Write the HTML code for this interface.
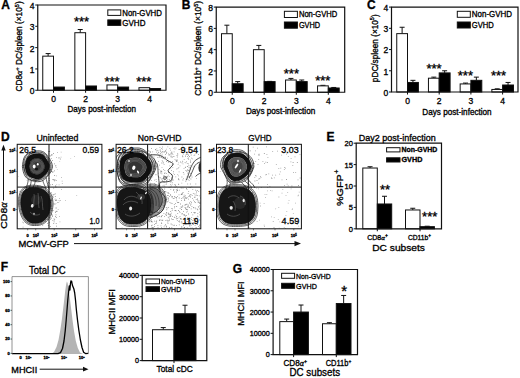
<!DOCTYPE html>
<html><head><meta charset="utf-8"><style>
html,body{margin:0;padding:0;background:#fff;}
body{width:520px;height:378px;overflow:hidden;}
svg{display:block;font-family:"Liberation Sans", sans-serif;}
text{fill:#000;stroke:#000;stroke-width:0.32px;}
</style></head><body>
<svg width="520" height="378" viewBox="0 0 520 378">
<rect width="520" height="378" fill="#fff"/>
<line x1="48.12" y1="53.59" x2="48.12" y2="56.15" stroke="#111" stroke-width="1.0"/>
<line x1="45.62" y1="53.59" x2="50.62" y2="53.59" stroke="#111" stroke-width="1.0"/>
<rect x="42.75" y="56.15" width="10.75" height="34.10" fill="#fff" stroke="#111" stroke-width="1.0"/>
<rect x="53.50" y="87.05" width="10.90" height="3.20" fill="#000" stroke="#111" stroke-width="1.0"/>
<line x1="80.22" y1="29.51" x2="80.22" y2="32.71" stroke="#111" stroke-width="1.0"/>
<line x1="77.72" y1="29.51" x2="82.72" y2="29.51" stroke="#111" stroke-width="1.0"/>
<rect x="74.85" y="32.71" width="10.75" height="57.54" fill="#fff" stroke="#111" stroke-width="1.0"/>
<rect x="85.60" y="85.99" width="10.90" height="4.26" fill="#000" stroke="#111" stroke-width="1.0"/>
<rect x="106.95" y="84.92" width="10.75" height="5.33" fill="#fff" stroke="#111" stroke-width="1.0"/>
<rect x="117.70" y="87.05" width="10.90" height="3.20" fill="#000" stroke="#111" stroke-width="1.0"/>
<rect x="138.95" y="87.69" width="10.75" height="2.56" fill="#fff" stroke="#111" stroke-width="1.0"/>
<rect x="149.70" y="88.55" width="10.90" height="1.70" fill="#000" stroke="#111" stroke-width="1.0"/>
<path d="M37.75 90.25 V5.00 H166.00 V90.25 Z" fill="none" stroke="#111" stroke-width="1.2"/>
<line x1="35.25" y1="90.25" x2="37.75" y2="90.25" stroke="#111" stroke-width="1.0"/>
<g transform="translate(34.45 94.12)"><text class="m" data-k="7652c15eb8" font-size="8.5" text-anchor="end" >0</text></g>
<line x1="35.25" y1="68.94" x2="37.75" y2="68.94" stroke="#111" stroke-width="1.0"/>
<g transform="translate(34.45 72.81)"><text class="m" data-k="2e01a6516e" font-size="8.5" text-anchor="end" >1</text></g>
<line x1="35.25" y1="47.62" x2="37.75" y2="47.62" stroke="#111" stroke-width="1.0"/>
<g transform="translate(34.45 51.50)"><text class="m" data-k="d36840736b" font-size="8.5" text-anchor="end" >2</text></g>
<line x1="35.25" y1="26.31" x2="37.75" y2="26.31" stroke="#111" stroke-width="1.0"/>
<g transform="translate(34.45 30.19)"><text class="m" data-k="c0ca9c3d36" font-size="8.5" text-anchor="end" >3</text></g>
<line x1="35.25" y1="5.00" x2="37.75" y2="5.00" stroke="#111" stroke-width="1.0"/>
<g transform="translate(34.45 8.88)"><text class="m" data-k="cc4c222c48" font-size="8.5" text-anchor="end" >4</text></g>
<line x1="53.50" y1="90.25" x2="53.50" y2="92.75" stroke="#111" stroke-width="1.0"/>
<g transform="translate(53.50 101.80)"><text class="m" data-k="7652c15eb8" font-size="8.5" text-anchor="middle" >0</text></g>
<line x1="85.60" y1="90.25" x2="85.60" y2="92.75" stroke="#111" stroke-width="1.0"/>
<g transform="translate(85.60 101.80)"><text class="m" data-k="d36840736b" font-size="8.5" text-anchor="middle" >2</text></g>
<line x1="117.70" y1="90.25" x2="117.70" y2="92.75" stroke="#111" stroke-width="1.0"/>
<g transform="translate(117.70 101.80)"><text class="m" data-k="c0ca9c3d36" font-size="8.5" text-anchor="middle" >3</text></g>
<line x1="149.70" y1="90.25" x2="149.70" y2="92.75" stroke="#111" stroke-width="1.0"/>
<g transform="translate(149.70 101.80)"><text class="m" data-k="cc4c222c48" font-size="8.5" text-anchor="middle" >4</text></g>
<g transform="translate(101.80 111.70) scale(0.9727 1)"><text class="m" data-k="b7d77f60c7" font-size="8.3" text-anchor="middle" >Days post-infection</text></g>
<g transform="translate(81.50 25.56)"><text class="m" data-k="a80f26dd0e" font-size="13" text-anchor="middle" >***</text></g>
<g transform="translate(112.10 85.76)"><text class="m" data-k="a80f26dd0e" font-size="13" text-anchor="middle" >***</text></g>
<g transform="translate(143.80 85.76)"><text class="m" data-k="a80f26dd0e" font-size="13" text-anchor="middle" >***</text></g>
<rect x="107.80" y="9.90" width="13.00" height="5.50" fill="#fff" stroke="#111" stroke-width="1.0"/>
<rect x="107.80" y="19.90" width="13.00" height="5.50" fill="#000" stroke="#111" stroke-width="1.0"/>
<g transform="translate(122.30 15.58) scale(0.9563 1)"><text class="m" data-k="41c94f9363" font-size="8.2" text-anchor="start" >Non-GVHD</text></g>
<g transform="translate(122.30 25.58) scale(0.9776 1)"><text class="m" data-k="4a9102319d" font-size="8.2" text-anchor="start" >GVHD</text></g>
<g transform="translate(9.80 9.00)"><text class="m" data-k="0770324ede" font-size="12" text-anchor="end" font-weight="bold" >A</text></g>
<g transform="translate(22.20 46.45) rotate(-90) scale(0.9457 1)"><text class="m" data-k="2976ca9b96" font-size="8.8" text-anchor="middle" >CD8<tspan font-family="Liberation Serif" font-style="italic">α</tspan><tspan dy="-3.6" font-size="5.8">+</tspan><tspan dy="3.6"> DC/spleen (×10</tspan><tspan dy="-3.6" font-size="5.8">5</tspan><tspan dy="3.6">)</tspan></text></g>
<line x1="226.88" y1="25.19" x2="226.88" y2="33.71" stroke="#111" stroke-width="1.0"/>
<line x1="224.38" y1="25.19" x2="229.38" y2="25.19" stroke="#111" stroke-width="1.0"/>
<rect x="221.50" y="33.71" width="10.75" height="58.54" fill="#fff" stroke="#111" stroke-width="1.0"/>
<line x1="237.70" y1="81.61" x2="237.70" y2="83.73" stroke="#111" stroke-width="1.0"/>
<line x1="235.20" y1="81.61" x2="240.20" y2="81.61" stroke="#111" stroke-width="1.0"/>
<rect x="232.25" y="83.73" width="10.90" height="8.52" fill="#000" stroke="#111" stroke-width="1.0"/>
<line x1="258.82" y1="45.42" x2="258.82" y2="49.67" stroke="#111" stroke-width="1.0"/>
<line x1="256.32" y1="45.42" x2="261.32" y2="45.42" stroke="#111" stroke-width="1.0"/>
<rect x="253.45" y="49.67" width="10.75" height="42.58" fill="#fff" stroke="#111" stroke-width="1.0"/>
<line x1="269.65" y1="81.39" x2="269.65" y2="81.61" stroke="#111" stroke-width="1.0"/>
<line x1="267.15" y1="81.39" x2="272.15" y2="81.39" stroke="#111" stroke-width="1.0"/>
<rect x="264.20" y="81.61" width="10.90" height="10.64" fill="#000" stroke="#111" stroke-width="1.0"/>
<line x1="290.93" y1="78.41" x2="290.93" y2="80.01" stroke="#111" stroke-width="1.0"/>
<line x1="288.43" y1="78.41" x2="293.43" y2="78.41" stroke="#111" stroke-width="1.0"/>
<rect x="285.55" y="80.01" width="10.75" height="12.24" fill="#fff" stroke="#111" stroke-width="1.0"/>
<line x1="301.75" y1="80.01" x2="301.75" y2="81.61" stroke="#111" stroke-width="1.0"/>
<line x1="299.25" y1="80.01" x2="304.25" y2="80.01" stroke="#111" stroke-width="1.0"/>
<rect x="296.30" y="81.61" width="10.90" height="10.64" fill="#000" stroke="#111" stroke-width="1.0"/>
<line x1="322.93" y1="85.33" x2="322.93" y2="85.86" stroke="#111" stroke-width="1.0"/>
<line x1="320.43" y1="85.33" x2="325.43" y2="85.33" stroke="#111" stroke-width="1.0"/>
<rect x="317.55" y="85.86" width="10.75" height="6.39" fill="#fff" stroke="#111" stroke-width="1.0"/>
<line x1="333.75" y1="87.46" x2="333.75" y2="87.99" stroke="#111" stroke-width="1.0"/>
<line x1="331.25" y1="87.46" x2="336.25" y2="87.46" stroke="#111" stroke-width="1.0"/>
<rect x="328.30" y="87.99" width="10.90" height="4.26" fill="#000" stroke="#111" stroke-width="1.0"/>
<path d="M216.25 92.25 V7.10 H344.70 V92.25 Z" fill="none" stroke="#111" stroke-width="1.2"/>
<line x1="213.75" y1="92.25" x2="216.25" y2="92.25" stroke="#111" stroke-width="1.0"/>
<g transform="translate(212.95 96.12)"><text class="m" data-k="7652c15eb8" font-size="8.5" text-anchor="end" >0</text></g>
<line x1="213.75" y1="70.96" x2="216.25" y2="70.96" stroke="#111" stroke-width="1.0"/>
<g transform="translate(212.95 74.84)"><text class="m" data-k="d36840736b" font-size="8.5" text-anchor="end" >2</text></g>
<line x1="213.75" y1="49.67" x2="216.25" y2="49.67" stroke="#111" stroke-width="1.0"/>
<g transform="translate(212.95 53.55)"><text class="m" data-k="cc4c222c48" font-size="8.5" text-anchor="end" >4</text></g>
<line x1="213.75" y1="28.39" x2="216.25" y2="28.39" stroke="#111" stroke-width="1.0"/>
<g transform="translate(212.95 32.26)"><text class="m" data-k="343c27af00" font-size="8.5" text-anchor="end" >6</text></g>
<line x1="213.75" y1="7.10" x2="216.25" y2="7.10" stroke="#111" stroke-width="1.0"/>
<g transform="translate(212.95 10.97)"><text class="m" data-k="4eb5060052" font-size="8.5" text-anchor="end" >8</text></g>
<line x1="232.25" y1="92.25" x2="232.25" y2="94.75" stroke="#111" stroke-width="1.0"/>
<g transform="translate(232.25 103.60)"><text class="m" data-k="7652c15eb8" font-size="8.5" text-anchor="middle" >0</text></g>
<line x1="264.20" y1="92.25" x2="264.20" y2="94.75" stroke="#111" stroke-width="1.0"/>
<g transform="translate(264.20 103.60)"><text class="m" data-k="d36840736b" font-size="8.5" text-anchor="middle" >2</text></g>
<line x1="296.30" y1="92.25" x2="296.30" y2="94.75" stroke="#111" stroke-width="1.0"/>
<g transform="translate(296.30 103.60)"><text class="m" data-k="c0ca9c3d36" font-size="8.5" text-anchor="middle" >3</text></g>
<line x1="328.30" y1="92.25" x2="328.30" y2="94.75" stroke="#111" stroke-width="1.0"/>
<g transform="translate(328.30 103.60)"><text class="m" data-k="cc4c222c48" font-size="8.5" text-anchor="middle" >4</text></g>
<g transform="translate(280.60 114.20) scale(0.9825 1)"><text class="m" data-k="b7d77f60c7" font-size="8.3" text-anchor="middle" >Days post-infection</text></g>
<g transform="translate(291.40 78.36)"><text class="m" data-k="a80f26dd0e" font-size="13" text-anchor="middle" >***</text></g>
<g transform="translate(322.80 85.16)"><text class="m" data-k="a80f26dd0e" font-size="13" text-anchor="middle" >***</text></g>
<rect x="284.40" y="11.30" width="13.00" height="6.20" fill="#fff" stroke="#111" stroke-width="1.0"/>
<rect x="284.40" y="22.00" width="13.00" height="6.20" fill="#000" stroke="#111" stroke-width="1.0"/>
<g transform="translate(298.90 17.33) scale(0.9274 1)"><text class="m" data-k="41c94f9363" font-size="8.2" text-anchor="start" >Non-GVHD</text></g>
<g transform="translate(298.90 28.03) scale(0.8982 1)"><text class="m" data-k="4a9102319d" font-size="8.2" text-anchor="start" >GVHD</text></g>
<g transform="translate(190.30 8.60)"><text class="m" data-k="859c7d5dc5" font-size="12" text-anchor="end" font-weight="bold" >B</text></g>
<g transform="translate(201.20 48.40) rotate(-90) scale(0.9473 1)"><text class="m" data-k="c3af9a8b5e" font-size="8.8" text-anchor="middle" >CD11b<tspan dy="-3.6" font-size="5.8">+</tspan><tspan dy="3.6"> DC/spleen (×10</tspan><tspan dy="-3.6" font-size="5.8">5</tspan><tspan dy="3.6">)</tspan></text></g>
<line x1="402.12" y1="27.26" x2="402.12" y2="33.63" stroke="#111" stroke-width="1.0"/>
<line x1="399.62" y1="27.26" x2="404.62" y2="27.26" stroke="#111" stroke-width="1.0"/>
<rect x="396.75" y="33.63" width="10.75" height="58.37" fill="#fff" stroke="#111" stroke-width="1.0"/>
<line x1="412.95" y1="80.33" x2="412.95" y2="82.45" stroke="#111" stroke-width="1.0"/>
<line x1="410.45" y1="80.33" x2="415.45" y2="80.33" stroke="#111" stroke-width="1.0"/>
<rect x="407.50" y="82.45" width="10.90" height="9.55" fill="#000" stroke="#111" stroke-width="1.0"/>
<line x1="433.82" y1="77.14" x2="433.82" y2="78.20" stroke="#111" stroke-width="1.0"/>
<line x1="431.32" y1="77.14" x2="436.32" y2="77.14" stroke="#111" stroke-width="1.0"/>
<rect x="428.45" y="78.20" width="10.75" height="13.80" fill="#fff" stroke="#111" stroke-width="1.0"/>
<line x1="444.65" y1="70.78" x2="444.65" y2="72.90" stroke="#111" stroke-width="1.0"/>
<line x1="442.15" y1="70.78" x2="447.15" y2="70.78" stroke="#111" stroke-width="1.0"/>
<rect x="439.20" y="72.90" width="10.90" height="19.10" fill="#000" stroke="#111" stroke-width="1.0"/>
<line x1="465.52" y1="83.09" x2="465.52" y2="83.93" stroke="#111" stroke-width="1.0"/>
<line x1="463.02" y1="83.09" x2="468.02" y2="83.09" stroke="#111" stroke-width="1.0"/>
<rect x="460.15" y="83.93" width="10.75" height="8.07" fill="#fff" stroke="#111" stroke-width="1.0"/>
<line x1="476.35" y1="77.14" x2="476.35" y2="80.33" stroke="#111" stroke-width="1.0"/>
<line x1="473.85" y1="77.14" x2="478.85" y2="77.14" stroke="#111" stroke-width="1.0"/>
<rect x="470.90" y="80.33" width="10.90" height="11.67" fill="#000" stroke="#111" stroke-width="1.0"/>
<line x1="497.23" y1="88.82" x2="497.23" y2="89.45" stroke="#111" stroke-width="1.0"/>
<line x1="494.73" y1="88.82" x2="499.73" y2="88.82" stroke="#111" stroke-width="1.0"/>
<rect x="491.85" y="89.45" width="10.75" height="2.55" fill="#fff" stroke="#111" stroke-width="1.0"/>
<line x1="508.05" y1="82.45" x2="508.05" y2="85.00" stroke="#111" stroke-width="1.0"/>
<line x1="505.55" y1="82.45" x2="510.55" y2="82.45" stroke="#111" stroke-width="1.0"/>
<rect x="502.60" y="85.00" width="10.90" height="7.00" fill="#000" stroke="#111" stroke-width="1.0"/>
<path d="M391.50 92.00 V7.10 H518.00 V92.00 Z" fill="none" stroke="#111" stroke-width="1.2"/>
<line x1="389.00" y1="92.00" x2="391.50" y2="92.00" stroke="#111" stroke-width="1.0"/>
<g transform="translate(388.20 95.88)"><text class="m" data-k="7652c15eb8" font-size="8.5" text-anchor="end" >0</text></g>
<line x1="389.00" y1="70.78" x2="391.50" y2="70.78" stroke="#111" stroke-width="1.0"/>
<g transform="translate(388.20 74.65)"><text class="m" data-k="2e01a6516e" font-size="8.5" text-anchor="end" >1</text></g>
<line x1="389.00" y1="49.55" x2="391.50" y2="49.55" stroke="#111" stroke-width="1.0"/>
<g transform="translate(388.20 53.42)"><text class="m" data-k="d36840736b" font-size="8.5" text-anchor="end" >2</text></g>
<line x1="389.00" y1="28.32" x2="391.50" y2="28.32" stroke="#111" stroke-width="1.0"/>
<g transform="translate(388.20 32.20)"><text class="m" data-k="c0ca9c3d36" font-size="8.5" text-anchor="end" >3</text></g>
<line x1="389.00" y1="7.10" x2="391.50" y2="7.10" stroke="#111" stroke-width="1.0"/>
<g transform="translate(388.20 10.97)"><text class="m" data-k="cc4c222c48" font-size="8.5" text-anchor="end" >4</text></g>
<line x1="407.50" y1="92.00" x2="407.50" y2="94.50" stroke="#111" stroke-width="1.0"/>
<g transform="translate(407.50 104.00)"><text class="m" data-k="7652c15eb8" font-size="8.5" text-anchor="middle" >0</text></g>
<line x1="439.20" y1="92.00" x2="439.20" y2="94.50" stroke="#111" stroke-width="1.0"/>
<g transform="translate(439.20 104.00)"><text class="m" data-k="d36840736b" font-size="8.5" text-anchor="middle" >2</text></g>
<line x1="470.90" y1="92.00" x2="470.90" y2="94.50" stroke="#111" stroke-width="1.0"/>
<g transform="translate(470.90 104.00)"><text class="m" data-k="c0ca9c3d36" font-size="8.5" text-anchor="middle" >3</text></g>
<line x1="502.60" y1="92.00" x2="502.60" y2="94.50" stroke="#111" stroke-width="1.0"/>
<g transform="translate(502.60 104.00)"><text class="m" data-k="cc4c222c48" font-size="8.5" text-anchor="middle" >4</text></g>
<g transform="translate(457.00 114.50) scale(0.9825 1)"><text class="m" data-k="b7d77f60c7" font-size="8.3" text-anchor="middle" >Days post-infection</text></g>
<g transform="translate(434.00 73.36)"><text class="m" data-k="a80f26dd0e" font-size="13" text-anchor="middle" >***</text></g>
<g transform="translate(465.40 79.66)"><text class="m" data-k="a80f26dd0e" font-size="13" text-anchor="middle" >***</text></g>
<g transform="translate(498.50 79.66)"><text class="m" data-k="a80f26dd0e" font-size="13" text-anchor="middle" >***</text></g>
<rect x="457.30" y="11.30" width="13.00" height="6.00" fill="#fff" stroke="#111" stroke-width="1.0"/>
<rect x="457.30" y="22.00" width="13.00" height="6.00" fill="#000" stroke="#111" stroke-width="1.0"/>
<g transform="translate(471.80 17.23) scale(0.9707 1)"><text class="m" data-k="41c94f9363" font-size="8.2" text-anchor="start" >Non-GVHD</text></g>
<g transform="translate(471.80 27.93) scale(0.9317 1)"><text class="m" data-k="4a9102319d" font-size="8.2" text-anchor="start" >GVHD</text></g>
<g transform="translate(375.70 8.80)"><text class="m" data-k="4dc33cd0ea" font-size="12" text-anchor="end" font-weight="bold" >C</text></g>
<g transform="translate(377.60 48.25) rotate(-90) scale(0.9356 1)"><text class="m" data-k="dc975e90f4" font-size="8.8" text-anchor="middle" >pDC/spleen (×10<tspan dy="-3.6" font-size="5.8">5</tspan><tspan dy="3.6">)</tspan></text></g>
<line x1="370.05" y1="166.74" x2="370.05" y2="168.02" stroke="#111" stroke-width="1.0"/>
<line x1="367.55" y1="166.74" x2="372.55" y2="166.74" stroke="#111" stroke-width="1.0"/>
<rect x="362.80" y="168.02" width="14.50" height="60.78" fill="#fff" stroke="#111" stroke-width="1.0"/>
<line x1="384.50" y1="196.27" x2="384.50" y2="203.98" stroke="#111" stroke-width="1.0"/>
<line x1="382.00" y1="196.27" x2="387.00" y2="196.27" stroke="#111" stroke-width="1.0"/>
<rect x="377.30" y="203.98" width="14.40" height="24.82" fill="#000" stroke="#111" stroke-width="1.0"/>
<line x1="412.75" y1="208.26" x2="412.75" y2="209.97" stroke="#111" stroke-width="1.0"/>
<line x1="410.25" y1="208.26" x2="415.25" y2="208.26" stroke="#111" stroke-width="1.0"/>
<rect x="405.50" y="209.97" width="14.50" height="18.83" fill="#fff" stroke="#111" stroke-width="1.0"/>
<line x1="427.20" y1="226.23" x2="427.20" y2="226.66" stroke="#111" stroke-width="1.0"/>
<line x1="424.70" y1="226.23" x2="429.70" y2="226.23" stroke="#111" stroke-width="1.0"/>
<rect x="420.00" y="226.66" width="14.40" height="2.14" fill="#000" stroke="#111" stroke-width="1.0"/>
<path d="M356.20 228.80 V143.20 H441.50 V228.80 Z" fill="none" stroke="#111" stroke-width="1.2"/>
<line x1="353.70" y1="228.80" x2="356.20" y2="228.80" stroke="#111" stroke-width="1.0"/>
<g transform="translate(352.90 231.73)"><text class="m" data-k="f842541abe" font-size="7.5" text-anchor="end" >0</text></g>
<line x1="353.70" y1="207.40" x2="356.20" y2="207.40" stroke="#111" stroke-width="1.0"/>
<g transform="translate(352.90 210.33)"><text class="m" data-k="abe919a28e" font-size="7.5" text-anchor="end" >5</text></g>
<line x1="353.70" y1="186.00" x2="356.20" y2="186.00" stroke="#111" stroke-width="1.0"/>
<g transform="translate(352.90 188.93)"><text class="m" data-k="0d8269640e" font-size="7.5" text-anchor="end" >10</text></g>
<line x1="353.70" y1="164.60" x2="356.20" y2="164.60" stroke="#111" stroke-width="1.0"/>
<g transform="translate(352.90 167.53)"><text class="m" data-k="58caa89486" font-size="7.5" text-anchor="end" >15</text></g>
<line x1="353.70" y1="143.20" x2="356.20" y2="143.20" stroke="#111" stroke-width="1.0"/>
<g transform="translate(352.90 146.12)"><text class="m" data-k="7b0a2c96f2" font-size="7.5" text-anchor="end" >20</text></g>
<line x1="377.30" y1="228.80" x2="377.30" y2="231.30" stroke="#111" stroke-width="1.0"/>
<line x1="420.00" y1="228.80" x2="420.00" y2="231.30" stroke="#111" stroke-width="1.0"/>
<g transform="translate(385.00 194.16)"><text class="m" data-k="bab2c77168" font-size="13" text-anchor="middle" >**</text></g>
<g transform="translate(429.70 221.46)"><text class="m" data-k="a80f26dd0e" font-size="13" text-anchor="middle" >***</text></g>
<rect x="386.60" y="147.70" width="13.40" height="4.20" fill="#fff" stroke="#111" stroke-width="1.0"/>
<rect x="386.60" y="157.80" width="13.40" height="4.20" fill="#000" stroke="#111" stroke-width="1.0"/>
<g transform="translate(401.50 152.30) scale(0.9936 1)"><text class="m" data-k="2b7950bfba" font-size="7.0" text-anchor="start" font-weight="bold" >Non-GVHD</text></g>
<g transform="translate(401.50 162.40) scale(1.0314 1)"><text class="m" data-k="34841b2367" font-size="7.0" text-anchor="start" font-weight="bold" >GVHD</text></g>
<g transform="translate(377.50 239.70) scale(1.0064 1)"><text class="m" data-k="305d4fbf4e" font-size="7.0" text-anchor="middle" >CD8<tspan font-family="Liberation Serif" font-style="italic">α</tspan><tspan dy="-3" font-size="5">+</tspan></text></g>
<g transform="translate(419.50 239.70) scale(0.9594 1)"><text class="m" data-k="b80ccac152" font-size="7.0" text-anchor="middle" >CD11b<tspan dy="-3" font-size="5">+</tspan></text></g>
<g transform="translate(398.60 251.00) scale(1.0406 1)"><text class="m" data-k="c828310e50" font-size="9.8" text-anchor="middle" >DC subsets</text></g>
<g transform="translate(334.60 140.60)"><text class="m" data-k="2bd42117c5" font-size="12" text-anchor="end" font-weight="bold" >E</text></g>
<g transform="translate(397.30 140.50) scale(0.9469 1)"><text class="m" data-k="322145856c" font-size="9.5" text-anchor="middle" >Day2 post-infection</text></g>
<g transform="translate(343.30 187.80) rotate(-90) scale(1.0981 1)"><text class="m" data-k="ecfba03693" font-size="9.8" text-anchor="middle" >%GFP<tspan dx="0.6" dy="-4.2" font-size="6.5">+</tspan></text></g>
<line x1="163.25" y1="327.58" x2="163.25" y2="329.72" stroke="#111" stroke-width="1.0"/>
<line x1="160.75" y1="327.58" x2="165.75" y2="327.58" stroke="#111" stroke-width="1.0"/>
<rect x="152.50" y="329.72" width="21.50" height="30.88" fill="#fff" stroke="#111" stroke-width="1.0"/>
<line x1="185.00" y1="305.22" x2="185.00" y2="313.74" stroke="#111" stroke-width="1.0"/>
<line x1="182.50" y1="305.22" x2="187.50" y2="305.22" stroke="#111" stroke-width="1.0"/>
<rect x="174.00" y="313.74" width="22.00" height="46.86" fill="#000" stroke="#111" stroke-width="1.0"/>
<path d="M142.20 360.60 V275.40 H206.80 V360.60 Z" fill="none" stroke="#111" stroke-width="1.2"/>
<line x1="139.70" y1="360.60" x2="142.20" y2="360.60" stroke="#111" stroke-width="1.0"/>
<g transform="translate(138.90 363.42)"><text class="m" data-k="1683d55d86" font-size="7.2" text-anchor="end" >0</text></g>
<line x1="139.70" y1="339.30" x2="142.20" y2="339.30" stroke="#111" stroke-width="1.0"/>
<g transform="translate(138.90 342.12)"><text class="m" data-k="07b96a9192" font-size="7.2" text-anchor="end" >10000</text></g>
<line x1="139.70" y1="318.00" x2="142.20" y2="318.00" stroke="#111" stroke-width="1.0"/>
<g transform="translate(138.90 320.82)"><text class="m" data-k="5f0aecb6b7" font-size="7.2" text-anchor="end" >20000</text></g>
<line x1="139.70" y1="296.70" x2="142.20" y2="296.70" stroke="#111" stroke-width="1.0"/>
<g transform="translate(138.90 299.52)"><text class="m" data-k="be35c7a6cc" font-size="7.2" text-anchor="end" >30000</text></g>
<line x1="139.70" y1="275.40" x2="142.20" y2="275.40" stroke="#111" stroke-width="1.0"/>
<g transform="translate(138.90 278.22)"><text class="m" data-k="013b6df410" font-size="7.2" text-anchor="end" >40000</text></g>
<line x1="174.00" y1="360.60" x2="174.00" y2="363.10" stroke="#111" stroke-width="1.0"/>
<rect x="146.00" y="279.00" width="13.50" height="4.80" fill="#fff" stroke="#111" stroke-width="1.0"/>
<rect x="146.00" y="286.70" width="13.50" height="4.80" fill="#000" stroke="#111" stroke-width="1.0"/>
<g transform="translate(161.00 284.18) scale(0.8559 1)"><text class="m" data-k="2ca3f3078e" font-size="7.8" text-anchor="start" >Non-GVHD</text></g>
<g transform="translate(161.00 291.88) scale(0.8974 1)"><text class="m" data-k="33703053cf" font-size="7.8" text-anchor="start" >GVHD</text></g>
<g transform="translate(174.60 372.20) scale(0.8820 1)"><text class="m" data-k="c1b3910c32" font-size="9.5" text-anchor="middle" >Total cDC</text></g>
<g transform="translate(114.60 311.80) rotate(-90) scale(0.9619 1)"><text class="m" data-k="47d7f2d581" font-size="9.8" text-anchor="middle" >MHCII MFI</text></g>
<line x1="286.70" y1="319.07" x2="286.70" y2="321.62" stroke="#111" stroke-width="1.0"/>
<line x1="284.20" y1="319.07" x2="289.20" y2="319.07" stroke="#111" stroke-width="1.0"/>
<rect x="279.80" y="321.62" width="13.80" height="32.98" fill="#fff" stroke="#111" stroke-width="1.0"/>
<line x1="301.00" y1="305.03" x2="301.00" y2="312.05" stroke="#111" stroke-width="1.0"/>
<line x1="298.50" y1="305.03" x2="303.50" y2="305.03" stroke="#111" stroke-width="1.0"/>
<rect x="293.60" y="312.05" width="14.80" height="42.55" fill="#000" stroke="#111" stroke-width="1.0"/>
<line x1="329.40" y1="322.69" x2="329.40" y2="323.75" stroke="#111" stroke-width="1.0"/>
<line x1="326.90" y1="322.69" x2="331.90" y2="322.69" stroke="#111" stroke-width="1.0"/>
<rect x="322.50" y="323.75" width="13.80" height="30.85" fill="#fff" stroke="#111" stroke-width="1.0"/>
<line x1="343.65" y1="295.46" x2="343.65" y2="303.54" stroke="#111" stroke-width="1.0"/>
<line x1="341.15" y1="295.46" x2="346.15" y2="295.46" stroke="#111" stroke-width="1.0"/>
<rect x="336.30" y="303.54" width="14.70" height="51.06" fill="#000" stroke="#111" stroke-width="1.0"/>
<path d="M273.10 354.60 V269.50 H357.50 V354.60 Z" fill="none" stroke="#111" stroke-width="1.2"/>
<line x1="270.60" y1="354.60" x2="273.10" y2="354.60" stroke="#111" stroke-width="1.0"/>
<g transform="translate(269.80 357.42)"><text class="m" data-k="1683d55d86" font-size="7.2" text-anchor="end" >0</text></g>
<line x1="270.60" y1="333.33" x2="273.10" y2="333.33" stroke="#111" stroke-width="1.0"/>
<g transform="translate(269.80 336.15)"><text class="m" data-k="07b96a9192" font-size="7.2" text-anchor="end" >10000</text></g>
<line x1="270.60" y1="312.05" x2="273.10" y2="312.05" stroke="#111" stroke-width="1.0"/>
<g transform="translate(269.80 314.87)"><text class="m" data-k="5f0aecb6b7" font-size="7.2" text-anchor="end" >20000</text></g>
<line x1="270.60" y1="290.77" x2="273.10" y2="290.77" stroke="#111" stroke-width="1.0"/>
<g transform="translate(269.80 293.59)"><text class="m" data-k="be35c7a6cc" font-size="7.2" text-anchor="end" >30000</text></g>
<line x1="270.60" y1="269.50" x2="273.10" y2="269.50" stroke="#111" stroke-width="1.0"/>
<g transform="translate(269.80 272.32)"><text class="m" data-k="013b6df410" font-size="7.2" text-anchor="end" >40000</text></g>
<line x1="293.60" y1="354.60" x2="293.60" y2="357.10" stroke="#111" stroke-width="1.0"/>
<line x1="336.30" y1="354.60" x2="336.30" y2="357.10" stroke="#111" stroke-width="1.0"/>
<g transform="translate(344.20 295.60)"><text class="m" data-k="c1975f6d28" font-size="15" text-anchor="middle" >*</text></g>
<rect x="281.60" y="273.30" width="13.00" height="5.00" fill="#fff" stroke="#111" stroke-width="1.0"/>
<rect x="281.60" y="283.30" width="13.00" height="5.00" fill="#000" stroke="#111" stroke-width="1.0"/>
<g transform="translate(296.10 278.58) scale(0.8788 1)"><text class="m" data-k="2ca3f3078e" font-size="7.8" text-anchor="start" >Non-GVHD</text></g>
<g transform="translate(296.10 288.58) scale(0.9197 1)"><text class="m" data-k="33703053cf" font-size="7.8" text-anchor="start" >GVHD</text></g>
<g transform="translate(295.30 366.20) scale(0.9706 1)"><text class="m" data-k="c8ddbb12d3" font-size="8.4" text-anchor="middle" >CD8<tspan font-family="Liberation Serif" font-style="italic">α</tspan><tspan dy="-3.2" font-size="5.5">+</tspan></text></g>
<g transform="translate(338.50 366.20) scale(0.8914 1)"><text class="m" data-k="f8875946be" font-size="8.4" text-anchor="middle" >CD11b<tspan dy="-3.2" font-size="5.5">+</tspan></text></g>
<g transform="translate(314.75 376.40) scale(0.9062 1)"><text class="m" data-k="71e0a83282" font-size="10.8" text-anchor="middle" >DC subsets</text></g>
<g transform="translate(242.20 272.60)"><text class="m" data-k="34ae9f3343" font-size="12" text-anchor="end" font-weight="bold" >G</text></g>
<g transform="translate(244.20 303.60) rotate(-90) scale(0.9407 1)"><text class="m" data-k="47d7f2d581" font-size="9.8" text-anchor="middle" >MHCII MFI</text></g>
<polygon points="12.0,354.0 51.0,354.0 54.0,352.0 56.5,347.0 58.5,340.0 60.3,330.0 61.8,320.0 63.0,310.0 64.2,300.0 65.2,291.0 66.2,284.0 66.9,281.5 67.6,283.0 68.4,287.0 69.2,293.0 70.2,301.0 71.3,310.0 72.5,320.0 74.0,331.0 75.8,341.0 77.8,348.0 80.0,352.5 83.0,354.0 88.0,354.0" fill="#b4b4b4" stroke="none"/>
<polyline points="12.0,353.6 58.0,353.6 60.5,352.6 62.5,348.5 64.0,341.0 65.2,331.0 66.2,320.0 67.0,310.0 67.8,300.0 68.6,292.0 69.3,286.0 69.9,290.0 70.4,284.0 70.9,281.0 71.6,281.2 72.3,285.0 73.1,287.0 73.9,289.0 74.7,293.0 75.5,300.0 76.4,310.0 77.5,320.0 78.8,330.0 80.4,340.0 82.0,347.5 83.6,352.2 85.5,353.6 88.0,353.3" fill="none" stroke="#000" stroke-width="1.3" stroke-linejoin="round"/>
<path d="M12.0 354.1 V276.6 H88.4 V354.1" fill="none" stroke="#777" stroke-width="0.8"/>
<line x1="10.50" y1="353.40" x2="12.00" y2="353.40" stroke="#111" stroke-width="0.6"/>
<g transform="translate(9.80 354.80)"><text class="m" data-k="12c0fdcf93" font-size="4.0" text-anchor="end" font-weight="bold" >0</text></g>
<line x1="10.50" y1="339.04" x2="12.00" y2="339.04" stroke="#111" stroke-width="0.6"/>
<g transform="translate(9.80 340.44)"><text class="m" data-k="42ce7d3a89" font-size="4.0" text-anchor="end" font-weight="bold" >20</text></g>
<line x1="10.50" y1="324.68" x2="12.00" y2="324.68" stroke="#111" stroke-width="0.6"/>
<g transform="translate(9.80 326.08)"><text class="m" data-k="20f773cdbf" font-size="4.0" text-anchor="end" font-weight="bold" >40</text></g>
<line x1="10.50" y1="310.32" x2="12.00" y2="310.32" stroke="#111" stroke-width="0.6"/>
<g transform="translate(9.80 311.72)"><text class="m" data-k="63bc2c1b52" font-size="4.0" text-anchor="end" font-weight="bold" >60</text></g>
<line x1="10.50" y1="295.96" x2="12.00" y2="295.96" stroke="#111" stroke-width="0.6"/>
<g transform="translate(9.80 297.36)"><text class="m" data-k="7a20a64f2b" font-size="4.0" text-anchor="end" font-weight="bold" >80</text></g>
<line x1="10.50" y1="281.60" x2="12.00" y2="281.60" stroke="#111" stroke-width="0.6"/>
<g transform="translate(9.80 283.00)"><text class="m" data-k="8a31b54138" font-size="4.0" text-anchor="end" font-weight="bold" >100</text></g>
<g transform="translate(20.50 359.40)"><text class="m" data-k="12c0fdcf93" font-size="4.0" text-anchor="middle" font-weight="bold" >0</text></g>
<g transform="translate(28.50 359.40)"><text class="m" data-k="8fe4e836a2" font-size="4.0" text-anchor="middle" font-weight="bold" >10<tspan dy="-1.2" font-size="2.5">2</tspan></text></g>
<g transform="translate(46.50 359.40)"><text class="m" data-k="b75ec3a112" font-size="4.0" text-anchor="middle" font-weight="bold" >10<tspan dy="-1.2" font-size="2.5">3</tspan></text></g>
<g transform="translate(64.00 359.40)"><text class="m" data-k="2d0201994c" font-size="4.0" text-anchor="middle" font-weight="bold" >10<tspan dy="-1.2" font-size="2.5">4</tspan></text></g>
<g transform="translate(81.70 359.40)"><text class="m" data-k="5c1c60be0d" font-size="4.0" text-anchor="middle" font-weight="bold" >10<tspan dy="-1.2" font-size="2.5">5</tspan></text></g>
<g transform="translate(11.30 372.60) scale(0.9956 1)"><text class="m" data-k="c86f5c5c9d" font-size="9.2" text-anchor="start" >MHCII</text></g>
<line x1="39.70" y1="369.20" x2="84.00" y2="369.20" stroke="#111" stroke-width="1.0"/>
<path d="M88.5 369.2 L83 366.8 L83 371.6 Z" fill="#111"/>
<g transform="translate(8.20 271.40)"><text class="m" data-k="43aa709699" font-size="12" text-anchor="end" font-weight="bold" >F</text></g>
<g transform="translate(47.30 273.60) scale(0.9111 1)"><text class="m" data-k="49a21ef7a0" font-size="10.5" text-anchor="middle" >Total DC</text></g>
<clipPath id="clipD1"><rect x="17.2" y="144.3" width="84.7" height="84.5"/></clipPath>
<path d="M51.1 192.5h0.8v0.8h-0.8zM55.3 185.4h0.8v0.8h-0.8zM51.6 194.6h0.8v0.8h-0.8zM48.7 188.9h0.8v0.8h-0.8zM52.7 210.3h0.8v0.8h-0.8zM47.8 173.1h0.8v0.8h-0.8zM47.8 211.5h0.8v0.8h-0.8zM53.2 153.2h0.8v0.8h-0.8zM55.8 223.3h0.8v0.8h-0.8zM52.9 196.8h0.8v0.8h-0.8zM48.4 151.1h0.8v0.8h-0.8zM51.8 154.5h0.8v0.8h-0.8zM48.7 168.4h0.8v0.8h-0.8zM47.3 185.3h0.8v0.8h-0.8zM51.0 214.0h0.8v0.8h-0.8zM51.7 198.7h0.8v0.8h-0.8zM51.5 200.3h0.8v0.8h-0.8zM51.1 171.1h0.8v0.8h-0.8zM56.0 225.7h0.8v0.8h-0.8zM54.6 203.8h0.8v0.8h-0.8zM49.8 167.5h0.8v0.8h-0.8zM49.6 155.3h0.8v0.8h-0.8zM53.9 180.4h0.8v0.8h-0.8zM54.6 179.4h0.8v0.8h-0.8zM55.6 214.4h0.8v0.8h-0.8zM47.0 165.9h0.8v0.8h-0.8zM55.2 185.7h0.8v0.8h-0.8zM55.8 180.2h0.8v0.8h-0.8zM47.7 197.8h0.8v0.8h-0.8zM54.0 170.5h0.8v0.8h-0.8zM47.8 175.3h0.8v0.8h-0.8zM55.7 207.6h0.8v0.8h-0.8zM48.1 168.7h0.8v0.8h-0.8zM47.9 154.6h0.8v0.8h-0.8zM54.2 163.5h0.8v0.8h-0.8zM52.0 184.0h0.8v0.8h-0.8zM48.7 205.6h0.8v0.8h-0.8zM48.2 198.9h0.8v0.8h-0.8zM48.0 182.0h0.8v0.8h-0.8zM48.9 170.5h0.8v0.8h-0.8zM55.7 211.1h0.8v0.8h-0.8zM49.7 217.2h0.8v0.8h-0.8zM48.9 180.0h0.8v0.8h-0.8zM54.7 198.8h0.8v0.8h-0.8zM47.9 225.2h0.8v0.8h-0.8zM48.9 169.6h0.8v0.8h-0.8zM54.0 175.0h0.8v0.8h-0.8zM49.7 155.6h0.8v0.8h-0.8zM47.8 194.3h0.8v0.8h-0.8zM49.2 195.7h0.8v0.8h-0.8zM50.3 184.4h0.8v0.8h-0.8zM55.6 186.8h0.8v0.8h-0.8zM52.2 215.9h0.8v0.8h-0.8zM48.6 161.7h0.8v0.8h-0.8zM55.2 212.2h0.8v0.8h-0.8zM49.2 164.4h0.8v0.8h-0.8zM53.7 221.5h0.8v0.8h-0.8zM48.8 222.2h0.8v0.8h-0.8zM54.9 195.9h0.8v0.8h-0.8zM50.8 157.9h0.8v0.8h-0.8zM47.3 223.2h0.8v0.8h-0.8zM49.1 203.5h0.8v0.8h-0.8zM49.3 212.6h0.8v0.8h-0.8zM52.4 172.3h0.8v0.8h-0.8zM48.6 204.7h0.8v0.8h-0.8zM47.6 167.4h0.8v0.8h-0.8zM52.0 214.8h0.8v0.8h-0.8zM52.5 171.3h0.8v0.8h-0.8zM55.3 165.5h0.8v0.8h-0.8zM47.1 170.5h0.8v0.8h-0.8zM51.0 154.6h0.8v0.8h-0.8zM48.6 178.0h0.8v0.8h-0.8zM52.1 160.0h0.8v0.8h-0.8zM50.3 217.7h0.8v0.8h-0.8zM55.8 199.9h0.8v0.8h-0.8zM53.2 194.4h0.8v0.8h-0.8zM48.3 152.7h0.8v0.8h-0.8zM47.2 219.2h0.8v0.8h-0.8zM53.3 223.2h0.8v0.8h-0.8zM47.2 198.4h0.8v0.8h-0.8zM51.3 205.5h0.8v0.8h-0.8zM49.9 226.0h0.8v0.8h-0.8zM47.7 191.5h0.8v0.8h-0.8zM53.6 218.4h0.8v0.8h-0.8zM53.6 203.5h0.8v0.8h-0.8zM54.1 219.5h0.8v0.8h-0.8zM50.2 202.1h0.8v0.8h-0.8zM55.1 216.2h0.8v0.8h-0.8zM50.8 210.1h0.8v0.8h-0.8zM54.8 193.5h0.8v0.8h-0.8zM52.6 179.1h0.8v0.8h-0.8zM52.2 196.3h0.8v0.8h-0.8zM47.7 198.6h0.8v0.8h-0.8zM55.9 216.9h0.8v0.8h-0.8zM53.6 179.5h0.8v0.8h-0.8zM53.6 194.2h0.8v0.8h-0.8zM51.0 213.7h0.8v0.8h-0.8zM47.8 207.0h0.8v0.8h-0.8zM47.3 195.7h0.8v0.8h-0.8zM51.3 167.5h0.8v0.8h-0.8zM53.3 187.8h0.8v0.8h-0.8zM52.5 220.0h0.8v0.8h-0.8zM49.3 150.9h0.8v0.8h-0.8zM49.7 201.5h0.8v0.8h-0.8zM48.8 162.9h0.8v0.8h-0.8zM55.2 200.2h0.8v0.8h-0.8zM51.0 217.8h0.8v0.8h-0.8zM49.9 200.6h0.8v0.8h-0.8zM48.8 182.7h0.8v0.8h-0.8zM54.3 219.5h0.8v0.8h-0.8z" fill="#444" opacity="0.75" clip-path="url(#clipD1)"/>
<path d="M55.7 203.4h0.7v0.7h-0.7zM59.6 221.5h0.7v0.7h-0.7zM56.9 169.4h0.7v0.7h-0.7zM60.1 200.0h0.7v0.7h-0.7zM57.1 202.0h0.7v0.7h-0.7zM57.8 209.1h0.7v0.7h-0.7zM55.8 167.0h0.7v0.7h-0.7zM61.3 177.2h0.7v0.7h-0.7zM56.8 211.1h0.7v0.7h-0.7zM59.4 161.4h0.7v0.7h-0.7zM58.9 200.5h0.7v0.7h-0.7zM56.2 199.5h0.7v0.7h-0.7zM55.9 175.6h0.7v0.7h-0.7zM55.6 165.5h0.7v0.7h-0.7zM61.8 180.7h0.7v0.7h-0.7zM61.9 183.3h0.7v0.7h-0.7zM59.3 216.3h0.7v0.7h-0.7zM59.8 158.5h0.7v0.7h-0.7zM59.1 198.2h0.7v0.7h-0.7zM56.3 157.2h0.7v0.7h-0.7zM61.1 189.0h0.7v0.7h-0.7zM56.4 184.4h0.7v0.7h-0.7zM56.5 210.7h0.7v0.7h-0.7zM58.5 157.8h0.7v0.7h-0.7zM60.7 156.8h0.7v0.7h-0.7zM57.0 152.1h0.7v0.7h-0.7zM60.2 158.7h0.7v0.7h-0.7zM58.7 157.1h0.7v0.7h-0.7zM58.4 202.1h0.7v0.7h-0.7zM58.7 184.6h0.7v0.7h-0.7z" fill="#444" opacity="0.6" clip-path="url(#clipD1)"/>
<path d="M57.8 199.9h0.7v0.7h-0.7zM74.3 156.1h0.7v0.7h-0.7zM17.9 175.9h0.7v0.7h-0.7zM40.6 212.9h0.7v0.7h-0.7zM76.4 195.1h0.7v0.7h-0.7zM65.0 200.2h0.7v0.7h-0.7zM29.5 181.4h0.7v0.7h-0.7zM31.0 221.0h0.7v0.7h-0.7zM22.1 213.6h0.7v0.7h-0.7zM23.4 202.4h0.7v0.7h-0.7zM46.0 178.4h0.7v0.7h-0.7zM89.4 145.6h0.7v0.7h-0.7zM22.2 221.8h0.7v0.7h-0.7zM60.8 151.7h0.7v0.7h-0.7zM101.9 224.5h0.7v0.7h-0.7zM26.7 180.0h0.7v0.7h-0.7zM28.6 170.6h0.7v0.7h-0.7zM70.4 157.9h0.7v0.7h-0.7z" fill="#444" opacity="0.5" clip-path="url(#clipD1)"/>
<path d="M26.8 214.5h0.7v0.7h-0.7zM41.3 221.5h0.7v0.7h-0.7zM24.3 194.9h0.7v0.7h-0.7zM23.0 194.7h0.7v0.7h-0.7zM43.0 190.6h0.7v0.7h-0.7zM36.1 194.2h0.7v0.7h-0.7zM28.0 203.6h0.7v0.7h-0.7zM46.5 211.2h0.7v0.7h-0.7zM18.5 196.9h0.7v0.7h-0.7zM23.0 222.5h0.7v0.7h-0.7zM45.5 219.7h0.7v0.7h-0.7zM46.1 217.0h0.7v0.7h-0.7zM50.3 219.1h0.7v0.7h-0.7zM26.7 221.5h0.7v0.7h-0.7zM34.6 217.5h0.7v0.7h-0.7zM37.2 203.5h0.7v0.7h-0.7zM30.4 203.5h0.7v0.7h-0.7zM28.7 190.0h0.7v0.7h-0.7zM45.9 219.3h0.7v0.7h-0.7zM51.5 214.7h0.7v0.7h-0.7zM36.8 217.2h0.7v0.7h-0.7zM22.6 214.1h0.7v0.7h-0.7zM33.1 192.6h0.7v0.7h-0.7zM24.9 207.5h0.7v0.7h-0.7zM26.6 204.8h0.7v0.7h-0.7zM38.6 202.0h0.7v0.7h-0.7zM22.4 206.1h0.7v0.7h-0.7zM26.0 195.1h0.7v0.7h-0.7zM24.6 200.8h0.7v0.7h-0.7zM20.5 213.0h0.7v0.7h-0.7zM50.4 201.8h0.7v0.7h-0.7zM42.4 225.1h0.7v0.7h-0.7zM19.5 191.1h0.7v0.7h-0.7zM45.4 221.0h0.7v0.7h-0.7zM39.7 191.9h0.7v0.7h-0.7zM32.1 222.3h0.7v0.7h-0.7zM48.1 219.5h0.7v0.7h-0.7zM24.9 221.7h0.7v0.7h-0.7zM30.7 215.8h0.7v0.7h-0.7zM22.7 226.8h0.7v0.7h-0.7z" fill="#444" opacity="0.7" clip-path="url(#clipD1)"/>
<path d="M28 177 C29 181 27 185 26 189 M31 178 C32 182 30 186 29 189 M43 178 C42 182 45 185 46 189 M46 176 C46 181 48 184 49 189 M35 179 C36 182 34 185 33 188" fill="none" stroke="#222" stroke-width="0.7" clip-path="url(#clipD1)"/>
<path d="M52.4 166.6 L52.0 168.3 L51.7 169.6 L51.2 170.9 L50.7 172.0 L50.2 173.1 L49.5 174.0 L48.9 174.9 L48.2 175.7 L47.5 176.4 L46.8 177.1 L46.1 177.8 L45.4 178.4 L44.7 178.9 L44.0 179.5 L43.3 180.0 L42.6 180.4 L41.9 180.8 L41.1 181.1 L40.3 181.4 L39.5 181.6 L38.6 181.7 L37.5 181.7 L36.2 181.6 L35.2 181.5 L34.3 181.4 L33.4 181.2 L32.6 181.0 L31.9 180.7 L31.1 180.4 L30.3 180.1 L29.5 179.8 L28.7 179.3 L28.0 178.8 L27.2 178.3 L26.5 177.6 L25.8 176.9 L25.1 176.0 L24.6 175.1 L24.1 174.1 L23.6 173.0 L23.3 171.9 L23.0 170.7 L22.8 169.5 L22.5 168.2 L22.3 166.6 L22.5 164.9 L22.7 163.7 L22.9 162.6 L23.1 161.5 L23.4 160.5 L23.6 159.5 L23.9 158.6 L24.3 157.6 L24.7 156.7 L25.2 155.9 L25.7 155.1 L26.4 154.4 L27.1 153.8 L27.8 153.2 L28.7 152.7 L29.5 152.3 L30.4 152.0 L31.4 151.7 L32.4 151.4 L33.5 151.2 L34.6 151.1 L36.0 151.0 L37.7 150.9 L39.1 151.0 L40.2 151.1 L41.3 151.3 L42.3 151.5 L43.3 151.9 L44.2 152.3 L44.9 152.9 L45.7 153.5 L46.3 154.2 L46.9 154.9 L47.5 155.6 L48.0 156.4 L48.5 157.1 L49.0 157.9 L49.5 158.7 L50.0 159.6 L50.4 160.5 L50.9 161.4 L51.4 162.4 L51.8 163.6 L52.1 164.8Z" fill="#fff" clip-path="url(#clipD1)"/>
<path d="M49.6 166.6 L49.3 168.0 L49.0 169.1 L48.7 170.1 L48.2 171.1 L47.8 171.9 L47.3 172.7 L46.7 173.4 L46.1 174.1 L45.6 174.7 L45.0 175.3 L44.4 175.8 L43.9 176.3 L43.3 176.8 L42.7 177.2 L42.2 177.6 L41.6 178.0 L41.0 178.3 L40.3 178.6 L39.7 178.8 L39.0 178.9 L38.2 179.0 L37.4 179.0 L36.3 179.0 L35.5 178.9 L34.7 178.8 L34.1 178.6 L33.4 178.4 L32.8 178.2 L32.1 178.0 L31.5 177.7 L30.8 177.4 L30.2 177.1 L29.6 176.7 L28.9 176.2 L28.3 175.7 L27.8 175.1 L27.2 174.4 L26.8 173.6 L26.4 172.8 L26.0 171.9 L25.7 170.9 L25.5 170.0 L25.3 169.0 L25.1 167.9 L24.9 166.6 L25.1 165.2 L25.2 164.2 L25.4 163.3 L25.6 162.4 L25.8 161.6 L26.0 160.8 L26.2 160.0 L26.5 159.2 L26.9 158.5 L27.3 157.8 L27.7 157.1 L28.2 156.5 L28.8 156.0 L29.4 155.6 L30.1 155.2 L30.8 154.8 L31.6 154.5 L32.4 154.3 L33.2 154.1 L34.1 153.9 L35.0 153.8 L36.1 153.7 L37.6 153.7 L38.7 153.7 L39.6 153.8 L40.5 153.9 L41.4 154.2 L42.1 154.5 L42.8 154.8 L43.5 155.3 L44.1 155.8 L44.6 156.3 L45.1 156.9 L45.6 157.5 L46.0 158.2 L46.4 158.8 L46.8 159.4 L47.2 160.1 L47.6 160.8 L48.0 161.5 L48.4 162.3 L48.8 163.1 L49.1 164.1 L49.4 165.1Z M44.7 166.6 L44.6 167.4 L44.4 168.2 L44.2 168.8 L43.9 169.4 L43.6 169.9 L43.3 170.4 L43.0 170.9 L42.6 171.3 L42.3 171.7 L41.9 172.0 L41.5 172.4 L41.2 172.7 L40.8 173.0 L40.5 173.2 L40.1 173.5 L39.8 173.7 L39.4 173.9 L39.0 174.1 L38.6 174.2 L38.2 174.3 L37.7 174.4 L37.2 174.4 L36.5 174.4 L36.0 174.3 L35.5 174.2 L35.1 174.1 L34.7 174.0 L34.3 173.9 L33.9 173.7 L33.5 173.6 L33.1 173.4 L32.7 173.2 L32.3 172.9 L31.9 172.6 L31.6 172.3 L31.2 171.9 L30.9 171.5 L30.6 171.0 L30.4 170.5 L30.1 169.9 L30.0 169.3 L29.8 168.7 L29.7 168.1 L29.6 167.4 L29.4 166.6 L29.6 165.7 L29.7 165.1 L29.8 164.5 L29.9 163.9 L30.0 163.4 L30.1 162.9 L30.3 162.4 L30.5 161.9 L30.7 161.5 L30.9 161.0 L31.2 160.6 L31.5 160.3 L31.9 159.9 L32.3 159.6 L32.7 159.4 L33.1 159.2 L33.6 159.0 L34.1 158.8 L34.6 158.7 L35.1 158.6 L35.7 158.5 L36.4 158.5 L37.3 158.5 L38.0 158.5 L38.6 158.5 L39.1 158.6 L39.6 158.8 L40.1 159.0 L40.6 159.2 L41.0 159.5 L41.3 159.8 L41.7 160.1 L42.0 160.5 L42.3 160.9 L42.5 161.3 L42.8 161.7 L43.0 162.1 L43.3 162.5 L43.5 162.9 L43.8 163.4 L44.0 163.9 L44.2 164.4 L44.4 165.0 L44.6 165.7Z" fill="#151515" fill-rule="evenodd" clip-path="url(#clipD1)"/>
<path d="M44.7 166.6 L44.6 167.4 L44.4 168.2 L44.2 168.8 L43.9 169.4 L43.6 169.9 L43.3 170.4 L43.0 170.9 L42.6 171.3 L42.3 171.7 L41.9 172.0 L41.5 172.4 L41.2 172.7 L40.8 173.0 L40.5 173.2 L40.1 173.5 L39.8 173.7 L39.4 173.9 L39.0 174.1 L38.6 174.2 L38.2 174.3 L37.7 174.4 L37.2 174.4 L36.5 174.4 L36.0 174.3 L35.5 174.2 L35.1 174.1 L34.7 174.0 L34.3 173.9 L33.9 173.7 L33.5 173.6 L33.1 173.4 L32.7 173.2 L32.3 172.9 L31.9 172.6 L31.6 172.3 L31.2 171.9 L30.9 171.5 L30.6 171.0 L30.4 170.5 L30.1 169.9 L30.0 169.3 L29.8 168.7 L29.7 168.1 L29.6 167.4 L29.4 166.6 L29.6 165.7 L29.7 165.1 L29.8 164.5 L29.9 163.9 L30.0 163.4 L30.1 162.9 L30.3 162.4 L30.5 161.9 L30.7 161.5 L30.9 161.0 L31.2 160.6 L31.5 160.3 L31.9 159.9 L32.3 159.6 L32.7 159.4 L33.1 159.2 L33.6 159.0 L34.1 158.8 L34.6 158.7 L35.1 158.6 L35.7 158.5 L36.4 158.5 L37.3 158.5 L38.0 158.5 L38.6 158.5 L39.1 158.6 L39.6 158.8 L40.1 159.0 L40.6 159.2 L41.0 159.5 L41.3 159.8 L41.7 160.1 L42.0 160.5 L42.3 160.9 L42.5 161.3 L42.8 161.7 L43.0 162.1 L43.3 162.5 L43.5 162.9 L43.8 163.4 L44.0 163.9 L44.2 164.4 L44.4 165.0 L44.6 165.7Z" fill="#3a3a3a" clip-path="url(#clipD1)"/>
<path d="M52.5 166.6 L52.0 168.7 L51.4 170.4 L50.8 171.8 L50.0 173.2 L49.1 174.3 L48.3 175.4 L47.4 176.4 L46.5 177.3 L45.7 178.1 L44.8 178.9 L44.0 179.6 L43.1 180.2 L42.1 180.8 L41.1 181.2 L40.1 181.5 L39.0 181.6 L37.7 181.7 L36.0 181.6 L34.8 181.4 L33.7 181.2 L32.7 180.9 L31.6 180.6 L30.6 180.3 L29.6 179.9 L28.6 179.3 L27.6 178.7 L26.6 177.9 L25.7 176.9 L24.9 175.8 L24.3 174.5 L23.8 173.1 L23.3 171.7 L23.0 170.2 L22.7 168.6 L22.4 166.6 L22.6 164.6 L22.8 163.1 L23.1 161.7 L23.3 160.3 L23.6 159.0 L24.1 157.8 L24.6 156.7 L25.3 155.6 L26.1 154.7 L27.0 153.9 L28.0 153.2 L29.1 152.6 L30.2 152.2 L31.4 151.8 L32.7 151.4 L34.1 151.2 L35.8 151.0 L37.9 150.9 L39.6 150.9 L41.1 151.1 L42.4 151.5 L43.6 152.0 L44.6 152.7 L45.5 153.5 L46.4 154.3 L47.1 155.3 L47.8 156.2 L48.4 157.2 L49.1 158.2 L49.8 159.2 L50.4 160.3 L51.1 161.5 L51.7 162.9 L52.1 164.4Z M51.1 166.6 L50.8 168.5 L50.4 170.1 L49.9 171.5 L49.3 172.8 L48.6 174.0 L47.8 175.1 L46.9 176.0 L46.1 176.8 L45.2 177.4 L44.3 178.0 L43.4 178.5 L42.5 179.0 L41.6 179.4 L40.7 179.7 L39.8 180.0 L38.8 180.2 L37.6 180.4 L36.1 180.5 L34.9 180.5 L33.8 180.5 L32.8 180.3 L31.8 180.1 L30.9 179.7 L29.9 179.3 L29.0 178.7 L28.2 177.9 L27.3 177.1 L26.6 176.1 L26.0 175.0 L25.4 173.8 L24.9 172.6 L24.5 171.2 L24.2 169.9 L23.8 168.4 L23.4 166.6 L23.6 164.7 L23.8 163.3 L24.0 162.0 L24.2 160.7 L24.5 159.5 L24.9 158.4 L25.4 157.3 L26.0 156.3 L26.7 155.4 L27.6 154.6 L28.5 154.0 L29.6 153.5 L30.7 153.1 L31.8 152.8 L33.0 152.5 L34.3 152.3 L35.8 152.2 L37.9 152.2 L39.4 152.2 L40.7 152.4 L41.9 152.6 L43.1 153.0 L44.1 153.6 L45.0 154.2 L45.8 155.0 L46.6 155.8 L47.2 156.8 L47.8 157.7 L48.3 158.7 L48.8 159.7 L49.4 160.8 L49.9 161.9 L50.3 163.2 L50.8 164.6Z M50.0 166.6 L49.7 168.4 L49.4 169.8 L49.0 171.2 L48.4 172.4 L47.7 173.5 L47.0 174.4 L46.2 175.3 L45.3 176.0 L44.5 176.6 L43.6 177.1 L42.8 177.6 L42.0 178.0 L41.2 178.4 L40.4 178.8 L39.6 179.2 L38.6 179.5 L37.6 179.7 L36.1 179.7 L35.0 179.7 L34.1 179.5 L33.1 179.3 L32.3 178.9 L31.5 178.5 L30.6 178.0 L29.8 177.4 L29.0 176.8 L28.3 176.1 L27.5 175.3 L26.7 174.4 L26.1 173.4 L25.5 172.3 L25.0 171.1 L24.6 169.8 L24.4 168.3 L24.1 166.6 L24.4 164.8 L24.8 163.5 L25.1 162.4 L25.5 161.3 L25.8 160.3 L26.2 159.2 L26.6 158.2 L27.1 157.3 L27.6 156.3 L28.3 155.5 L29.1 154.8 L30.0 154.2 L31.0 153.7 L32.1 153.4 L33.2 153.2 L34.5 153.2 L35.9 153.2 L37.8 153.3 L39.2 153.4 L40.4 153.6 L41.5 153.9 L42.5 154.2 L43.5 154.6 L44.4 155.2 L45.2 155.8 L45.9 156.6 L46.5 157.4 L47.1 158.3 L47.5 159.2 L48.0 160.2 L48.4 161.2 L48.9 162.3 L49.3 163.4 L49.6 164.8Z M49.0 166.6 L48.6 168.2 L48.2 169.5 L47.7 170.7 L47.2 171.8 L46.6 172.8 L46.0 173.7 L45.3 174.4 L44.6 175.1 L43.8 175.7 L43.1 176.3 L42.4 176.8 L41.7 177.4 L41.0 177.9 L40.3 178.4 L39.5 178.7 L38.6 178.9 L37.5 178.9 L36.2 178.7 L35.2 178.4 L34.4 178.0 L33.6 177.7 L32.8 177.4 L32.1 177.2 L31.2 176.9 L30.4 176.6 L29.5 176.2 L28.7 175.6 L28.0 174.8 L27.4 173.9 L26.9 172.9 L26.5 171.8 L26.2 170.6 L25.9 169.4 L25.5 168.2 L25.2 166.6 L25.3 165.0 L25.5 163.7 L25.8 162.6 L26.1 161.6 L26.5 160.6 L26.8 159.7 L27.3 158.8 L27.8 157.9 L28.3 157.1 L29.0 156.4 L29.8 155.9 L30.7 155.4 L31.6 155.2 L32.6 155.0 L33.7 154.8 L34.8 154.6 L36.0 154.5 L37.7 154.3 L39.0 154.2 L40.2 154.1 L41.3 154.3 L42.3 154.7 L43.1 155.2 L43.9 155.9 L44.5 156.7 L45.0 157.6 L45.5 158.4 L46.0 159.1 L46.5 159.9 L47.1 160.7 L47.6 161.6 L48.1 162.5 L48.5 163.6 L48.8 164.9Z M48.0 166.6 L47.7 168.1 L47.4 169.3 L46.9 170.4 L46.4 171.4 L45.7 172.2 L45.1 173.0 L44.5 173.7 L43.8 174.3 L43.2 174.9 L42.5 175.4 L41.9 175.9 L41.3 176.4 L40.6 176.8 L39.9 177.2 L39.2 177.5 L38.4 177.7 L37.5 177.8 L36.2 177.7 L35.3 177.6 L34.5 177.4 L33.8 177.1 L33.1 176.7 L32.4 176.4 L31.8 176.0 L31.1 175.5 L30.4 175.1 L29.7 174.5 L29.1 173.9 L28.4 173.1 L27.8 172.3 L27.3 171.4 L26.9 170.4 L26.5 169.3 L26.3 168.1 L26.0 166.6 L26.2 165.1 L26.5 164.0 L26.8 163.0 L27.1 162.0 L27.5 161.2 L27.9 160.4 L28.3 159.6 L28.7 158.8 L29.3 158.1 L29.8 157.5 L30.5 156.9 L31.2 156.4 L32.0 156.0 L32.9 155.7 L33.8 155.4 L34.9 155.2 L36.1 155.1 L37.6 155.1 L38.8 155.2 L39.9 155.4 L40.8 155.7 L41.7 156.0 L42.4 156.5 L43.1 157.0 L43.7 157.7 L44.3 158.3 L44.8 159.0 L45.3 159.7 L45.7 160.4 L46.2 161.2 L46.6 162.0 L47.1 162.9 L47.5 163.9 L47.8 165.0Z M47.2 166.6 L46.8 168.0 L46.3 169.1 L45.8 170.0 L45.3 170.9 L44.8 171.7 L44.3 172.4 L43.8 173.1 L43.2 173.7 L42.6 174.2 L42.0 174.6 L41.4 175.0 L40.8 175.3 L40.2 175.6 L39.5 175.9 L38.9 176.1 L38.2 176.3 L37.4 176.5 L36.3 176.6 L35.5 176.6 L34.7 176.5 L34.0 176.3 L33.4 176.0 L32.7 175.7 L32.1 175.3 L31.5 174.9 L30.9 174.4 L30.3 173.9 L29.6 173.3 L29.1 172.6 L28.6 171.9 L28.2 171.0 L27.9 170.0 L27.8 169.0 L27.7 167.9 L27.6 166.6 L27.9 165.3 L28.1 164.4 L28.2 163.5 L28.3 162.6 L28.4 161.7 L28.5 160.8 L28.7 159.9 L29.0 159.1 L29.5 158.4 L30.2 157.9 L30.9 157.5 L31.7 157.3 L32.5 157.1 L33.4 156.9 L34.2 156.8 L35.1 156.6 L36.1 156.4 L37.6 156.2 L38.7 156.2 L39.6 156.3 L40.5 156.5 L41.2 156.9 L41.9 157.5 L42.4 158.1 L42.8 158.8 L43.3 159.4 L43.7 160.0 L44.2 160.5 L44.8 161.1 L45.4 161.7 L45.9 162.3 L46.4 163.1 L46.8 164.0 L47.1 165.1Z M45.7 166.6 L45.5 167.8 L45.3 168.8 L45.0 169.7 L44.6 170.5 L44.1 171.2 L43.6 171.8 L43.0 172.4 L42.5 172.8 L41.9 173.3 L41.4 173.7 L40.9 174.2 L40.4 174.6 L39.9 174.9 L39.4 175.2 L38.7 175.5 L38.1 175.6 L37.3 175.6 L36.4 175.5 L35.6 175.4 L35.0 175.2 L34.4 175.0 L33.8 174.8 L33.2 174.6 L32.7 174.4 L32.1 174.1 L31.5 173.7 L30.9 173.2 L30.5 172.6 L30.0 171.9 L29.7 171.2 L29.3 170.4 L29.1 169.5 L28.8 168.7 L28.6 167.7 L28.3 166.6 L28.4 165.4 L28.5 164.4 L28.6 163.6 L28.9 162.8 L29.1 162.1 L29.5 161.4 L29.8 160.8 L30.2 160.2 L30.7 159.7 L31.2 159.2 L31.7 158.7 L32.3 158.3 L32.9 157.9 L33.6 157.7 L34.4 157.5 L35.3 157.4 L36.2 157.4 L37.5 157.4 L38.4 157.6 L39.2 157.7 L40.0 157.9 L40.7 158.2 L41.3 158.4 L41.9 158.8 L42.5 159.2 L43.0 159.7 L43.5 160.2 L43.8 160.8 L44.2 161.5 L44.4 162.2 L44.7 162.9 L45.0 163.6 L45.2 164.4 L45.5 165.3Z M44.6 166.6 L44.4 167.6 L44.2 168.5 L43.9 169.3 L43.7 170.0 L43.3 170.7 L42.9 171.3 L42.4 171.8 L41.9 172.3 L41.4 172.7 L41.0 173.0 L40.5 173.4 L40.0 173.7 L39.5 174.0 L39.0 174.2 L38.5 174.4 L37.9 174.4 L37.3 174.4 L36.4 174.3 L35.8 174.1 L35.3 174.0 L34.8 173.9 L34.2 173.8 L33.7 173.7 L33.1 173.5 L32.6 173.3 L32.1 172.9 L31.6 172.5 L31.2 171.9 L30.8 171.3 L30.5 170.7 L30.2 170.0 L29.9 169.2 L29.6 168.5 L29.4 167.6 L29.2 166.6 L29.3 165.5 L29.5 164.7 L29.8 164.0 L30.0 163.3 L30.3 162.7 L30.5 162.1 L30.8 161.6 L31.1 161.0 L31.4 160.5 L31.8 160.0 L32.3 159.6 L32.9 159.3 L33.5 159.1 L34.1 158.9 L34.7 158.7 L35.5 158.5 L36.3 158.4 L37.4 158.3 L38.3 158.2 L39.1 158.3 L39.7 158.5 L40.3 158.9 L40.8 159.3 L41.3 159.8 L41.7 160.2 L42.0 160.7 L42.4 161.2 L42.8 161.7 L43.2 162.2 L43.5 162.7 L43.8 163.3 L44.1 163.9 L44.3 164.7 L44.4 165.5Z" fill="none" stroke="#111" stroke-width="0.75" clip-path="url(#clipD1)"/>
<path d="M43.7 166.6 L43.5 167.5 L43.3 168.3 L43.0 168.9 L42.6 169.5 L42.3 170.1 L41.9 170.6 L41.5 171.0 L41.2 171.4 L40.8 171.8 L40.4 172.2 L40.0 172.5 L39.6 172.8 L39.2 173.0 L38.7 173.1 L38.3 173.2 L37.8 173.3 L37.2 173.3 L36.5 173.3 L35.9 173.3 L35.4 173.2 L35.0 173.2 L34.5 173.0 L34.1 172.8 L33.6 172.6 L33.2 172.3 L32.8 172.0 L32.4 171.6 L32.0 171.2 L31.7 170.7 L31.4 170.1 L31.1 169.5 L30.9 168.9 L30.7 168.2 L30.5 167.5 L30.3 166.6 L30.5 165.6 L30.6 165.0 L30.8 164.3 L30.9 163.8 L31.1 163.2 L31.3 162.6 L31.5 162.1 L31.8 161.6 L32.1 161.2 L32.5 160.8 L32.9 160.5 L33.4 160.2 L33.9 160.0 L34.4 159.8 L35.0 159.7 L35.7 159.6 L36.4 159.5 L37.3 159.5 L38.1 159.5 L38.7 159.6 L39.3 159.8 L39.8 160.0 L40.3 160.3 L40.7 160.6 L41.1 161.0 L41.4 161.4 L41.7 161.9 L42.0 162.3 L42.3 162.7 L42.6 163.2 L42.9 163.7 L43.1 164.3 L43.4 164.9 L43.6 165.6Z M42.6 166.6 L42.5 167.4 L42.3 168.0 L42.1 168.6 L41.8 169.1 L41.5 169.6 L41.2 170.0 L40.8 170.4 L40.5 170.7 L40.1 171.0 L39.8 171.3 L39.5 171.5 L39.1 171.7 L38.8 171.9 L38.4 172.1 L38.0 172.2 L37.6 172.3 L37.2 172.3 L36.5 172.3 L36.1 172.3 L35.7 172.2 L35.3 172.2 L34.9 172.0 L34.5 171.9 L34.1 171.7 L33.8 171.5 L33.4 171.2 L33.1 170.9 L32.7 170.5 L32.4 170.1 L32.2 169.6 L32.0 169.1 L31.8 168.5 L31.7 168.0 L31.6 167.3 L31.4 166.6 L31.6 165.8 L31.7 165.2 L31.8 164.7 L31.9 164.2 L32.1 163.7 L32.2 163.3 L32.4 162.8 L32.6 162.4 L32.8 162.0 L33.1 161.6 L33.5 161.3 L33.9 161.1 L34.3 160.9 L34.8 160.7 L35.3 160.6 L35.8 160.5 L36.4 160.5 L37.3 160.5 L37.9 160.6 L38.4 160.7 L38.9 160.9 L39.3 161.1 L39.7 161.3 L40.0 161.6 L40.4 161.9 L40.7 162.2 L40.9 162.6 L41.2 162.9 L41.5 163.3 L41.7 163.7 L41.9 164.1 L42.2 164.6 L42.4 165.1 L42.5 165.7Z M41.6 166.6 L41.4 167.2 L41.2 167.7 L41.0 168.2 L40.8 168.6 L40.5 169.0 L40.3 169.3 L40.0 169.6 L39.8 169.9 L39.5 170.2 L39.3 170.5 L39.0 170.7 L38.7 170.9 L38.4 171.1 L38.1 171.2 L37.8 171.2 L37.5 171.3 L37.1 171.3 L36.6 171.3 L36.2 171.2 L35.9 171.2 L35.6 171.1 L35.3 171.0 L34.9 170.9 L34.6 170.8 L34.3 170.6 L34.0 170.4 L33.7 170.1 L33.5 169.8 L33.3 169.4 L33.1 169.0 L32.9 168.6 L32.8 168.2 L32.7 167.7 L32.6 167.2 L32.5 166.6 L32.5 165.9 L32.6 165.4 L32.6 165.0 L32.7 164.6 L32.8 164.2 L33.0 163.8 L33.1 163.4 L33.4 163.1 L33.6 162.8 L33.9 162.6 L34.2 162.4 L34.5 162.2 L34.9 162.0 L35.2 161.9 L35.6 161.7 L36.0 161.6 L36.5 161.6 L37.2 161.6 L37.7 161.6 L38.1 161.7 L38.5 161.8 L38.9 162.0 L39.2 162.2 L39.4 162.5 L39.7 162.7 L39.9 163.0 L40.1 163.3 L40.4 163.6 L40.6 163.9 L40.8 164.2 L41.0 164.5 L41.2 164.9 L41.4 165.4 L41.5 165.9Z" fill="none" stroke="#777" stroke-width="0.5" clip-path="url(#clipD1)"/>
<ellipse cx="34.2" cy="166.5" rx="1.4" ry="1.9" transform="rotate(0 34.2 166.5)" fill="#fff" clip-path="url(#clipD1)"/>
<ellipse cx="37.8" cy="164.2" rx="0.9" ry="1.2" transform="rotate(0 37.8 164.2)" fill="#fff" clip-path="url(#clipD1)"/>
<ellipse cx="36.5" cy="169" rx="1.5" ry="1.2" transform="rotate(0 36.5 169)" fill="#111" clip-path="url(#clipD1)"/>
<path d="M50.8 205.2 L50.5 207.4 L50.3 209.1 L50.0 210.5 L49.6 211.8 L49.2 213.0 L48.8 214.2 L48.3 215.2 L47.7 216.2 L47.2 217.1 L46.6 218.0 L45.9 218.7 L45.3 219.5 L44.6 220.1 L43.9 220.7 L43.1 221.3 L42.3 221.7 L41.5 222.2 L40.6 222.5 L39.7 222.8 L38.7 223.1 L37.7 223.2 L36.4 223.3 L34.6 223.3 L33.3 223.3 L32.2 223.2 L31.3 222.9 L30.3 222.7 L29.5 222.3 L28.6 221.8 L27.9 221.3 L27.1 220.7 L26.5 220.1 L25.8 219.3 L25.2 218.6 L24.7 217.7 L24.1 216.8 L23.6 215.9 L23.2 214.9 L22.8 213.8 L22.4 212.7 L22.0 211.5 L21.7 210.3 L21.4 208.9 L21.1 207.4 L20.8 205.3 L20.7 203.1 L20.7 201.5 L20.8 200.1 L20.9 198.8 L21.1 197.5 L21.4 196.3 L21.7 195.1 L22.0 194.1 L22.5 193.1 L23.0 192.1 L23.6 191.3 L24.3 190.5 L25.0 189.8 L25.8 189.2 L26.7 188.7 L27.6 188.2 L28.6 187.9 L29.6 187.6 L30.7 187.5 L31.8 187.4 L33.1 187.4 L34.5 187.4 L36.5 187.5 L37.9 187.7 L39.1 187.9 L40.1 188.2 L41.1 188.5 L42.0 188.9 L42.9 189.3 L43.7 189.8 L44.5 190.3 L45.3 190.8 L46.0 191.4 L46.7 192.1 L47.3 192.8 L47.9 193.6 L48.5 194.5 L49.0 195.4 L49.4 196.4 L49.8 197.5 L50.1 198.7 L50.4 200.0 L50.6 201.4 L50.7 203.1Z" fill="#161616" stroke="#111" stroke-width="0.8" clip-path="url(#clipD1)"/>
<ellipse cx="36" cy="200" rx="5" ry="5" fill="#333" opacity="0.6" clip-path="url(#clipD1)"/>
<ellipse cx="32.3" cy="205.8" rx="1.4" ry="1.9" transform="rotate(20 32.3 205.8)" fill="#fff" opacity="0.9" clip-path="url(#clipD1)"/>
<ellipse cx="34" cy="214" rx="0.7" ry="1.2" transform="rotate(0 34 214)" fill="#fff" opacity="0.9" clip-path="url(#clipD1)"/>
<path d="M34 194 C35 198 33 202 34 206 M38 193 C39 198 38 203 39 208 M41 196 C43 200 42 205 43 210 M30 212 C33 215 37 216 40 214" fill="none" stroke="#6a6a6a" stroke-width="0.6" clip-path="url(#clipD1)"/>
<path d="M51.9 205.2 L51.6 207.6 L51.4 209.3 L51.0 210.8 L50.7 212.2 L50.2 213.5 L49.7 214.7 L49.2 215.8 L48.6 216.9 L48.0 217.8 L47.4 218.7 L46.7 219.6 L46.0 220.3 L45.2 221.0 L44.5 221.7 L43.7 222.2 L42.8 222.8 L41.9 223.2 L41.0 223.6 L40.0 223.9 L39.0 224.1 L37.8 224.3 L36.5 224.4 L34.5 224.4 L33.2 224.4 L32.0 224.2 L30.9 224.0 L29.9 223.7 L29.0 223.3 L28.1 222.8 L27.3 222.3 L26.5 221.7 L25.8 221.0 L25.1 220.2 L24.5 219.4 L23.8 218.5 L23.3 217.5 L22.8 216.5 L22.3 215.5 L21.8 214.4 L21.4 213.2 L21.0 211.9 L20.7 210.6 L20.3 209.1 L20.0 207.5 L19.7 205.3 L19.7 203.0 L19.7 201.3 L19.7 199.8 L19.9 198.4 L20.0 197.0 L20.3 195.7 L20.6 194.5 L21.1 193.4 L21.5 192.3 L22.1 191.3 L22.7 190.4 L23.5 189.6 L24.2 188.8 L25.1 188.2 L26.0 187.6 L27.0 187.2 L28.0 186.8 L29.1 186.6 L30.3 186.4 L31.5 186.3 L32.9 186.3 L34.4 186.3 L36.6 186.4 L38.1 186.6 L39.3 186.9 L40.5 187.2 L41.5 187.5 L42.5 187.9 L43.5 188.3 L44.3 188.8 L45.2 189.4 L46.0 189.9 L46.8 190.6 L47.5 191.3 L48.2 192.1 L48.8 192.9 L49.4 193.8 L49.9 194.8 L50.4 195.9 L50.9 197.1 L51.2 198.3 L51.5 199.7 L51.7 201.2 L51.8 202.9Z M53.0 205.2 L52.7 207.7 L52.4 209.5 L52.1 211.1 L51.7 212.6 L51.2 214.0 L50.7 215.3 L50.1 216.5 L49.5 217.6 L48.9 218.6 L48.2 219.5 L47.5 220.4 L46.7 221.2 L45.9 221.9 L45.1 222.6 L44.2 223.2 L43.3 223.8 L42.4 224.2 L41.4 224.6 L40.3 225.0 L39.2 225.2 L38.0 225.4 L36.5 225.5 L34.5 225.5 L33.0 225.5 L31.8 225.3 L30.6 225.1 L29.6 224.8 L28.6 224.4 L27.6 223.9 L26.7 223.3 L25.9 222.6 L25.1 221.9 L24.4 221.1 L23.7 220.2 L23.0 219.2 L22.4 218.2 L21.9 217.2 L21.4 216.1 L20.9 214.9 L20.4 213.6 L20.0 212.3 L19.6 210.9 L19.3 209.3 L19.0 207.6 L18.6 205.3 L18.6 202.9 L18.6 201.1 L18.6 199.5 L18.8 198.0 L19.0 196.5 L19.3 195.2 L19.6 193.9 L20.1 192.7 L20.6 191.6 L21.2 190.5 L21.9 189.6 L22.6 188.7 L23.5 187.9 L24.4 187.2 L25.4 186.6 L26.4 186.1 L27.5 185.8 L28.7 185.5 L30.0 185.3 L31.3 185.2 L32.7 185.2 L34.3 185.2 L36.6 185.4 L38.2 185.6 L39.6 185.8 L40.8 186.1 L41.9 186.5 L43.0 186.9 L44.0 187.4 L45.0 187.9 L45.9 188.4 L46.7 189.1 L47.5 189.8 L48.3 190.5 L49.0 191.3 L49.7 192.2 L50.4 193.2 L50.9 194.2 L51.5 195.4 L51.9 196.6 L52.3 197.9 L52.6 199.4 L52.8 201.0 L53.0 202.8Z" fill="none" stroke="#1a1a1a" stroke-width="0.7" clip-path="url(#clipD1)"/>
<line x1="49.00" y1="144.30" x2="49.00" y2="228.80" stroke="#111" stroke-width="1.0"/>
<line x1="17.20" y1="187.10" x2="101.90" y2="187.10" stroke="#111" stroke-width="1.0"/>
<rect x="17.2" y="144.3" width="84.7" height="84.5" fill="none" stroke="#111" stroke-width="1.0"/>
<g transform="translate(19.30 153.20) scale(0.9638 1)"><text class="m" data-k="54baa7eb46" font-size="8.9" text-anchor="start" >26.5</text></g>
<g transform="translate(99.10 153.40) scale(0.9575 1)"><text class="m" data-k="952b486894" font-size="8.9" text-anchor="end" >0.59</text></g>
<g transform="translate(99.70 223.90) scale(0.7960 1)"><text class="m" data-k="2f9bd20851" font-size="9.2" text-anchor="end" >1.0</text></g>
<g transform="translate(57.40 141.20) scale(0.9165 1)"><text class="m" data-k="5aeca67939" font-size="9.6" text-anchor="middle" >Uninfected</text></g>
<line x1="15.70" y1="151.00" x2="17.20" y2="151.00" stroke="#111" stroke-width="0.5"/>
<g transform="translate(15.20 152.40)"><text class="m" data-k="619d49a557" font-size="4.0" text-anchor="end" font-weight="bold" >10<tspan dy="-1.3" font-size="2.7">5</tspan></text></g>
<line x1="15.70" y1="171.40" x2="17.20" y2="171.40" stroke="#111" stroke-width="0.5"/>
<g transform="translate(15.20 172.80)"><text class="m" data-k="aee35fed06" font-size="4.0" text-anchor="end" font-weight="bold" >10<tspan dy="-1.3" font-size="2.7">4</tspan></text></g>
<line x1="15.70" y1="192.40" x2="17.20" y2="192.40" stroke="#111" stroke-width="0.5"/>
<g transform="translate(15.20 193.80)"><text class="m" data-k="83d68e96ac" font-size="4.0" text-anchor="end" font-weight="bold" >10<tspan dy="-1.3" font-size="2.7">3</tspan></text></g>
<line x1="15.70" y1="209.50" x2="17.20" y2="209.50" stroke="#111" stroke-width="0.5"/>
<g transform="translate(15.20 210.90)"><text class="m" data-k="12c0fdcf93" font-size="4.0" text-anchor="end" font-weight="bold" >0</text></g>
<line x1="27.70" y1="228.80" x2="27.70" y2="230.30" stroke="#111" stroke-width="0.5"/>
<g transform="translate(27.70 236.80)"><text class="m" data-k="12c0fdcf93" font-size="4.0" text-anchor="middle" font-weight="bold" >0</text></g>
<line x1="35.70" y1="228.80" x2="35.70" y2="230.30" stroke="#111" stroke-width="0.5"/>
<g transform="translate(35.70 236.80)"><text class="m" data-k="5b9edbbd85" font-size="4.0" text-anchor="middle" font-weight="bold" >10<tspan dy="-1.3" font-size="2.7">2</tspan></text></g>
<line x1="54.20" y1="228.80" x2="54.20" y2="230.30" stroke="#111" stroke-width="0.5"/>
<g transform="translate(54.20 236.80)"><text class="m" data-k="83d68e96ac" font-size="4.0" text-anchor="middle" font-weight="bold" >10<tspan dy="-1.3" font-size="2.7">3</tspan></text></g>
<line x1="75.70" y1="228.80" x2="75.70" y2="230.30" stroke="#111" stroke-width="0.5"/>
<g transform="translate(75.70 236.80)"><text class="m" data-k="aee35fed06" font-size="4.0" text-anchor="middle" font-weight="bold" >10<tspan dy="-1.3" font-size="2.7">4</tspan></text></g>
<line x1="94.50" y1="228.80" x2="94.50" y2="230.30" stroke="#111" stroke-width="0.5"/>
<g transform="translate(94.50 236.80)"><text class="m" data-k="619d49a557" font-size="4.0" text-anchor="middle" font-weight="bold" >10<tspan dy="-1.3" font-size="2.7">5</tspan></text></g>
<clipPath id="clipD2"><rect x="116.1" y="144.3" width="84.70000000000002" height="84.5"/></clipPath>
<path d="M156.3 215.8h0.8v0.8h-0.8zM181.5 207.0h0.8v0.8h-0.8zM159.1 220.2h0.8v0.8h-0.8zM190.8 208.4h0.8v0.8h-0.8zM174.6 196.7h0.8v0.8h-0.8zM147.7 202.4h0.8v0.8h-0.8zM178.9 189.7h0.8v0.8h-0.8zM190.0 196.6h0.8v0.8h-0.8zM160.0 188.6h0.8v0.8h-0.8zM201.0 217.9h0.8v0.8h-0.8zM194.4 212.7h0.8v0.8h-0.8zM149.3 200.6h0.8v0.8h-0.8zM174.2 191.7h0.8v0.8h-0.8zM198.5 202.3h0.8v0.8h-0.8zM155.8 221.2h0.8v0.8h-0.8zM154.2 225.9h0.8v0.8h-0.8zM171.8 210.0h0.8v0.8h-0.8zM165.9 207.2h0.8v0.8h-0.8zM157.5 188.4h0.8v0.8h-0.8zM193.9 196.7h0.8v0.8h-0.8zM189.3 195.6h0.8v0.8h-0.8zM199.4 224.4h0.8v0.8h-0.8zM188.0 218.9h0.8v0.8h-0.8zM178.6 217.5h0.8v0.8h-0.8zM154.1 206.9h0.8v0.8h-0.8zM191.8 195.3h0.8v0.8h-0.8zM197.0 224.2h0.8v0.8h-0.8zM169.5 202.2h0.8v0.8h-0.8zM171.7 203.0h0.8v0.8h-0.8zM200.8 203.1h0.8v0.8h-0.8zM148.9 190.7h0.8v0.8h-0.8zM186.0 228.6h0.8v0.8h-0.8zM174.1 207.5h0.8v0.8h-0.8zM177.0 218.3h0.8v0.8h-0.8zM159.4 212.4h0.8v0.8h-0.8zM177.3 213.0h0.8v0.8h-0.8zM157.2 194.0h0.8v0.8h-0.8zM166.2 225.8h0.8v0.8h-0.8zM166.1 211.9h0.8v0.8h-0.8zM163.9 191.1h0.8v0.8h-0.8zM151.0 221.1h0.8v0.8h-0.8zM189.1 202.6h0.8v0.8h-0.8zM184.1 215.3h0.8v0.8h-0.8zM195.7 227.1h0.8v0.8h-0.8zM169.3 228.4h0.8v0.8h-0.8zM199.0 211.7h0.8v0.8h-0.8zM194.8 207.5h0.8v0.8h-0.8zM167.6 197.2h0.8v0.8h-0.8zM194.5 193.6h0.8v0.8h-0.8zM151.2 220.7h0.8v0.8h-0.8zM189.0 207.1h0.8v0.8h-0.8zM192.4 189.0h0.8v0.8h-0.8zM161.3 199.0h0.8v0.8h-0.8zM170.0 194.0h0.8v0.8h-0.8zM151.2 201.0h0.8v0.8h-0.8zM195.7 228.2h0.8v0.8h-0.8zM187.5 207.0h0.8v0.8h-0.8zM161.0 227.2h0.8v0.8h-0.8zM175.7 217.5h0.8v0.8h-0.8zM149.0 195.7h0.8v0.8h-0.8zM192.4 220.3h0.8v0.8h-0.8zM194.7 212.1h0.8v0.8h-0.8zM170.3 211.3h0.8v0.8h-0.8zM193.0 199.8h0.8v0.8h-0.8zM176.1 198.4h0.8v0.8h-0.8zM188.7 187.2h0.8v0.8h-0.8zM184.2 227.0h0.8v0.8h-0.8zM148.8 211.8h0.8v0.8h-0.8zM182.0 222.7h0.8v0.8h-0.8zM178.8 197.6h0.8v0.8h-0.8zM169.2 227.2h0.8v0.8h-0.8zM196.0 192.4h0.8v0.8h-0.8zM152.6 190.8h0.8v0.8h-0.8zM148.9 205.6h0.8v0.8h-0.8zM155.0 223.3h0.8v0.8h-0.8zM182.6 192.1h0.8v0.8h-0.8zM176.4 200.5h0.8v0.8h-0.8zM174.0 196.0h0.8v0.8h-0.8zM156.4 194.5h0.8v0.8h-0.8zM167.8 216.7h0.8v0.8h-0.8zM177.0 188.7h0.8v0.8h-0.8zM185.6 223.6h0.8v0.8h-0.8zM189.0 220.1h0.8v0.8h-0.8zM147.9 206.3h0.8v0.8h-0.8zM150.9 219.0h0.8v0.8h-0.8zM156.9 216.8h0.8v0.8h-0.8zM161.1 216.1h0.8v0.8h-0.8zM164.3 188.6h0.8v0.8h-0.8zM168.3 199.8h0.8v0.8h-0.8zM195.8 199.2h0.8v0.8h-0.8zM174.5 209.9h0.8v0.8h-0.8zM198.3 190.9h0.8v0.8h-0.8zM179.7 208.2h0.8v0.8h-0.8zM186.9 227.5h0.8v0.8h-0.8zM164.1 216.2h0.8v0.8h-0.8zM175.7 210.4h0.8v0.8h-0.8zM150.9 221.1h0.8v0.8h-0.8zM199.9 201.8h0.8v0.8h-0.8zM164.6 228.6h0.8v0.8h-0.8zM153.3 190.0h0.8v0.8h-0.8zM151.4 221.1h0.8v0.8h-0.8zM188.2 205.7h0.8v0.8h-0.8zM180.8 187.6h0.8v0.8h-0.8zM182.1 205.4h0.8v0.8h-0.8zM175.2 203.2h0.8v0.8h-0.8zM169.0 196.3h0.8v0.8h-0.8zM150.1 205.1h0.8v0.8h-0.8zM160.7 216.4h0.8v0.8h-0.8zM191.3 217.3h0.8v0.8h-0.8zM171.9 196.8h0.8v0.8h-0.8zM168.2 207.3h0.8v0.8h-0.8zM181.4 227.3h0.8v0.8h-0.8zM152.1 207.0h0.8v0.8h-0.8zM173.9 217.0h0.8v0.8h-0.8zM195.2 219.6h0.8v0.8h-0.8zM181.1 218.7h0.8v0.8h-0.8zM183.3 223.0h0.8v0.8h-0.8zM185.0 215.6h0.8v0.8h-0.8zM160.6 225.4h0.8v0.8h-0.8zM168.2 212.7h0.8v0.8h-0.8zM191.7 227.4h0.8v0.8h-0.8zM200.5 187.1h0.8v0.8h-0.8zM164.3 199.9h0.8v0.8h-0.8zM168.5 192.9h0.8v0.8h-0.8zM177.2 190.1h0.8v0.8h-0.8zM163.7 226.5h0.8v0.8h-0.8zM187.3 206.3h0.8v0.8h-0.8zM153.3 227.0h0.8v0.8h-0.8zM185.2 195.5h0.8v0.8h-0.8zM165.5 213.8h0.8v0.8h-0.8zM184.0 197.8h0.8v0.8h-0.8zM198.5 200.4h0.8v0.8h-0.8zM161.1 222.4h0.8v0.8h-0.8zM155.7 215.5h0.8v0.8h-0.8zM158.2 212.0h0.8v0.8h-0.8zM162.4 202.8h0.8v0.8h-0.8zM197.9 206.5h0.8v0.8h-0.8zM170.9 212.8h0.8v0.8h-0.8zM162.5 194.1h0.8v0.8h-0.8zM168.1 198.3h0.8v0.8h-0.8zM157.6 227.2h0.8v0.8h-0.8zM149.3 220.9h0.8v0.8h-0.8zM197.6 216.5h0.8v0.8h-0.8zM148.5 207.9h0.8v0.8h-0.8zM149.6 212.4h0.8v0.8h-0.8zM185.0 196.9h0.8v0.8h-0.8zM147.9 209.7h0.8v0.8h-0.8zM152.6 199.8h0.8v0.8h-0.8zM171.8 224.5h0.8v0.8h-0.8zM167.3 192.5h0.8v0.8h-0.8zM189.9 221.4h0.8v0.8h-0.8zM175.9 188.9h0.8v0.8h-0.8zM157.6 203.8h0.8v0.8h-0.8zM177.1 196.3h0.8v0.8h-0.8zM190.5 222.3h0.8v0.8h-0.8zM197.1 224.0h0.8v0.8h-0.8zM148.4 211.3h0.8v0.8h-0.8zM151.8 224.7h0.8v0.8h-0.8zM187.5 218.8h0.8v0.8h-0.8zM157.6 189.3h0.8v0.8h-0.8zM191.2 212.3h0.8v0.8h-0.8zM180.7 206.6h0.8v0.8h-0.8zM190.4 201.0h0.8v0.8h-0.8zM162.0 201.7h0.8v0.8h-0.8zM163.5 213.2h0.8v0.8h-0.8zM195.2 189.8h0.8v0.8h-0.8zM151.1 208.3h0.8v0.8h-0.8zM183.8 194.8h0.8v0.8h-0.8zM162.0 189.3h0.8v0.8h-0.8zM149.5 207.6h0.8v0.8h-0.8zM184.0 214.3h0.8v0.8h-0.8zM156.0 191.2h0.8v0.8h-0.8zM197.4 209.5h0.8v0.8h-0.8zM169.4 215.9h0.8v0.8h-0.8zM186.5 208.9h0.8v0.8h-0.8zM151.7 221.6h0.8v0.8h-0.8zM159.0 188.5h0.8v0.8h-0.8zM166.4 209.2h0.8v0.8h-0.8zM181.2 194.1h0.8v0.8h-0.8zM185.5 207.6h0.8v0.8h-0.8zM156.2 222.6h0.8v0.8h-0.8zM190.7 225.0h0.8v0.8h-0.8zM183.9 195.9h0.8v0.8h-0.8zM189.2 224.8h0.8v0.8h-0.8zM176.1 225.0h0.8v0.8h-0.8zM199.5 203.2h0.8v0.8h-0.8zM198.0 226.2h0.8v0.8h-0.8zM190.1 187.3h0.8v0.8h-0.8zM166.4 212.6h0.8v0.8h-0.8zM180.0 218.6h0.8v0.8h-0.8zM182.2 193.6h0.8v0.8h-0.8zM197.4 209.4h0.8v0.8h-0.8zM194.8 195.5h0.8v0.8h-0.8zM201.0 210.2h0.8v0.8h-0.8zM189.1 218.0h0.8v0.8h-0.8zM194.8 202.1h0.8v0.8h-0.8zM151.9 203.9h0.8v0.8h-0.8zM157.1 209.5h0.8v0.8h-0.8zM191.2 202.0h0.8v0.8h-0.8zM154.5 187.9h0.8v0.8h-0.8zM170.2 211.2h0.8v0.8h-0.8zM148.9 214.8h0.8v0.8h-0.8zM158.8 191.3h0.8v0.8h-0.8zM197.2 208.8h0.8v0.8h-0.8zM195.5 208.4h0.8v0.8h-0.8zM154.1 196.9h0.8v0.8h-0.8zM170.2 213.8h0.8v0.8h-0.8zM188.8 218.4h0.8v0.8h-0.8zM182.4 197.4h0.8v0.8h-0.8zM170.6 202.7h0.8v0.8h-0.8zM173.7 198.0h0.8v0.8h-0.8zM176.3 206.1h0.8v0.8h-0.8zM149.4 221.4h0.8v0.8h-0.8zM178.9 220.6h0.8v0.8h-0.8zM187.0 217.6h0.8v0.8h-0.8zM200.7 202.7h0.8v0.8h-0.8zM168.6 187.0h0.8v0.8h-0.8zM183.1 211.3h0.8v0.8h-0.8zM178.4 228.8h0.8v0.8h-0.8zM158.1 196.4h0.8v0.8h-0.8zM186.9 221.0h0.8v0.8h-0.8zM173.4 189.1h0.8v0.8h-0.8zM167.4 221.6h0.8v0.8h-0.8zM174.3 206.2h0.8v0.8h-0.8zM168.4 213.3h0.8v0.8h-0.8zM179.6 216.0h0.8v0.8h-0.8zM193.9 218.4h0.8v0.8h-0.8zM167.6 197.3h0.8v0.8h-0.8zM189.4 220.2h0.8v0.8h-0.8zM197.2 195.2h0.8v0.8h-0.8zM192.9 224.3h0.8v0.8h-0.8zM151.6 199.8h0.8v0.8h-0.8zM181.5 193.0h0.8v0.8h-0.8zM192.1 197.9h0.8v0.8h-0.8zM184.1 199.3h0.8v0.8h-0.8zM159.2 195.5h0.8v0.8h-0.8zM174.2 216.8h0.8v0.8h-0.8zM159.2 215.7h0.8v0.8h-0.8zM165.5 214.1h0.8v0.8h-0.8zM167.2 194.9h0.8v0.8h-0.8zM155.1 189.2h0.8v0.8h-0.8zM184.8 204.2h0.8v0.8h-0.8zM154.1 223.9h0.8v0.8h-0.8zM182.6 187.7h0.8v0.8h-0.8zM186.3 211.8h0.8v0.8h-0.8zM171.3 207.9h0.8v0.8h-0.8zM199.1 202.5h0.8v0.8h-0.8zM181.6 213.6h0.8v0.8h-0.8zM167.1 201.4h0.8v0.8h-0.8zM188.0 213.6h0.8v0.8h-0.8zM172.0 208.4h0.8v0.8h-0.8zM159.5 220.0h0.8v0.8h-0.8zM148.6 213.9h0.8v0.8h-0.8zM171.9 196.1h0.8v0.8h-0.8zM179.0 211.3h0.8v0.8h-0.8zM152.2 207.4h0.8v0.8h-0.8zM156.3 220.4h0.8v0.8h-0.8zM165.0 200.6h0.8v0.8h-0.8zM159.0 188.8h0.8v0.8h-0.8zM157.5 193.2h0.8v0.8h-0.8zM181.0 222.5h0.8v0.8h-0.8zM159.3 191.5h0.8v0.8h-0.8zM176.1 191.7h0.8v0.8h-0.8zM169.2 218.8h0.8v0.8h-0.8zM158.4 216.3h0.8v0.8h-0.8zM176.4 190.4h0.8v0.8h-0.8zM160.5 212.0h0.8v0.8h-0.8zM152.7 195.4h0.8v0.8h-0.8zM178.4 221.2h0.8v0.8h-0.8zM175.4 214.7h0.8v0.8h-0.8zM148.0 199.5h0.8v0.8h-0.8zM164.6 225.3h0.8v0.8h-0.8zM166.7 219.8h0.8v0.8h-0.8zM149.3 207.8h0.8v0.8h-0.8zM195.3 219.3h0.8v0.8h-0.8zM178.6 194.5h0.8v0.8h-0.8zM197.1 190.2h0.8v0.8h-0.8zM199.2 219.5h0.8v0.8h-0.8zM186.1 209.1h0.8v0.8h-0.8zM156.3 201.2h0.8v0.8h-0.8zM183.1 214.4h0.8v0.8h-0.8zM168.4 220.5h0.8v0.8h-0.8zM150.4 198.9h0.8v0.8h-0.8zM152.3 200.5h0.8v0.8h-0.8zM190.0 218.5h0.8v0.8h-0.8zM155.5 199.8h0.8v0.8h-0.8zM153.5 214.7h0.8v0.8h-0.8zM171.2 196.5h0.8v0.8h-0.8zM167.6 223.2h0.8v0.8h-0.8zM170.3 215.9h0.8v0.8h-0.8zM181.1 206.7h0.8v0.8h-0.8zM177.3 202.1h0.8v0.8h-0.8zM158.1 207.6h0.8v0.8h-0.8zM163.8 200.7h0.8v0.8h-0.8zM157.5 225.3h0.8v0.8h-0.8zM170.3 195.2h0.8v0.8h-0.8zM149.2 195.8h0.8v0.8h-0.8zM194.1 201.0h0.8v0.8h-0.8zM183.3 196.5h0.8v0.8h-0.8zM182.4 205.8h0.8v0.8h-0.8zM187.0 209.0h0.8v0.8h-0.8zM167.6 198.6h0.8v0.8h-0.8zM179.4 221.8h0.8v0.8h-0.8zM184.6 207.0h0.8v0.8h-0.8zM165.1 224.3h0.8v0.8h-0.8zM192.9 192.9h0.8v0.8h-0.8zM183.9 219.3h0.8v0.8h-0.8zM183.7 227.4h0.8v0.8h-0.8zM194.6 197.2h0.8v0.8h-0.8zM200.9 200.6h0.8v0.8h-0.8zM167.9 227.9h0.8v0.8h-0.8zM156.5 203.4h0.8v0.8h-0.8zM181.0 198.3h0.8v0.8h-0.8zM161.8 220.2h0.8v0.8h-0.8zM180.3 218.1h0.8v0.8h-0.8zM189.8 223.5h0.8v0.8h-0.8zM195.4 221.5h0.8v0.8h-0.8zM199.9 207.8h0.8v0.8h-0.8zM185.1 208.4h0.8v0.8h-0.8zM199.5 214.4h0.8v0.8h-0.8zM170.6 214.8h0.8v0.8h-0.8zM163.3 192.3h0.8v0.8h-0.8zM168.2 192.6h0.8v0.8h-0.8zM147.7 190.7h0.8v0.8h-0.8zM171.9 218.9h0.8v0.8h-0.8zM150.1 213.6h0.8v0.8h-0.8zM153.5 208.3h0.8v0.8h-0.8zM163.4 205.6h0.8v0.8h-0.8zM185.7 204.2h0.8v0.8h-0.8zM168.5 217.5h0.8v0.8h-0.8zM153.7 201.5h0.8v0.8h-0.8zM185.1 222.0h0.8v0.8h-0.8zM200.0 197.6h0.8v0.8h-0.8zM181.0 200.0h0.8v0.8h-0.8zM185.1 222.4h0.8v0.8h-0.8zM154.7 201.3h0.8v0.8h-0.8zM197.7 201.6h0.8v0.8h-0.8zM181.4 221.3h0.8v0.8h-0.8zM162.4 219.8h0.8v0.8h-0.8zM147.7 201.1h0.8v0.8h-0.8zM156.4 201.4h0.8v0.8h-0.8zM158.9 187.9h0.8v0.8h-0.8zM190.5 194.1h0.8v0.8h-0.8zM178.2 210.1h0.8v0.8h-0.8zM193.0 222.5h0.8v0.8h-0.8zM180.8 193.9h0.8v0.8h-0.8zM188.3 190.9h0.8v0.8h-0.8zM197.3 199.8h0.8v0.8h-0.8zM161.0 195.9h0.8v0.8h-0.8zM168.7 220.1h0.8v0.8h-0.8zM193.3 218.2h0.8v0.8h-0.8zM186.6 197.1h0.8v0.8h-0.8zM164.7 199.6h0.8v0.8h-0.8zM170.7 223.6h0.8v0.8h-0.8zM200.9 190.3h0.8v0.8h-0.8zM199.2 225.5h0.8v0.8h-0.8zM172.2 216.0h0.8v0.8h-0.8zM189.5 194.7h0.8v0.8h-0.8zM180.5 228.1h0.8v0.8h-0.8zM194.7 225.2h0.8v0.8h-0.8zM152.0 216.9h0.8v0.8h-0.8zM173.6 225.1h0.8v0.8h-0.8zM156.4 209.9h0.8v0.8h-0.8zM154.0 220.7h0.8v0.8h-0.8zM186.2 188.1h0.8v0.8h-0.8zM164.1 192.8h0.8v0.8h-0.8zM181.6 213.3h0.8v0.8h-0.8zM150.9 226.8h0.8v0.8h-0.8zM199.2 205.4h0.8v0.8h-0.8zM178.3 202.1h0.8v0.8h-0.8zM180.0 203.6h0.8v0.8h-0.8zM171.1 218.4h0.8v0.8h-0.8zM157.5 199.4h0.8v0.8h-0.8zM188.4 196.3h0.8v0.8h-0.8zM151.2 225.2h0.8v0.8h-0.8zM156.0 204.1h0.8v0.8h-0.8zM164.3 197.8h0.8v0.8h-0.8zM166.4 209.4h0.8v0.8h-0.8zM153.7 209.2h0.8v0.8h-0.8zM150.2 190.1h0.8v0.8h-0.8zM158.3 196.9h0.8v0.8h-0.8zM165.8 199.1h0.8v0.8h-0.8zM192.4 214.5h0.8v0.8h-0.8zM172.9 219.3h0.8v0.8h-0.8zM184.3 200.1h0.8v0.8h-0.8zM180.5 218.2h0.8v0.8h-0.8zM176.1 218.5h0.8v0.8h-0.8zM181.4 225.9h0.8v0.8h-0.8zM161.7 215.1h0.8v0.8h-0.8zM199.9 209.0h0.8v0.8h-0.8zM196.0 190.8h0.8v0.8h-0.8zM186.3 198.0h0.8v0.8h-0.8zM187.7 204.6h0.8v0.8h-0.8zM176.2 197.3h0.8v0.8h-0.8zM161.3 223.2h0.8v0.8h-0.8zM182.0 213.3h0.8v0.8h-0.8zM153.7 199.1h0.8v0.8h-0.8zM199.4 195.4h0.8v0.8h-0.8zM176.3 216.1h0.8v0.8h-0.8zM174.9 210.1h0.8v0.8h-0.8zM199.5 219.7h0.8v0.8h-0.8zM160.2 204.9h0.8v0.8h-0.8zM170.0 215.6h0.8v0.8h-0.8zM183.7 197.8h0.8v0.8h-0.8zM184.6 205.0h0.8v0.8h-0.8zM148.3 199.1h0.8v0.8h-0.8zM167.7 195.1h0.8v0.8h-0.8zM183.5 228.6h0.8v0.8h-0.8zM197.4 213.3h0.8v0.8h-0.8zM193.4 207.5h0.8v0.8h-0.8zM178.9 224.4h0.8v0.8h-0.8zM150.7 202.1h0.8v0.8h-0.8zM167.6 201.2h0.8v0.8h-0.8zM170.4 189.2h0.8v0.8h-0.8zM183.9 227.1h0.8v0.8h-0.8zM160.1 194.6h0.8v0.8h-0.8zM165.4 220.3h0.8v0.8h-0.8zM159.6 219.3h0.8v0.8h-0.8zM156.8 211.9h0.8v0.8h-0.8zM186.2 215.2h0.8v0.8h-0.8zM152.0 227.1h0.8v0.8h-0.8zM193.0 207.0h0.8v0.8h-0.8zM193.6 212.1h0.8v0.8h-0.8zM156.5 203.5h0.8v0.8h-0.8zM191.5 206.3h0.8v0.8h-0.8zM149.7 193.8h0.8v0.8h-0.8zM157.5 211.5h0.8v0.8h-0.8zM182.0 205.7h0.8v0.8h-0.8zM169.1 227.3h0.8v0.8h-0.8zM165.9 215.1h0.8v0.8h-0.8zM158.5 208.4h0.8v0.8h-0.8zM157.1 191.6h0.8v0.8h-0.8zM165.5 191.6h0.8v0.8h-0.8zM167.9 214.3h0.8v0.8h-0.8zM176.9 220.3h0.8v0.8h-0.8zM173.1 190.3h0.8v0.8h-0.8zM186.5 203.7h0.8v0.8h-0.8zM187.8 227.9h0.8v0.8h-0.8zM175.6 197.3h0.8v0.8h-0.8zM166.7 207.8h0.8v0.8h-0.8zM164.6 191.1h0.8v0.8h-0.8zM168.9 214.4h0.8v0.8h-0.8zM191.2 218.9h0.8v0.8h-0.8zM194.9 220.5h0.8v0.8h-0.8zM169.6 213.9h0.8v0.8h-0.8zM150.4 220.2h0.8v0.8h-0.8zM185.4 198.0h0.8v0.8h-0.8zM172.8 198.2h0.8v0.8h-0.8zM190.1 204.8h0.8v0.8h-0.8zM189.4 225.7h0.8v0.8h-0.8zM189.2 202.8h0.8v0.8h-0.8zM165.9 226.6h0.8v0.8h-0.8zM196.0 194.8h0.8v0.8h-0.8zM166.9 220.0h0.8v0.8h-0.8zM188.0 198.7h0.8v0.8h-0.8zM171.4 227.3h0.8v0.8h-0.8zM152.3 198.3h0.8v0.8h-0.8zM183.1 225.0h0.8v0.8h-0.8zM198.3 206.6h0.8v0.8h-0.8zM189.9 227.7h0.8v0.8h-0.8zM165.2 196.4h0.8v0.8h-0.8zM161.4 219.7h0.8v0.8h-0.8zM155.0 209.8h0.8v0.8h-0.8zM197.3 195.3h0.8v0.8h-0.8zM181.2 209.1h0.8v0.8h-0.8zM199.3 208.4h0.8v0.8h-0.8zM173.8 224.8h0.8v0.8h-0.8zM187.8 192.9h0.8v0.8h-0.8zM190.6 203.6h0.8v0.8h-0.8zM199.4 227.3h0.8v0.8h-0.8zM173.9 204.3h0.8v0.8h-0.8zM159.7 198.4h0.8v0.8h-0.8zM158.5 193.9h0.8v0.8h-0.8zM186.6 189.0h0.8v0.8h-0.8zM179.6 212.0h0.8v0.8h-0.8zM186.9 210.7h0.8v0.8h-0.8zM197.2 198.6h0.8v0.8h-0.8zM152.5 211.3h0.8v0.8h-0.8zM161.9 228.4h0.8v0.8h-0.8zM196.9 215.7h0.8v0.8h-0.8z" fill="#444" opacity="0.65" clip-path="url(#clipD2)"/>
<path d="M190.2 152.6h0.8v0.8h-0.8zM149.0 186.7h0.8v0.8h-0.8zM156.1 151.8h0.8v0.8h-0.8zM176.7 160.8h0.8v0.8h-0.8zM187.1 156.2h0.8v0.8h-0.8zM190.2 159.7h0.8v0.8h-0.8zM174.5 184.1h0.8v0.8h-0.8zM178.2 183.8h0.8v0.8h-0.8zM179.2 148.9h0.8v0.8h-0.8zM186.8 170.5h0.8v0.8h-0.8zM161.7 154.6h0.8v0.8h-0.8zM185.4 170.2h0.8v0.8h-0.8zM189.3 177.8h0.8v0.8h-0.8zM190.3 169.5h0.8v0.8h-0.8zM178.7 171.4h0.8v0.8h-0.8zM159.4 185.1h0.8v0.8h-0.8zM161.7 178.1h0.8v0.8h-0.8zM190.0 172.9h0.8v0.8h-0.8zM154.3 179.8h0.8v0.8h-0.8zM177.4 154.4h0.8v0.8h-0.8zM150.2 168.2h0.8v0.8h-0.8zM149.4 183.8h0.8v0.8h-0.8zM170.3 167.6h0.8v0.8h-0.8zM166.0 173.3h0.8v0.8h-0.8zM188.3 159.2h0.8v0.8h-0.8zM164.4 170.2h0.8v0.8h-0.8zM161.1 170.7h0.8v0.8h-0.8zM171.9 164.3h0.8v0.8h-0.8zM177.6 168.0h0.8v0.8h-0.8zM151.9 186.7h0.8v0.8h-0.8zM163.7 164.2h0.8v0.8h-0.8zM165.7 184.0h0.8v0.8h-0.8zM189.9 167.4h0.8v0.8h-0.8zM165.6 150.8h0.8v0.8h-0.8zM187.4 153.8h0.8v0.8h-0.8zM172.1 160.9h0.8v0.8h-0.8zM162.4 161.2h0.8v0.8h-0.8zM156.4 148.5h0.8v0.8h-0.8zM171.6 178.7h0.8v0.8h-0.8zM176.5 155.0h0.8v0.8h-0.8zM178.5 149.1h0.8v0.8h-0.8zM166.1 180.0h0.8v0.8h-0.8zM188.5 165.3h0.8v0.8h-0.8zM185.2 166.8h0.8v0.8h-0.8zM171.1 170.3h0.8v0.8h-0.8zM191.6 176.6h0.8v0.8h-0.8zM168.8 175.9h0.8v0.8h-0.8zM176.3 161.1h0.8v0.8h-0.8zM182.5 179.6h0.8v0.8h-0.8zM174.8 184.5h0.8v0.8h-0.8zM148.8 166.9h0.8v0.8h-0.8zM175.9 160.6h0.8v0.8h-0.8zM155.5 174.5h0.8v0.8h-0.8zM167.1 157.7h0.8v0.8h-0.8zM149.8 185.5h0.8v0.8h-0.8zM163.5 151.7h0.8v0.8h-0.8zM157.5 157.1h0.8v0.8h-0.8zM186.1 154.2h0.8v0.8h-0.8zM160.2 150.9h0.8v0.8h-0.8zM168.7 155.3h0.8v0.8h-0.8zM163.1 176.2h0.8v0.8h-0.8zM188.7 180.2h0.8v0.8h-0.8zM149.7 162.0h0.8v0.8h-0.8zM185.4 148.3h0.8v0.8h-0.8zM156.9 166.5h0.8v0.8h-0.8zM164.8 176.9h0.8v0.8h-0.8zM179.6 165.5h0.8v0.8h-0.8zM159.0 156.2h0.8v0.8h-0.8zM159.7 149.6h0.8v0.8h-0.8zM177.3 153.3h0.8v0.8h-0.8zM187.1 172.7h0.8v0.8h-0.8zM150.5 166.9h0.8v0.8h-0.8zM174.6 148.7h0.8v0.8h-0.8zM169.4 148.2h0.8v0.8h-0.8zM181.7 147.2h0.8v0.8h-0.8zM175.8 186.2h0.8v0.8h-0.8zM185.2 156.3h0.8v0.8h-0.8zM171.5 152.6h0.8v0.8h-0.8zM163.1 181.4h0.8v0.8h-0.8zM184.0 147.4h0.8v0.8h-0.8zM164.7 172.5h0.8v0.8h-0.8zM155.7 178.9h0.8v0.8h-0.8zM187.3 168.9h0.8v0.8h-0.8zM163.9 180.8h0.8v0.8h-0.8zM170.6 154.5h0.8v0.8h-0.8zM160.2 153.3h0.8v0.8h-0.8zM184.9 167.3h0.8v0.8h-0.8zM178.7 179.5h0.8v0.8h-0.8zM190.8 154.6h0.8v0.8h-0.8zM165.9 181.8h0.8v0.8h-0.8zM181.5 162.4h0.8v0.8h-0.8zM176.9 154.8h0.8v0.8h-0.8zM155.1 149.0h0.8v0.8h-0.8zM164.7 156.4h0.8v0.8h-0.8zM170.8 185.6h0.8v0.8h-0.8zM154.7 169.2h0.8v0.8h-0.8zM186.0 170.8h0.8v0.8h-0.8zM171.2 177.6h0.8v0.8h-0.8zM149.0 184.8h0.8v0.8h-0.8zM178.2 179.1h0.8v0.8h-0.8zM184.3 150.9h0.8v0.8h-0.8zM150.9 154.1h0.8v0.8h-0.8zM170.2 184.3h0.8v0.8h-0.8zM188.0 163.4h0.8v0.8h-0.8zM175.4 176.4h0.8v0.8h-0.8zM162.6 185.6h0.8v0.8h-0.8zM189.4 175.9h0.8v0.8h-0.8zM187.7 178.9h0.8v0.8h-0.8zM176.7 159.8h0.8v0.8h-0.8zM160.4 156.5h0.8v0.8h-0.8zM150.5 183.8h0.8v0.8h-0.8zM161.1 148.0h0.8v0.8h-0.8zM161.9 151.1h0.8v0.8h-0.8zM167.6 160.2h0.8v0.8h-0.8zM155.7 166.0h0.8v0.8h-0.8zM166.3 161.1h0.8v0.8h-0.8zM183.8 159.2h0.8v0.8h-0.8zM171.8 181.9h0.8v0.8h-0.8zM190.2 161.9h0.8v0.8h-0.8zM149.8 184.8h0.8v0.8h-0.8zM170.6 155.7h0.8v0.8h-0.8zM153.6 156.5h0.8v0.8h-0.8zM161.7 152.5h0.8v0.8h-0.8zM150.2 186.6h0.8v0.8h-0.8zM184.1 151.5h0.8v0.8h-0.8zM169.2 178.9h0.8v0.8h-0.8zM170.2 149.8h0.8v0.8h-0.8zM162.9 162.2h0.8v0.8h-0.8zM188.2 170.2h0.8v0.8h-0.8zM168.2 172.1h0.8v0.8h-0.8zM150.1 174.3h0.8v0.8h-0.8zM183.6 173.7h0.8v0.8h-0.8zM163.9 158.4h0.8v0.8h-0.8zM148.4 150.3h0.8v0.8h-0.8zM154.8 165.0h0.8v0.8h-0.8zM182.2 155.6h0.8v0.8h-0.8zM168.8 172.3h0.8v0.8h-0.8zM175.7 147.8h0.8v0.8h-0.8zM188.5 170.3h0.8v0.8h-0.8zM161.3 156.5h0.8v0.8h-0.8zM178.3 184.1h0.8v0.8h-0.8zM162.8 162.8h0.8v0.8h-0.8zM172.5 154.0h0.8v0.8h-0.8zM165.9 183.5h0.8v0.8h-0.8zM172.5 179.8h0.8v0.8h-0.8zM159.5 181.6h0.8v0.8h-0.8zM182.4 156.0h0.8v0.8h-0.8zM171.3 174.1h0.8v0.8h-0.8zM173.2 171.0h0.8v0.8h-0.8zM158.6 169.0h0.8v0.8h-0.8zM163.6 178.8h0.8v0.8h-0.8zM164.4 186.0h0.8v0.8h-0.8zM173.5 156.1h0.8v0.8h-0.8zM166.3 152.1h0.8v0.8h-0.8zM180.4 148.8h0.8v0.8h-0.8zM174.6 159.3h0.8v0.8h-0.8zM182.2 152.0h0.8v0.8h-0.8zM177.9 175.4h0.8v0.8h-0.8zM158.3 152.2h0.8v0.8h-0.8zM164.4 172.8h0.8v0.8h-0.8zM159.5 147.3h0.8v0.8h-0.8zM167.4 179.2h0.8v0.8h-0.8zM154.9 184.4h0.8v0.8h-0.8zM170.4 153.4h0.8v0.8h-0.8zM152.4 161.8h0.8v0.8h-0.8zM169.0 154.0h0.8v0.8h-0.8zM151.7 167.0h0.8v0.8h-0.8zM159.2 164.7h0.8v0.8h-0.8zM167.8 174.8h0.8v0.8h-0.8zM173.4 156.1h0.8v0.8h-0.8zM155.9 181.2h0.8v0.8h-0.8zM150.2 151.9h0.8v0.8h-0.8zM151.1 179.9h0.8v0.8h-0.8zM171.8 183.8h0.8v0.8h-0.8zM175.6 160.3h0.8v0.8h-0.8zM166.9 176.1h0.8v0.8h-0.8zM158.2 179.0h0.8v0.8h-0.8zM165.9 148.7h0.8v0.8h-0.8zM163.1 169.3h0.8v0.8h-0.8zM154.4 183.0h0.8v0.8h-0.8zM188.8 167.4h0.8v0.8h-0.8zM187.8 174.5h0.8v0.8h-0.8zM171.7 153.3h0.8v0.8h-0.8zM189.9 183.6h0.8v0.8h-0.8zM167.9 162.3h0.8v0.8h-0.8zM151.2 171.6h0.8v0.8h-0.8zM185.6 162.5h0.8v0.8h-0.8zM160.7 171.4h0.8v0.8h-0.8zM182.9 153.8h0.8v0.8h-0.8zM160.4 172.6h0.8v0.8h-0.8zM149.8 179.5h0.8v0.8h-0.8zM161.9 180.1h0.8v0.8h-0.8zM168.0 153.6h0.8v0.8h-0.8zM148.9 151.5h0.8v0.8h-0.8zM159.5 177.2h0.8v0.8h-0.8zM182.9 172.1h0.8v0.8h-0.8zM161.5 173.4h0.8v0.8h-0.8zM180.2 161.6h0.8v0.8h-0.8zM151.6 165.7h0.8v0.8h-0.8zM157.8 154.5h0.8v0.8h-0.8zM165.2 150.0h0.8v0.8h-0.8zM187.5 158.2h0.8v0.8h-0.8zM187.5 176.3h0.8v0.8h-0.8zM148.5 182.8h0.8v0.8h-0.8zM183.6 167.9h0.8v0.8h-0.8zM186.9 166.0h0.8v0.8h-0.8zM149.1 153.0h0.8v0.8h-0.8zM161.7 181.1h0.8v0.8h-0.8zM184.5 151.7h0.8v0.8h-0.8zM163.4 151.4h0.8v0.8h-0.8zM158.1 161.0h0.8v0.8h-0.8zM166.2 153.0h0.8v0.8h-0.8zM176.9 156.6h0.8v0.8h-0.8zM187.2 166.2h0.8v0.8h-0.8zM166.9 177.5h0.8v0.8h-0.8zM163.2 157.2h0.8v0.8h-0.8zM153.4 158.7h0.8v0.8h-0.8zM158.3 176.3h0.8v0.8h-0.8zM163.6 175.1h0.8v0.8h-0.8zM160.1 149.8h0.8v0.8h-0.8zM161.4 162.6h0.8v0.8h-0.8zM188.0 154.9h0.8v0.8h-0.8zM157.3 153.2h0.8v0.8h-0.8zM159.1 185.2h0.8v0.8h-0.8zM189.0 156.1h0.8v0.8h-0.8zM150.2 166.4h0.8v0.8h-0.8zM173.7 151.4h0.8v0.8h-0.8zM166.4 177.6h0.8v0.8h-0.8zM148.1 175.6h0.8v0.8h-0.8zM178.1 178.3h0.8v0.8h-0.8zM169.4 165.5h0.8v0.8h-0.8zM170.8 152.4h0.8v0.8h-0.8zM170.6 156.5h0.8v0.8h-0.8zM162.1 148.8h0.8v0.8h-0.8zM155.0 149.2h0.8v0.8h-0.8zM171.8 156.4h0.8v0.8h-0.8zM172.4 167.0h0.8v0.8h-0.8zM158.3 152.1h0.8v0.8h-0.8zM174.2 173.9h0.8v0.8h-0.8zM178.4 167.2h0.8v0.8h-0.8zM173.5 148.0h0.8v0.8h-0.8zM161.5 178.9h0.8v0.8h-0.8zM164.6 151.1h0.8v0.8h-0.8zM166.5 180.2h0.8v0.8h-0.8zM152.3 151.5h0.8v0.8h-0.8zM169.9 181.7h0.8v0.8h-0.8zM165.2 156.9h0.8v0.8h-0.8zM181.8 150.8h0.8v0.8h-0.8zM161.0 170.8h0.8v0.8h-0.8zM185.4 181.3h0.8v0.8h-0.8zM162.3 157.6h0.8v0.8h-0.8zM164.0 151.8h0.8v0.8h-0.8zM160.0 177.5h0.8v0.8h-0.8zM191.1 157.8h0.8v0.8h-0.8zM151.2 176.4h0.8v0.8h-0.8zM190.5 178.6h0.8v0.8h-0.8zM166.2 176.6h0.8v0.8h-0.8zM181.5 176.6h0.8v0.8h-0.8zM169.7 186.8h0.8v0.8h-0.8zM182.4 156.4h0.8v0.8h-0.8z" fill="#444" opacity="0.6" clip-path="url(#clipD2)"/>
<path d="M185.7 179.9h0.8v0.8h-0.8zM157.3 186.7h0.8v0.8h-0.8zM157.9 172.7h0.8v0.8h-0.8zM152.4 176.4h0.8v0.8h-0.8zM155.6 174.2h0.8v0.8h-0.8zM186.3 176.8h0.8v0.8h-0.8zM171.2 181.0h0.8v0.8h-0.8zM200.5 148.9h0.8v0.8h-0.8zM175.2 185.0h0.8v0.8h-0.8zM187.1 163.0h0.8v0.8h-0.8zM163.8 184.8h0.8v0.8h-0.8zM152.1 176.5h0.8v0.8h-0.8zM192.7 150.7h0.8v0.8h-0.8zM165.0 157.0h0.8v0.8h-0.8zM176.6 159.6h0.8v0.8h-0.8zM195.4 183.6h0.8v0.8h-0.8zM164.4 182.3h0.8v0.8h-0.8zM151.2 148.1h0.8v0.8h-0.8zM183.2 178.2h0.8v0.8h-0.8zM191.4 186.5h0.8v0.8h-0.8zM193.6 155.3h0.8v0.8h-0.8zM187.3 183.6h0.8v0.8h-0.8zM152.5 165.1h0.8v0.8h-0.8zM155.8 150.0h0.8v0.8h-0.8zM173.2 172.7h0.8v0.8h-0.8zM199.7 149.5h0.8v0.8h-0.8zM174.6 186.7h0.8v0.8h-0.8zM188.5 166.7h0.8v0.8h-0.8zM160.5 171.0h0.8v0.8h-0.8zM161.5 171.5h0.8v0.8h-0.8zM182.3 160.7h0.8v0.8h-0.8zM190.1 161.2h0.8v0.8h-0.8zM172.6 179.6h0.8v0.8h-0.8zM160.9 151.9h0.8v0.8h-0.8zM178.3 162.5h0.8v0.8h-0.8zM194.4 154.6h0.8v0.8h-0.8zM167.4 146.4h0.8v0.8h-0.8zM171.7 157.3h0.8v0.8h-0.8zM171.6 176.7h0.8v0.8h-0.8zM149.5 186.3h0.8v0.8h-0.8zM185.6 178.7h0.8v0.8h-0.8zM176.4 168.6h0.8v0.8h-0.8zM169.5 160.9h0.8v0.8h-0.8zM159.3 156.9h0.8v0.8h-0.8zM163.2 158.3h0.8v0.8h-0.8zM196.1 178.2h0.8v0.8h-0.8zM181.9 144.6h0.8v0.8h-0.8zM161.6 167.2h0.8v0.8h-0.8zM184.6 161.9h0.8v0.8h-0.8zM181.4 182.7h0.8v0.8h-0.8zM161.8 160.3h0.8v0.8h-0.8zM188.2 157.6h0.8v0.8h-0.8zM186.2 160.9h0.8v0.8h-0.8zM148.5 163.7h0.8v0.8h-0.8zM151.2 177.6h0.8v0.8h-0.8zM192.8 166.6h0.8v0.8h-0.8zM195.7 153.0h0.8v0.8h-0.8zM171.4 151.4h0.8v0.8h-0.8zM150.1 179.3h0.8v0.8h-0.8zM150.3 184.0h0.8v0.8h-0.8zM177.3 174.0h0.8v0.8h-0.8zM150.2 182.8h0.8v0.8h-0.8zM190.0 148.4h0.8v0.8h-0.8zM157.3 149.9h0.8v0.8h-0.8zM174.5 147.3h0.8v0.8h-0.8zM190.3 165.2h0.8v0.8h-0.8zM185.2 154.8h0.8v0.8h-0.8zM182.6 163.4h0.8v0.8h-0.8zM182.3 161.5h0.8v0.8h-0.8zM200.6 180.2h0.8v0.8h-0.8zM192.1 158.5h0.8v0.8h-0.8zM157.7 150.5h0.8v0.8h-0.8zM154.6 185.4h0.8v0.8h-0.8zM162.6 181.2h0.8v0.8h-0.8zM159.9 170.5h0.8v0.8h-0.8zM160.9 157.1h0.8v0.8h-0.8zM187.6 170.0h0.8v0.8h-0.8zM198.2 154.1h0.8v0.8h-0.8zM162.0 146.6h0.8v0.8h-0.8zM159.0 186.0h0.8v0.8h-0.8zM177.7 164.3h0.8v0.8h-0.8zM165.8 176.5h0.8v0.8h-0.8zM184.4 150.6h0.8v0.8h-0.8zM150.0 151.3h0.8v0.8h-0.8zM191.3 175.3h0.8v0.8h-0.8zM159.6 153.9h0.8v0.8h-0.8zM164.0 173.0h0.8v0.8h-0.8zM187.6 154.1h0.8v0.8h-0.8zM165.1 154.1h0.8v0.8h-0.8zM198.2 167.6h0.8v0.8h-0.8z" fill="#444" opacity="0.5" clip-path="url(#clipD2)"/>
<path d="M147.4 224.6h0.7v0.7h-0.7zM146.3 151.1h0.7v0.7h-0.7zM136.1 180.0h0.7v0.7h-0.7zM134.0 155.1h0.7v0.7h-0.7zM122.5 181.8h0.7v0.7h-0.7zM123.5 182.7h0.7v0.7h-0.7zM116.8 151.3h0.7v0.7h-0.7zM140.1 179.8h0.7v0.7h-0.7zM133.4 206.4h0.7v0.7h-0.7zM128.2 148.9h0.7v0.7h-0.7zM142.6 194.1h0.7v0.7h-0.7zM138.4 196.8h0.7v0.7h-0.7zM149.0 174.8h0.7v0.7h-0.7zM141.8 175.3h0.7v0.7h-0.7zM135.4 200.1h0.7v0.7h-0.7zM126.7 151.3h0.7v0.7h-0.7zM132.1 205.0h0.7v0.7h-0.7zM136.1 182.0h0.7v0.7h-0.7zM137.8 159.5h0.7v0.7h-0.7zM122.1 171.5h0.7v0.7h-0.7zM143.7 160.6h0.7v0.7h-0.7zM119.9 152.4h0.7v0.7h-0.7zM117.3 167.4h0.7v0.7h-0.7zM135.5 213.8h0.7v0.7h-0.7zM127.2 175.4h0.7v0.7h-0.7zM125.8 169.9h0.7v0.7h-0.7zM142.4 190.7h0.7v0.7h-0.7zM124.8 153.1h0.7v0.7h-0.7zM142.6 204.1h0.7v0.7h-0.7zM144.2 164.2h0.7v0.7h-0.7zM134.5 222.1h0.7v0.7h-0.7zM136.2 224.4h0.7v0.7h-0.7zM121.7 226.9h0.7v0.7h-0.7zM117.9 179.4h0.7v0.7h-0.7zM116.8 212.8h0.7v0.7h-0.7zM139.4 226.8h0.7v0.7h-0.7zM143.4 224.7h0.7v0.7h-0.7zM134.3 228.0h0.7v0.7h-0.7zM141.5 173.4h0.7v0.7h-0.7zM149.1 176.0h0.7v0.7h-0.7zM122.6 150.4h0.7v0.7h-0.7zM131.8 160.7h0.7v0.7h-0.7zM147.7 224.8h0.7v0.7h-0.7zM123.3 152.8h0.7v0.7h-0.7zM134.0 158.4h0.7v0.7h-0.7zM134.5 213.1h0.7v0.7h-0.7zM124.6 179.8h0.7v0.7h-0.7zM146.6 181.8h0.7v0.7h-0.7zM127.7 219.8h0.7v0.7h-0.7zM143.7 220.1h0.7v0.7h-0.7zM139.4 179.1h0.7v0.7h-0.7zM139.6 214.5h0.7v0.7h-0.7zM137.7 164.3h0.7v0.7h-0.7zM126.0 178.8h0.7v0.7h-0.7zM142.2 191.4h0.7v0.7h-0.7zM134.7 214.3h0.7v0.7h-0.7zM119.7 197.7h0.7v0.7h-0.7zM127.3 191.5h0.7v0.7h-0.7zM144.4 165.1h0.7v0.7h-0.7zM148.4 150.7h0.7v0.7h-0.7z" fill="#444" opacity="0.5" clip-path="url(#clipD2)"/>
<path d="M147 155.5 C152 154.5 156 154.5 160.3 155.5 C164 157 166 159.5 168 160.9 C170 162 173 162.8 173.4 164 C172 167 168.5 168.5 168 170.8 C168.5 173 172.5 174 172.6 176.2 C172.5 178.5 171.5 180 171 180.8 C167 182.5 163 181.5 160.3 182.3 C159 184 159.6 186 159.6 188.5 C160 192 163 194 165 197 C166 201 165 206 163 210 C160 214 155 216 150 218" fill="none" stroke="#1a1a1a" stroke-width="0.8" clip-path="url(#clipD2)"/>
<path d="M149.6 159.3 C153 160 156 161.5 157.3 164 C158.5 168 157.5 173 158.8 179.3 C159.5 183 158 187 159 190 C161 194 162 200 161 205 C159 210 155 213 150 215" fill="none" stroke="#1a1a1a" stroke-width="0.7" clip-path="url(#clipD2)"/>
<circle cx="165" cy="178" r="1.4" fill="none" stroke="#1a1a1a" stroke-width="0.7"/>
<path d="M186.4 180 C188 177 189 172 191 167 C193 163 195 160 197 159.3 C199 158 200 157.5 202 157 M189 178 C191 175 192.5 171 194 167.5 C195.5 164 197.5 162.5 202 161.5 M195.5 176.5 C197.5 174 201 173 202 172.5" fill="none" stroke="#1a1a1a" stroke-width="0.75" clip-path="url(#clipD2)"/>
<ellipse cx="201" cy="167.5" rx="2.5" ry="5" fill="#333" clip-path="url(#clipD2)"/>
<path d="M162.7 200.5 L162.4 201.6 L162.2 202.6 L161.9 203.6 L161.6 204.5 L161.2 205.4 L160.8 206.2 L160.4 206.9 L159.9 207.7 L159.5 208.3 L159.0 208.9 L158.5 209.5 L158.1 210.0 L157.6 210.5 L157.1 210.9 L156.7 211.3 L156.2 211.6 L155.7 211.9 L155.3 212.1 L154.8 212.3 L154.3 212.5 L153.8 212.6 L153.3 212.7 L152.7 212.7 L152.2 212.7 L151.7 212.7 L151.2 212.6 L150.7 212.5 L150.2 212.3 L149.7 212.0 L149.2 211.7 L148.7 211.3 L148.2 210.8 L147.8 210.3 L147.3 209.7 L146.9 209.1 L146.4 208.4 L146.0 207.7 L145.6 206.9 L145.3 206.1 L145.0 205.3 L144.7 204.4 L144.4 203.5 L144.1 202.6 L143.9 201.6 L143.7 200.5 L143.7 199.4 L143.8 198.5 L144.0 197.6 L144.1 196.7 L144.3 195.9 L144.5 195.1 L144.7 194.4 L145.0 193.6 L145.3 192.9 L145.6 192.2 L146.0 191.6 L146.4 190.9 L146.8 190.4 L147.3 189.8 L147.8 189.3 L148.4 188.9 L149.0 188.5 L149.6 188.2 L150.3 188.0 L151.0 187.8 L151.7 187.7 L152.5 187.7 L153.5 187.7 L154.2 187.9 L155.0 188.0 L155.6 188.3 L156.3 188.6 L156.9 188.9 L157.4 189.3 L158.0 189.7 L158.5 190.2 L158.9 190.7 L159.4 191.2 L159.8 191.8 L160.2 192.4 L160.6 193.0 L161.0 193.7 L161.3 194.3 L161.6 195.1 L161.9 195.8 L162.1 196.6 L162.3 197.5 L162.5 198.4 L162.6 199.4Z" fill="#666" stroke="#111" stroke-width="0.8" clip-path="url(#clipD2)"/>
<path d="M163.9 200.5 L163.6 201.7 L163.3 202.8 L163.0 203.9 L162.6 204.9 L162.2 205.8 L161.8 206.7 L161.3 207.6 L160.8 208.4 L160.3 209.1 L159.8 209.8 L159.2 210.4 L158.7 210.9 L158.2 211.4 L157.6 211.9 L157.1 212.3 L156.6 212.6 L156.1 212.9 L155.5 213.2 L155.0 213.4 L154.5 213.6 L153.9 213.8 L153.3 213.9 L152.7 213.9 L152.1 213.9 L151.5 213.9 L150.9 213.8 L150.4 213.6 L149.8 213.4 L149.3 213.1 L148.7 212.8 L148.2 212.3 L147.6 211.8 L147.1 211.3 L146.6 210.6 L146.1 209.9 L145.6 209.2 L145.2 208.4 L144.7 207.5 L144.3 206.6 L143.9 205.7 L143.6 204.8 L143.3 203.8 L143.0 202.8 L142.8 201.7 L142.5 200.5 L142.6 199.3 L142.7 198.3 L142.8 197.3 L143.0 196.4 L143.2 195.5 L143.4 194.6 L143.7 193.8 L144.0 193.0 L144.3 192.2 L144.7 191.4 L145.1 190.7 L145.6 190.0 L146.1 189.4 L146.6 188.8 L147.2 188.2 L147.8 187.8 L148.5 187.4 L149.2 187.0 L150.0 186.8 L150.8 186.6 L151.6 186.5 L152.5 186.5 L153.5 186.5 L154.4 186.7 L155.2 186.9 L156.0 187.1 L156.7 187.4 L157.3 187.8 L158.0 188.2 L158.6 188.7 L159.2 189.2 L159.7 189.8 L160.2 190.3 L160.7 191.0 L161.1 191.6 L161.6 192.3 L162.0 193.0 L162.4 193.8 L162.7 194.5 L163.0 195.4 L163.3 196.3 L163.5 197.2 L163.7 198.2 L163.8 199.3Z M165.1 200.5 L164.8 201.9 L164.5 203.0 L164.1 204.2 L163.7 205.3 L163.3 206.3 L162.8 207.3 L162.2 208.2 L161.7 209.0 L161.1 209.8 L160.5 210.6 L159.9 211.2 L159.4 211.9 L158.8 212.4 L158.2 212.9 L157.6 213.3 L157.0 213.7 L156.4 214.0 L155.8 214.3 L155.2 214.6 L154.7 214.8 L154.0 214.9 L153.4 215.0 L152.6 215.1 L151.9 215.1 L151.3 215.0 L150.7 214.9 L150.1 214.8 L149.5 214.5 L148.9 214.2 L148.2 213.8 L147.6 213.4 L147.0 212.8 L146.4 212.2 L145.9 211.5 L145.3 210.8 L144.8 209.9 L144.3 209.1 L143.8 208.1 L143.3 207.2 L142.9 206.2 L142.5 205.1 L142.2 204.1 L141.9 203.0 L141.6 201.8 L141.3 200.5 L141.4 199.2 L141.5 198.1 L141.7 197.0 L141.9 196.0 L142.1 195.0 L142.3 194.1 L142.6 193.2 L143.0 192.3 L143.3 191.5 L143.8 190.6 L144.2 189.8 L144.7 189.1 L145.3 188.4 L145.9 187.8 L146.5 187.2 L147.2 186.7 L148.0 186.2 L148.8 185.8 L149.6 185.6 L150.5 185.4 L151.4 185.3 L152.4 185.2 L153.6 185.3 L154.6 185.4 L155.4 185.7 L156.3 185.9 L157.1 186.3 L157.8 186.7 L158.5 187.2 L159.2 187.7 L159.8 188.2 L160.5 188.8 L161.0 189.5 L161.6 190.1 L162.1 190.8 L162.5 191.6 L163.0 192.3 L163.4 193.2 L163.8 194.0 L164.1 194.9 L164.4 195.9 L164.7 196.9 L164.9 198.0 L165.0 199.2Z M166.4 200.5 L166.0 202.0 L165.7 203.3 L165.3 204.5 L164.8 205.6 L164.3 206.7 L163.8 207.8 L163.2 208.8 L162.6 209.7 L161.9 210.6 L161.3 211.4 L160.6 212.1 L160.0 212.8 L159.3 213.4 L158.7 213.9 L158.0 214.4 L157.4 214.8 L156.8 215.1 L156.1 215.4 L155.5 215.7 L154.8 215.9 L154.1 216.1 L153.4 216.2 L152.6 216.3 L151.8 216.3 L151.1 216.2 L150.5 216.1 L149.8 215.9 L149.1 215.7 L148.4 215.3 L147.8 214.9 L147.1 214.4 L146.4 213.8 L145.8 213.1 L145.2 212.4 L144.5 211.6 L144.0 210.7 L143.4 209.8 L142.9 208.8 L142.4 207.7 L141.9 206.6 L141.5 205.5 L141.1 204.4 L140.8 203.2 L140.5 201.9 L140.2 200.5 L140.2 199.1 L140.4 197.9 L140.5 196.8 L140.7 195.7 L141.0 194.6 L141.3 193.6 L141.6 192.6 L142.0 191.6 L142.4 190.7 L142.8 189.8 L143.3 189.0 L143.9 188.2 L144.5 187.4 L145.2 186.7 L145.9 186.1 L146.7 185.5 L147.5 185.1 L148.4 184.7 L149.3 184.4 L150.3 184.2 L151.3 184.0 L152.4 184.0 L153.6 184.1 L154.7 184.2 L155.7 184.5 L156.6 184.8 L157.5 185.2 L158.3 185.6 L159.1 186.1 L159.8 186.6 L160.5 187.2 L161.2 187.9 L161.8 188.6 L162.4 189.3 L163.0 190.0 L163.5 190.8 L164.0 191.7 L164.5 192.6 L164.9 193.5 L165.3 194.5 L165.6 195.5 L165.9 196.6 L166.1 197.8 L166.3 199.0Z" fill="none" stroke="#1a1a1a" stroke-width="0.6" clip-path="url(#clipD2)"/>
<path d="M147 192 C151 193 153 198 152 204 M149 190 C154 192 157 198 156 206 M150 189 C156 190 160 197 159 207" fill="none" stroke="#222" stroke-width="0.6" clip-path="url(#clipD2)"/>
<path d="M155.9 167.8 L155.3 170.3 L154.8 172.0 L154.2 173.5 L153.6 174.9 L152.9 176.1 L152.1 177.2 L151.4 178.3 L150.6 179.2 L149.9 180.2 L149.1 181.0 L148.3 181.8 L147.5 182.6 L146.7 183.3 L145.8 184.0 L144.9 184.6 L143.9 185.1 L142.8 185.5 L141.7 185.8 L140.5 186.0 L139.2 186.1 L137.8 186.2 L136.2 186.2 L133.8 186.1 L132.2 186.1 L130.8 186.0 L129.5 185.8 L128.3 185.7 L127.2 185.5 L126.0 185.2 L124.9 184.9 L123.9 184.5 L122.8 184.0 L121.8 183.4 L120.9 182.6 L120.1 181.7 L119.4 180.8 L118.7 179.7 L118.2 178.5 L117.8 177.3 L117.4 176.0 L117.0 174.7 L116.7 173.3 L116.4 171.8 L116.1 170.1 L115.7 167.8 L115.8 165.4 L115.9 163.8 L116.1 162.3 L116.2 160.9 L116.5 159.6 L116.8 158.4 L117.2 157.2 L117.7 156.1 L118.3 155.1 L119.0 154.2 L119.8 153.4 L120.7 152.6 L121.6 152.0 L122.6 151.4 L123.7 150.8 L124.8 150.3 L126.0 149.9 L127.2 149.5 L128.5 149.1 L130.0 148.8 L131.6 148.6 L133.5 148.5 L136.5 148.4 L138.4 148.5 L140.1 148.7 L141.5 149.0 L142.8 149.4 L144.0 149.9 L145.1 150.5 L146.1 151.2 L147.0 151.9 L147.8 152.6 L148.6 153.4 L149.4 154.1 L150.1 154.9 L150.9 155.7 L151.6 156.6 L152.4 157.4 L153.1 158.4 L153.8 159.5 L154.4 160.7 L154.9 162.0 L155.3 163.5 L155.6 165.2Z" fill="#fff" clip-path="url(#clipD2)"/>
<path d="M151.8 167.8 L151.4 169.7 L151.0 171.1 L150.5 172.3 L150.0 173.4 L149.4 174.4 L148.8 175.3 L148.2 176.1 L147.6 176.9 L147.0 177.6 L146.4 178.3 L145.8 178.9 L145.1 179.5 L144.4 180.1 L143.7 180.6 L142.9 181.1 L142.1 181.5 L141.3 181.8 L140.4 182.0 L139.4 182.2 L138.4 182.3 L137.3 182.4 L136.0 182.4 L134.0 182.3 L132.7 182.3 L131.6 182.2 L130.6 182.1 L129.6 182.0 L128.7 181.8 L127.8 181.6 L126.9 181.4 L126.0 181.0 L125.2 180.6 L124.4 180.1 L123.7 179.5 L123.0 178.9 L122.4 178.1 L121.9 177.2 L121.5 176.3 L121.1 175.3 L120.8 174.3 L120.5 173.2 L120.3 172.1 L120.0 170.9 L119.8 169.6 L119.4 167.8 L119.5 165.9 L119.6 164.6 L119.7 163.4 L119.9 162.3 L120.1 161.3 L120.3 160.3 L120.7 159.4 L121.1 158.5 L121.6 157.7 L122.1 157.0 L122.8 156.3 L123.5 155.7 L124.2 155.2 L125.0 154.7 L125.9 154.3 L126.8 153.9 L127.7 153.6 L128.7 153.3 L129.8 153.0 L130.9 152.8 L132.2 152.6 L133.8 152.5 L136.2 152.4 L137.8 152.5 L139.1 152.6 L140.3 152.9 L141.3 153.2 L142.3 153.6 L143.1 154.1 L143.9 154.6 L144.6 155.2 L145.3 155.7 L145.9 156.3 L146.6 157.0 L147.2 157.6 L147.8 158.2 L148.4 158.9 L149.0 159.6 L149.6 160.3 L150.1 161.2 L150.6 162.1 L151.1 163.2 L151.4 164.4 L151.6 165.8Z M146.4 167.8 L146.1 169.1 L145.8 170.0 L145.5 170.7 L145.2 171.4 L144.8 172.1 L144.4 172.7 L144.0 173.2 L143.6 173.7 L143.1 174.2 L142.7 174.6 L142.3 175.0 L141.9 175.4 L141.4 175.8 L140.9 176.2 L140.4 176.5 L139.9 176.7 L139.3 176.9 L138.7 177.1 L138.0 177.2 L137.3 177.2 L136.6 177.3 L135.7 177.3 L134.3 177.3 L133.5 177.2 L132.7 177.2 L132.0 177.1 L131.4 177.0 L130.7 176.9 L130.1 176.8 L129.5 176.6 L128.9 176.4 L128.3 176.2 L127.8 175.8 L127.3 175.4 L126.8 175.0 L126.5 174.5 L126.1 173.9 L125.8 173.3 L125.6 172.7 L125.4 172.0 L125.2 171.3 L125.0 170.6 L124.8 169.8 L124.7 169.0 L124.4 167.8 L124.5 166.5 L124.6 165.7 L124.6 164.9 L124.7 164.2 L124.9 163.5 L125.0 162.9 L125.3 162.3 L125.5 161.7 L125.9 161.2 L126.3 160.7 L126.7 160.3 L127.2 159.9 L127.7 159.6 L128.2 159.3 L128.8 159.0 L129.4 158.7 L130.1 158.5 L130.7 158.3 L131.5 158.1 L132.2 158.0 L133.1 157.9 L134.2 157.8 L135.8 157.8 L136.9 157.8 L137.8 157.9 L138.6 158.0 L139.3 158.3 L139.9 158.5 L140.5 158.8 L141.1 159.2 L141.5 159.5 L142.0 159.9 L142.4 160.3 L142.9 160.7 L143.3 161.1 L143.7 161.5 L144.1 162.0 L144.5 162.4 L144.9 162.9 L145.3 163.5 L145.6 164.1 L145.9 164.8 L146.1 165.5 L146.3 166.4Z" fill="#151515" fill-rule="evenodd" clip-path="url(#clipD2)"/>
<path d="M146.4 167.8 L146.1 169.1 L145.8 170.0 L145.5 170.7 L145.2 171.4 L144.8 172.1 L144.4 172.7 L144.0 173.2 L143.6 173.7 L143.1 174.2 L142.7 174.6 L142.3 175.0 L141.9 175.4 L141.4 175.8 L140.9 176.2 L140.4 176.5 L139.9 176.7 L139.3 176.9 L138.7 177.1 L138.0 177.2 L137.3 177.2 L136.6 177.3 L135.7 177.3 L134.3 177.3 L133.5 177.2 L132.7 177.2 L132.0 177.1 L131.4 177.0 L130.7 176.9 L130.1 176.8 L129.5 176.6 L128.9 176.4 L128.3 176.2 L127.8 175.8 L127.3 175.4 L126.8 175.0 L126.5 174.5 L126.1 173.9 L125.8 173.3 L125.6 172.7 L125.4 172.0 L125.2 171.3 L125.0 170.6 L124.8 169.8 L124.7 169.0 L124.4 167.8 L124.5 166.5 L124.6 165.7 L124.6 164.9 L124.7 164.2 L124.9 163.5 L125.0 162.9 L125.3 162.3 L125.5 161.7 L125.9 161.2 L126.3 160.7 L126.7 160.3 L127.2 159.9 L127.7 159.6 L128.2 159.3 L128.8 159.0 L129.4 158.7 L130.1 158.5 L130.7 158.3 L131.5 158.1 L132.2 158.0 L133.1 157.9 L134.2 157.8 L135.8 157.8 L136.9 157.8 L137.8 157.9 L138.6 158.0 L139.3 158.3 L139.9 158.5 L140.5 158.8 L141.1 159.2 L141.5 159.5 L142.0 159.9 L142.4 160.3 L142.9 160.7 L143.3 161.1 L143.7 161.5 L144.1 162.0 L144.5 162.4 L144.9 162.9 L145.3 163.5 L145.6 164.1 L145.9 164.8 L146.1 165.5 L146.3 166.4Z" fill="#333" clip-path="url(#clipD2)"/>
<path d="M155.9 167.8 L154.9 170.8 L154.0 172.8 L153.0 174.5 L152.1 175.9 L151.2 177.3 L150.4 178.7 L149.7 180.0 L148.9 181.3 L148.1 182.6 L147.1 183.7 L146.0 184.6 L144.7 185.3 L143.3 185.8 L141.8 186.0 L140.2 186.0 L138.4 185.9 L136.4 185.8 L133.6 185.6 L131.6 185.6 L130.0 185.6 L128.4 185.6 L126.8 185.5 L125.3 185.3 L123.8 185.0 L122.4 184.3 L121.2 183.4 L120.2 182.2 L119.4 180.8 L118.8 179.2 L118.4 177.6 L118.0 175.9 L117.6 174.2 L117.1 172.5 L116.6 170.5 L115.7 167.8 L115.6 164.9 L115.5 162.8 L115.5 160.8 L115.8 159.1 L116.3 157.5 L117.1 156.1 L118.1 155.0 L119.3 154.0 L120.6 153.2 L121.9 152.5 L123.2 151.8 L124.5 151.2 L125.9 150.5 L127.3 149.7 L128.9 149.1 L130.8 148.5 L133.2 148.1 L136.8 148.0 L139.3 148.1 L141.2 148.6 L142.9 149.3 L144.3 150.2 L145.5 151.2 L146.6 152.2 L147.6 153.1 L148.6 154.0 L149.7 154.9 L150.9 155.7 L152.1 156.7 L153.2 157.7 L154.3 159.1 L155.1 160.6 L155.7 162.5 L155.9 164.6Z M154.6 167.8 L153.9 170.6 L153.2 172.6 L152.5 174.2 L151.7 175.8 L150.9 177.1 L150.1 178.4 L149.3 179.6 L148.4 180.7 L147.5 181.8 L146.4 182.7 L145.3 183.5 L144.1 184.1 L142.7 184.5 L141.3 184.8 L139.8 184.9 L138.2 184.8 L136.4 184.8 L133.6 184.7 L131.8 184.6 L130.3 184.5 L128.8 184.4 L127.4 184.2 L125.9 184.0 L124.5 183.7 L123.2 183.2 L121.9 182.4 L120.8 181.5 L119.9 180.3 L119.1 179.0 L118.5 177.5 L118.1 175.8 L117.7 174.2 L117.5 172.4 L117.2 170.4 L116.8 167.8 L117.1 165.1 L117.3 163.2 L117.5 161.6 L117.8 160.0 L118.3 158.6 L118.8 157.2 L119.4 156.0 L120.2 154.8 L121.1 153.8 L122.2 152.9 L123.3 152.1 L124.6 151.3 L126.0 150.7 L127.5 150.2 L129.1 149.8 L131.0 149.5 L133.3 149.4 L136.7 149.4 L139.0 149.6 L140.8 150.0 L142.4 150.6 L143.7 151.3 L145.0 152.0 L146.1 152.8 L147.1 153.7 L148.1 154.5 L149.1 155.4 L150.1 156.3 L151.1 157.3 L152.0 158.5 L152.8 159.7 L153.5 161.2 L154.1 162.9 L154.4 164.9Z M153.5 167.8 L153.0 170.5 L152.5 172.3 L151.8 174.0 L151.1 175.4 L150.3 176.7 L149.4 177.8 L148.4 178.9 L147.5 179.8 L146.5 180.6 L145.5 181.4 L144.4 182.1 L143.3 182.7 L142.2 183.2 L140.9 183.6 L139.6 183.9 L138.1 184.1 L136.3 184.3 L133.7 184.3 L131.9 184.3 L130.3 184.2 L128.9 184.0 L127.6 183.7 L126.3 183.3 L125.1 182.7 L124.0 182.0 L123.0 181.2 L122.1 180.2 L121.3 179.1 L120.6 177.8 L120.0 176.5 L119.5 175.1 L119.1 173.6 L118.6 172.1 L118.1 170.3 L117.5 167.8 L117.6 165.2 L117.7 163.4 L117.8 161.7 L118.1 160.2 L118.6 158.8 L119.1 157.5 L119.9 156.4 L120.8 155.4 L121.8 154.5 L123.0 153.8 L124.2 153.2 L125.4 152.7 L126.8 152.3 L128.2 151.9 L129.7 151.5 L131.4 151.2 L133.4 150.9 L136.6 150.8 L138.7 150.8 L140.5 151.0 L142.1 151.3 L143.5 151.8 L144.7 152.5 L145.8 153.2 L146.8 154.1 L147.7 155.0 L148.5 156.0 L149.3 157.0 L150.0 158.0 L150.8 159.2 L151.5 160.4 L152.1 161.7 L152.7 163.3 L153.2 165.1Z M152.2 167.8 L151.6 170.2 L151.1 172.0 L150.6 173.5 L150.1 174.9 L149.5 176.2 L148.8 177.4 L147.9 178.4 L146.9 179.2 L145.9 179.9 L144.8 180.5 L143.8 181.1 L142.8 181.7 L141.7 182.2 L140.6 182.7 L139.4 183.1 L137.9 183.2 L136.3 183.2 L133.8 183.0 L132.1 182.8 L130.8 182.6 L129.5 182.4 L128.2 182.3 L126.9 182.2 L125.6 182.0 L124.3 181.6 L123.2 180.9 L122.4 179.9 L121.7 178.7 L121.3 177.3 L120.9 176.0 L120.6 174.6 L120.1 173.2 L119.6 171.8 L119.0 170.1 L118.3 167.8 L118.4 165.3 L118.6 163.6 L119.0 162.2 L119.6 160.9 L120.1 159.7 L120.7 158.6 L121.3 157.5 L121.9 156.4 L122.6 155.4 L123.5 154.5 L124.5 153.8 L125.7 153.2 L127.0 152.8 L128.4 152.5 L129.9 152.3 L131.5 152.0 L133.5 151.8 L136.5 151.6 L138.6 151.6 L140.3 151.8 L141.7 152.2 L143.0 152.9 L144.0 153.7 L144.8 154.7 L145.6 155.6 L146.4 156.4 L147.3 157.1 L148.3 157.8 L149.3 158.6 L150.3 159.4 L151.1 160.6 L151.7 161.9 L152.1 163.4 L152.2 165.2Z M151.5 167.8 L150.9 170.1 L150.4 171.8 L149.7 173.1 L149.0 174.4 L148.3 175.5 L147.6 176.5 L146.8 177.4 L146.1 178.3 L145.3 179.2 L144.5 179.9 L143.6 180.6 L142.6 181.2 L141.5 181.7 L140.4 181.9 L139.1 182.1 L137.7 182.1 L136.2 181.9 L133.9 181.8 L132.4 181.6 L131.1 181.4 L129.9 181.2 L128.8 181.1 L127.6 180.9 L126.4 180.6 L125.3 180.3 L124.2 179.8 L123.1 179.1 L122.3 178.2 L121.5 177.1 L121.0 175.9 L120.6 174.5 L120.4 173.1 L120.2 171.6 L120.1 170.0 L119.8 167.8 L120.1 165.6 L120.4 164.1 L120.6 162.7 L120.8 161.5 L121.1 160.3 L121.5 159.1 L122.0 158.0 L122.6 157.1 L123.3 156.2 L124.2 155.4 L125.2 154.8 L126.3 154.2 L127.5 153.8 L128.7 153.4 L130.1 153.1 L131.7 152.9 L133.6 152.7 L136.4 152.7 L138.3 152.8 L139.9 153.1 L141.2 153.5 L142.4 154.0 L143.4 154.6 L144.4 155.3 L145.2 156.1 L146.0 156.9 L146.7 157.6 L147.5 158.4 L148.2 159.3 L149.0 160.2 L149.7 161.2 L150.3 162.4 L150.8 163.8 L151.2 165.4Z M150.4 167.8 L149.9 170.0 L149.5 171.5 L148.9 172.8 L148.2 173.9 L147.5 174.9 L146.7 175.9 L146.0 176.7 L145.2 177.4 L144.4 178.2 L143.7 178.8 L142.8 179.5 L141.9 180.0 L141.0 180.5 L140.0 180.8 L138.8 181.1 L137.6 181.2 L136.1 181.2 L133.9 181.1 L132.4 181.0 L131.2 180.8 L130.1 180.6 L129.0 180.4 L128.0 180.1 L127.0 179.7 L126.0 179.3 L125.1 178.7 L124.2 178.0 L123.5 177.1 L122.8 176.2 L122.3 175.1 L121.9 173.9 L121.6 172.6 L121.3 171.3 L121.0 169.8 L120.7 167.8 L120.9 165.7 L121.0 164.3 L121.2 163.0 L121.4 161.8 L121.7 160.6 L122.1 159.6 L122.7 158.6 L123.3 157.7 L124.1 157.0 L125.0 156.3 L125.9 155.8 L127.0 155.3 L128.1 155.0 L129.3 154.6 L130.5 154.4 L132.0 154.2 L133.7 154.0 L136.3 154.0 L138.1 154.0 L139.5 154.2 L140.8 154.5 L142.0 154.9 L143.0 155.4 L143.9 156.1 L144.7 156.8 L145.4 157.5 L146.1 158.3 L146.7 159.1 L147.4 159.9 L148.0 160.8 L148.7 161.7 L149.2 162.8 L149.7 164.1 L150.1 165.6Z M149.4 167.8 L148.8 169.8 L148.3 171.2 L147.6 172.3 L147.0 173.3 L146.4 174.3 L145.7 175.1 L145.1 175.9 L144.5 176.7 L143.8 177.4 L143.1 178.1 L142.4 178.7 L141.5 179.2 L140.6 179.5 L139.6 179.8 L138.5 179.9 L137.4 180.0 L136.0 180.0 L134.0 179.9 L132.6 179.9 L131.5 179.8 L130.4 179.7 L129.4 179.6 L128.4 179.4 L127.4 179.0 L126.5 178.6 L125.6 178.0 L124.9 177.3 L124.3 176.4 L123.8 175.5 L123.3 174.4 L123.0 173.3 L122.7 172.2 L122.5 171.0 L122.2 169.6 L121.8 167.8 L121.9 165.9 L122.0 164.5 L122.1 163.3 L122.3 162.2 L122.6 161.2 L123.0 160.2 L123.6 159.3 L124.2 158.6 L124.9 157.9 L125.7 157.3 L126.6 156.7 L127.5 156.2 L128.5 155.8 L129.6 155.4 L130.8 155.1 L132.1 154.9 L133.8 154.8 L136.2 154.9 L137.9 155.0 L139.2 155.3 L140.3 155.7 L141.3 156.2 L142.2 156.8 L143.0 157.3 L143.7 157.9 L144.5 158.5 L145.2 159.1 L146.0 159.7 L146.7 160.4 L147.5 161.1 L148.1 162.0 L148.7 163.1 L149.1 164.3 L149.3 165.7Z M148.2 167.8 L147.8 169.6 L147.4 170.9 L146.9 172.0 L146.3 173.0 L145.7 173.8 L145.0 174.6 L144.4 175.3 L143.8 176.0 L143.2 176.7 L142.6 177.3 L141.9 177.9 L141.1 178.4 L140.2 178.7 L139.3 178.8 L138.2 178.8 L137.2 178.8 L135.9 178.7 L134.1 178.6 L132.9 178.6 L131.8 178.6 L130.8 178.6 L129.8 178.6 L128.8 178.5 L127.9 178.2 L127.0 177.8 L126.3 177.2 L125.7 176.5 L125.1 175.7 L124.6 174.8 L124.2 173.9 L123.8 172.9 L123.5 171.9 L123.2 170.7 L123.0 169.5 L122.7 167.8 L122.9 166.0 L123.0 164.8 L123.2 163.7 L123.4 162.7 L123.6 161.7 L123.9 160.8 L124.4 160.0 L125.0 159.3 L125.7 158.7 L126.5 158.3 L127.4 157.9 L128.3 157.5 L129.2 157.1 L130.1 156.7 L131.1 156.3 L132.3 155.9 L133.8 155.7 L136.2 155.6 L137.7 155.7 L139.0 156.0 L140.0 156.5 L140.9 157.1 L141.6 157.6 L142.3 158.2 L143.0 158.8 L143.7 159.3 L144.4 159.8 L145.1 160.4 L145.7 161.1 L146.3 161.8 L146.8 162.6 L147.3 163.6 L147.7 164.6 L148.0 165.9Z M147.0 167.8 L146.6 169.4 L146.3 170.6 L145.8 171.6 L145.4 172.5 L144.8 173.3 L144.3 174.0 L143.7 174.7 L143.2 175.3 L142.6 175.9 L141.9 176.4 L141.3 176.9 L140.5 177.2 L139.7 177.5 L138.9 177.7 L138.0 177.9 L137.0 177.9 L135.9 177.9 L134.1 177.8 L133.0 177.8 L132.1 177.7 L131.2 177.6 L130.3 177.5 L129.4 177.3 L128.6 177.1 L127.8 176.7 L127.1 176.3 L126.4 175.7 L125.8 175.0 L125.3 174.3 L125.0 173.4 L124.7 172.5 L124.5 171.5 L124.3 170.5 L124.1 169.3 L123.8 167.8 L124.0 166.2 L124.1 165.1 L124.2 164.1 L124.3 163.2 L124.5 162.3 L124.9 161.5 L125.3 160.7 L125.8 160.0 L126.4 159.5 L127.1 159.0 L127.8 158.5 L128.7 158.2 L129.5 157.9 L130.5 157.6 L131.5 157.4 L132.6 157.3 L134.0 157.2 L136.0 157.1 L137.4 157.2 L138.6 157.3 L139.6 157.6 L140.5 157.9 L141.3 158.3 L142.0 158.8 L142.6 159.3 L143.2 159.9 L143.7 160.4 L144.3 161.0 L144.8 161.7 L145.3 162.4 L145.8 163.1 L146.2 164.0 L146.6 164.9 L146.8 166.1Z" fill="none" stroke="#111" stroke-width="0.75" clip-path="url(#clipD2)"/>
<path d="M146.1 167.8 L145.8 169.3 L145.4 170.3 L144.9 171.2 L144.5 172.0 L143.9 172.7 L143.4 173.4 L142.9 174.0 L142.4 174.5 L141.9 175.1 L141.3 175.6 L140.7 176.0 L140.1 176.3 L139.3 176.6 L138.6 176.8 L137.7 176.8 L136.8 176.8 L135.8 176.8 L134.2 176.7 L133.2 176.6 L132.4 176.6 L131.5 176.5 L130.7 176.4 L129.9 176.3 L129.2 176.2 L128.4 175.9 L127.7 175.5 L127.1 175.0 L126.5 174.4 L126.1 173.7 L125.8 172.9 L125.6 172.0 L125.4 171.1 L125.3 170.2 L125.1 169.2 L124.8 167.8 L124.9 166.3 L125.0 165.3 L125.1 164.4 L125.3 163.6 L125.5 162.8 L125.8 162.1 L126.2 161.5 L126.7 160.9 L127.3 160.4 L127.9 160.0 L128.6 159.6 L129.3 159.3 L130.1 159.0 L130.9 158.7 L131.8 158.4 L132.8 158.2 L134.0 158.0 L136.0 157.9 L137.3 158.0 L138.3 158.1 L139.2 158.4 L140.0 158.8 L140.7 159.3 L141.3 159.8 L141.8 160.3 L142.2 160.9 L142.7 161.4 L143.2 161.9 L143.7 162.4 L144.3 163.0 L144.8 163.6 L145.3 164.3 L145.7 165.2 L145.9 166.2Z M144.9 167.8 L144.6 169.1 L144.2 170.0 L143.9 170.8 L143.5 171.5 L143.1 172.2 L142.7 172.8 L142.3 173.4 L141.8 173.9 L141.3 174.3 L140.7 174.7 L140.1 175.0 L139.5 175.2 L138.8 175.4 L138.1 175.6 L137.4 175.7 L136.6 175.8 L135.7 175.8 L134.3 175.8 L133.4 175.8 L132.6 175.8 L131.8 175.7 L131.1 175.5 L130.4 175.4 L129.8 175.2 L129.1 174.9 L128.5 174.5 L127.9 174.1 L127.4 173.6 L127.0 173.0 L126.7 172.3 L126.4 171.6 L126.2 170.8 L126.1 169.9 L126.0 169.0 L125.9 167.8 L126.0 166.5 L126.1 165.6 L126.2 164.8 L126.3 164.1 L126.4 163.4 L126.7 162.7 L127.0 162.1 L127.5 161.6 L128.0 161.2 L128.6 160.8 L129.2 160.5 L129.9 160.3 L130.6 160.0 L131.3 159.7 L132.1 159.5 L133.0 159.2 L134.1 159.1 L135.9 159.0 L137.1 159.0 L138.0 159.2 L138.8 159.5 L139.5 159.9 L140.1 160.3 L140.6 160.8 L141.0 161.3 L141.5 161.7 L142.0 162.1 L142.5 162.5 L143.0 162.9 L143.5 163.4 L144.0 164.0 L144.3 164.7 L144.6 165.5 L144.8 166.4Z M143.6 167.8 L143.3 168.9 L143.1 169.7 L142.9 170.4 L142.6 171.1 L142.3 171.7 L141.9 172.2 L141.5 172.7 L141.0 173.1 L140.5 173.4 L140.0 173.7 L139.5 174.0 L139.0 174.3 L138.4 174.5 L137.9 174.7 L137.2 174.9 L136.5 174.9 L135.6 174.9 L134.4 174.9 L133.5 174.8 L132.9 174.7 L132.2 174.6 L131.6 174.5 L130.9 174.4 L130.3 174.3 L129.7 174.0 L129.2 173.7 L128.8 173.3 L128.4 172.7 L128.1 172.2 L127.8 171.6 L127.6 171.0 L127.3 170.3 L127.1 169.7 L126.8 168.9 L126.5 167.8 L126.6 166.6 L126.7 165.8 L127.0 165.2 L127.2 164.5 L127.5 164.0 L127.8 163.5 L128.1 163.0 L128.4 162.5 L128.8 162.0 L129.2 161.6 L129.8 161.3 L130.4 161.1 L131.0 160.9 L131.7 160.7 L132.4 160.6 L133.3 160.5 L134.2 160.4 L135.8 160.3 L136.8 160.3 L137.6 160.4 L138.4 160.6 L139.0 160.8 L139.6 161.2 L140.0 161.6 L140.5 162.0 L140.9 162.3 L141.3 162.7 L141.8 163.0 L142.3 163.5 L142.7 163.9 L143.0 164.5 L143.3 165.1 L143.4 165.8 L143.5 166.6Z M142.8 167.8 L142.4 168.8 L142.1 169.4 L141.8 170.0 L141.5 170.5 L141.1 171.0 L140.8 171.4 L140.5 171.9 L140.2 172.3 L139.9 172.6 L139.5 173.0 L139.0 173.3 L138.6 173.5 L138.0 173.6 L137.5 173.7 L136.9 173.7 L136.3 173.7 L135.5 173.7 L134.5 173.7 L133.7 173.8 L133.1 173.8 L132.5 173.8 L131.9 173.8 L131.3 173.7 L130.8 173.5 L130.3 173.3 L129.9 172.9 L129.5 172.5 L129.2 172.0 L129.0 171.5 L128.8 171.0 L128.7 170.4 L128.5 169.9 L128.3 169.3 L128.1 168.7 L127.8 167.8 L127.8 166.8 L127.8 166.1 L127.8 165.5 L127.9 164.9 L128.1 164.4 L128.4 163.9 L128.8 163.6 L129.2 163.2 L129.6 162.9 L130.1 162.6 L130.5 162.4 L131.0 162.1 L131.5 161.9 L132.1 161.6 L132.7 161.4 L133.4 161.3 L134.3 161.2 L135.7 161.2 L136.6 161.3 L137.3 161.5 L137.9 161.8 L138.4 162.0 L138.8 162.3 L139.3 162.6 L139.7 162.9 L140.1 163.2 L140.5 163.4 L141.0 163.7 L141.4 164.0 L141.8 164.4 L142.2 164.9 L142.5 165.4 L142.7 166.0 L142.8 166.7Z" fill="none" stroke="#777" stroke-width="0.5" clip-path="url(#clipD2)"/>
<ellipse cx="133.8" cy="167.8" rx="1.6" ry="2.2" transform="rotate(20 133.8 167.8)" fill="#fff" clip-path="url(#clipD2)"/>
<ellipse cx="138" cy="172" rx="0.8" ry="1.6" transform="rotate(-30 138 172)" fill="#fff" clip-path="url(#clipD2)"/>
<ellipse cx="131" cy="175" rx="0.8" ry="1.2" transform="rotate(0 131 175)" fill="#ddd" clip-path="url(#clipD2)"/>
<ellipse cx="129" cy="161" rx="0.7" ry="1.0" transform="rotate(0 129 161)" fill="#fff" clip-path="url(#clipD2)"/>
<path d="M151.0 205.7 L150.8 208.3 L150.5 210.1 L150.3 211.6 L149.9 213.0 L149.5 214.2 L149.1 215.4 L148.5 216.4 L148.0 217.4 L147.4 218.3 L146.7 219.1 L146.1 219.8 L145.3 220.5 L144.6 221.1 L143.8 221.7 L142.9 222.2 L142.0 222.6 L141.1 223.0 L140.1 223.4 L139.0 223.6 L137.9 223.9 L136.5 224.0 L134.9 224.1 L132.4 224.1 L130.7 224.1 L129.4 224.0 L128.2 223.8 L127.1 223.5 L126.1 223.2 L125.2 222.8 L124.3 222.3 L123.5 221.8 L122.7 221.1 L122.0 220.4 L121.4 219.7 L120.8 218.9 L120.2 218.0 L119.7 217.1 L119.2 216.1 L118.8 215.0 L118.4 213.9 L118.1 212.7 L117.8 211.4 L117.5 209.9 L117.2 208.2 L117.0 205.7 L116.9 203.1 L116.9 201.4 L117.0 199.9 L117.1 198.5 L117.3 197.2 L117.6 196.0 L117.9 194.9 L118.3 193.8 L118.8 192.8 L119.3 191.9 L120.0 191.1 L120.7 190.3 L121.5 189.7 L122.3 189.1 L123.3 188.6 L124.3 188.2 L125.3 187.9 L126.5 187.6 L127.7 187.5 L129.0 187.4 L130.5 187.4 L132.3 187.4 L135.0 187.6 L136.7 187.7 L138.1 188.0 L139.3 188.2 L140.4 188.5 L141.5 188.9 L142.4 189.3 L143.3 189.7 L144.2 190.2 L145.0 190.7 L145.8 191.3 L146.5 191.9 L147.2 192.6 L147.9 193.4 L148.5 194.2 L149.0 195.1 L149.5 196.1 L149.9 197.3 L150.3 198.5 L150.6 199.8 L150.8 201.3 L150.9 203.1Z" fill="#161616" stroke="#111" stroke-width="0.8" clip-path="url(#clipD2)"/>
<ellipse cx="141" cy="197" rx="4" ry="3" fill="#444" opacity="0.6" clip-path="url(#clipD2)"/>
<ellipse cx="130.6" cy="208.5" rx="1.5" ry="1.9" transform="rotate(0 130.6 208.5)" fill="#fff" opacity="0.9" clip-path="url(#clipD2)"/>
<ellipse cx="141" cy="198" rx="0.8" ry="1.5" transform="rotate(30 141 198)" fill="#fff" opacity="0.9" clip-path="url(#clipD2)"/>
<ellipse cx="146" cy="193" rx="0.7" ry="1.4" transform="rotate(40 146 193)" fill="#fff" opacity="0.9" clip-path="url(#clipD2)"/>
<path d="M124 200 C127 196 133 195 137 198 M123 205 C126 201 133 200 138 203 M125 214 C129 217 135 217 140 213 M136 192 C139 195 143 199 142 204" fill="none" stroke="#6a6a6a" stroke-width="0.6" clip-path="url(#clipD2)"/>
<path d="M152.2 205.7 L152.0 208.5 L151.7 210.4 L151.4 212.0 L151.1 213.5 L150.6 214.8 L150.1 216.0 L149.6 217.1 L149.0 218.2 L148.4 219.1 L147.7 220.0 L146.9 220.7 L146.2 221.5 L145.3 222.1 L144.5 222.7 L143.6 223.3 L142.6 223.7 L141.6 224.2 L140.6 224.5 L139.4 224.8 L138.2 225.0 L136.8 225.2 L135.0 225.3 L132.3 225.3 L130.5 225.3 L129.1 225.2 L127.8 225.0 L126.7 224.7 L125.6 224.3 L124.6 223.9 L123.6 223.4 L122.8 222.8 L121.9 222.1 L121.2 221.4 L120.5 220.6 L119.9 219.7 L119.3 218.8 L118.7 217.8 L118.2 216.8 L117.8 215.6 L117.4 214.4 L117.0 213.1 L116.6 211.7 L116.3 210.2 L116.1 208.4 L115.8 205.7 L115.7 203.0 L115.7 201.1 L115.8 199.5 L116.0 198.0 L116.2 196.7 L116.4 195.4 L116.8 194.2 L117.2 193.0 L117.7 192.0 L118.3 191.0 L119.0 190.1 L119.8 189.3 L120.6 188.6 L121.5 188.0 L122.5 187.5 L123.6 187.0 L124.8 186.7 L126.0 186.5 L127.3 186.3 L128.7 186.2 L130.3 186.2 L132.2 186.3 L135.1 186.4 L137.0 186.6 L138.4 186.8 L139.7 187.1 L140.9 187.4 L142.0 187.8 L143.1 188.2 L144.0 188.7 L145.0 189.2 L145.8 189.7 L146.7 190.4 L147.4 191.0 L148.2 191.8 L148.9 192.6 L149.5 193.5 L150.1 194.5 L150.6 195.5 L151.1 196.7 L151.5 198.0 L151.8 199.4 L152.0 201.0 L152.2 202.9Z M153.4 205.7 L153.2 208.7 L152.9 210.7 L152.6 212.4 L152.2 213.9 L151.8 215.4 L151.2 216.6 L150.7 217.8 L150.0 218.9 L149.3 219.9 L148.6 220.8 L147.8 221.7 L147.0 222.4 L146.1 223.1 L145.2 223.8 L144.3 224.3 L143.2 224.8 L142.2 225.3 L141.0 225.7 L139.8 226.0 L138.5 226.2 L137.0 226.4 L135.1 226.5 L132.2 226.5 L130.3 226.5 L128.8 226.4 L127.4 226.2 L126.2 225.9 L125.0 225.5 L124.0 225.0 L123.0 224.5 L122.0 223.8 L121.2 223.1 L120.4 222.4 L119.6 221.5 L118.9 220.6 L118.3 219.6 L117.7 218.5 L117.2 217.4 L116.7 216.2 L116.3 215.0 L115.9 213.6 L115.5 212.1 L115.2 210.5 L114.9 208.6 L114.6 205.7 L114.5 202.8 L114.6 200.9 L114.6 199.1 L114.8 197.6 L115.0 196.1 L115.3 194.8 L115.7 193.5 L116.1 192.3 L116.7 191.2 L117.3 190.1 L118.0 189.2 L118.8 188.3 L119.7 187.6 L120.7 186.9 L121.8 186.4 L122.9 185.9 L124.2 185.5 L125.5 185.3 L126.9 185.1 L128.4 185.0 L130.1 185.0 L132.1 185.1 L135.2 185.2 L137.2 185.4 L138.8 185.7 L140.1 186.0 L141.4 186.3 L142.6 186.7 L143.7 187.2 L144.7 187.6 L145.7 188.2 L146.6 188.8 L147.5 189.4 L148.4 190.1 L149.1 190.9 L149.9 191.8 L150.6 192.7 L151.2 193.8 L151.7 194.9 L152.2 196.2 L152.6 197.5 L153.0 199.0 L153.2 200.7 L153.4 202.7Z" fill="none" stroke="#1a1a1a" stroke-width="0.7" clip-path="url(#clipD2)"/>
<line x1="147.60" y1="144.30" x2="147.60" y2="228.80" stroke="#111" stroke-width="1.0"/>
<line x1="116.10" y1="187.10" x2="200.80" y2="187.10" stroke="#111" stroke-width="1.0"/>
<rect x="116.1" y="144.3" width="84.70000000000002" height="84.5" fill="none" stroke="#111" stroke-width="1.0"/>
<g transform="translate(117.10 153.20) scale(0.9638 1)"><text class="m" data-k="652bf9901d" font-size="8.9" text-anchor="start" >26.2</text></g>
<g transform="translate(198.00 153.40) scale(1.0151 1)"><text class="m" data-k="4fa7628ce2" font-size="8.9" text-anchor="end" >9.54</text></g>
<g transform="translate(198.60 223.90) scale(0.9403 1)"><text class="m" data-k="741ab24eb8" font-size="9.2" text-anchor="end" >11.9</text></g>
<g transform="translate(159.70 141.20) scale(0.9002 1)"><text class="m" data-k="abe9eeb575" font-size="9.6" text-anchor="middle" >Non-GVHD</text></g>
<line x1="114.60" y1="151.00" x2="116.10" y2="151.00" stroke="#111" stroke-width="0.5"/>
<g transform="translate(114.10 152.40)"><text class="m" data-k="619d49a557" font-size="4.0" text-anchor="end" font-weight="bold" >10<tspan dy="-1.3" font-size="2.7">5</tspan></text></g>
<line x1="114.60" y1="171.40" x2="116.10" y2="171.40" stroke="#111" stroke-width="0.5"/>
<g transform="translate(114.10 172.80)"><text class="m" data-k="aee35fed06" font-size="4.0" text-anchor="end" font-weight="bold" >10<tspan dy="-1.3" font-size="2.7">4</tspan></text></g>
<line x1="114.60" y1="192.40" x2="116.10" y2="192.40" stroke="#111" stroke-width="0.5"/>
<g transform="translate(114.10 193.80)"><text class="m" data-k="83d68e96ac" font-size="4.0" text-anchor="end" font-weight="bold" >10<tspan dy="-1.3" font-size="2.7">3</tspan></text></g>
<line x1="114.60" y1="209.50" x2="116.10" y2="209.50" stroke="#111" stroke-width="0.5"/>
<g transform="translate(114.10 210.90)"><text class="m" data-k="12c0fdcf93" font-size="4.0" text-anchor="end" font-weight="bold" >0</text></g>
<line x1="126.60" y1="228.80" x2="126.60" y2="230.30" stroke="#111" stroke-width="0.5"/>
<g transform="translate(126.60 236.80)"><text class="m" data-k="12c0fdcf93" font-size="4.0" text-anchor="middle" font-weight="bold" >0</text></g>
<line x1="134.60" y1="228.80" x2="134.60" y2="230.30" stroke="#111" stroke-width="0.5"/>
<g transform="translate(134.60 236.80)"><text class="m" data-k="5b9edbbd85" font-size="4.0" text-anchor="middle" font-weight="bold" >10<tspan dy="-1.3" font-size="2.7">2</tspan></text></g>
<line x1="153.10" y1="228.80" x2="153.10" y2="230.30" stroke="#111" stroke-width="0.5"/>
<g transform="translate(153.10 236.80)"><text class="m" data-k="83d68e96ac" font-size="4.0" text-anchor="middle" font-weight="bold" >10<tspan dy="-1.3" font-size="2.7">3</tspan></text></g>
<line x1="174.60" y1="228.80" x2="174.60" y2="230.30" stroke="#111" stroke-width="0.5"/>
<g transform="translate(174.60 236.80)"><text class="m" data-k="aee35fed06" font-size="4.0" text-anchor="middle" font-weight="bold" >10<tspan dy="-1.3" font-size="2.7">4</tspan></text></g>
<line x1="193.40" y1="228.80" x2="193.40" y2="230.30" stroke="#111" stroke-width="0.5"/>
<g transform="translate(193.40 236.80)"><text class="m" data-k="619d49a557" font-size="4.0" text-anchor="middle" font-weight="bold" >10<tspan dy="-1.3" font-size="2.7">5</tspan></text></g>
<clipPath id="clipD3"><rect x="216.5" y="144.3" width="84.89999999999998" height="84.5"/></clipPath>
<path d="M248.6 150.5h0.8v0.8h-0.8zM268.4 173.4h0.8v0.8h-0.8zM255.2 150.5h0.8v0.8h-0.8zM260.1 176.3h0.8v0.8h-0.8zM255.7 175.6h0.8v0.8h-0.8zM282.4 151.5h0.8v0.8h-0.8zM275.9 163.9h0.8v0.8h-0.8zM269.5 185.9h0.8v0.8h-0.8zM252.8 146.8h0.8v0.8h-0.8zM296.9 162.1h0.8v0.8h-0.8zM258.3 159.2h0.8v0.8h-0.8zM267.0 184.2h0.8v0.8h-0.8zM258.9 154.7h0.8v0.8h-0.8zM278.4 167.9h0.8v0.8h-0.8zM297.6 179.5h0.8v0.8h-0.8zM266.5 154.2h0.8v0.8h-0.8zM291.5 185.6h0.8v0.8h-0.8zM249.6 175.4h0.8v0.8h-0.8zM293.2 172.0h0.8v0.8h-0.8zM259.4 177.9h0.8v0.8h-0.8zM286.0 153.8h0.8v0.8h-0.8zM281.3 154.8h0.8v0.8h-0.8zM250.2 159.4h0.8v0.8h-0.8zM265.4 161.8h0.8v0.8h-0.8zM281.6 179.4h0.8v0.8h-0.8zM298.0 185.1h0.8v0.8h-0.8zM299.7 177.6h0.8v0.8h-0.8zM263.9 153.1h0.8v0.8h-0.8zM280.4 167.8h0.8v0.8h-0.8zM283.1 149.7h0.8v0.8h-0.8zM258.0 182.8h0.8v0.8h-0.8zM279.3 173.8h0.8v0.8h-0.8zM253.0 162.0h0.8v0.8h-0.8zM295.3 172.0h0.8v0.8h-0.8zM299.6 153.9h0.8v0.8h-0.8zM271.6 178.0h0.8v0.8h-0.8zM271.1 177.6h0.8v0.8h-0.8zM277.2 150.7h0.8v0.8h-0.8zM253.1 185.3h0.8v0.8h-0.8zM254.2 153.8h0.8v0.8h-0.8zM265.4 174.5h0.8v0.8h-0.8zM292.4 165.0h0.8v0.8h-0.8zM273.9 177.5h0.8v0.8h-0.8zM262.5 160.9h0.8v0.8h-0.8zM279.9 171.4h0.8v0.8h-0.8zM250.0 150.5h0.8v0.8h-0.8zM255.2 175.0h0.8v0.8h-0.8zM284.0 184.9h0.8v0.8h-0.8zM287.9 156.2h0.8v0.8h-0.8zM287.8 185.4h0.8v0.8h-0.8zM266.1 146.4h0.8v0.8h-0.8zM267.5 157.3h0.8v0.8h-0.8zM257.2 147.8h0.8v0.8h-0.8zM254.5 180.6h0.8v0.8h-0.8zM250.6 170.6h0.8v0.8h-0.8zM258.7 153.7h0.8v0.8h-0.8zM290.7 157.9h0.8v0.8h-0.8zM257.6 164.2h0.8v0.8h-0.8zM284.1 167.0h0.8v0.8h-0.8zM292.7 162.1h0.8v0.8h-0.8zM275.3 174.7h0.8v0.8h-0.8zM272.0 174.7h0.8v0.8h-0.8zM272.3 151.3h0.8v0.8h-0.8zM254.4 177.3h0.8v0.8h-0.8zM286.7 183.7h0.8v0.8h-0.8zM283.9 169.2h0.8v0.8h-0.8zM256.6 180.1h0.8v0.8h-0.8zM254.2 163.0h0.8v0.8h-0.8zM255.3 161.2h0.8v0.8h-0.8zM264.0 163.0h0.8v0.8h-0.8zM285.0 167.7h0.8v0.8h-0.8zM260.6 177.2h0.8v0.8h-0.8zM286.2 179.1h0.8v0.8h-0.8zM249.7 170.6h0.8v0.8h-0.8zM294.6 156.4h0.8v0.8h-0.8zM258.5 178.6h0.8v0.8h-0.8zM266.9 162.1h0.8v0.8h-0.8zM290.5 161.4h0.8v0.8h-0.8zM258.3 154.6h0.8v0.8h-0.8zM266.0 173.9h0.8v0.8h-0.8z" fill="#444" opacity="0.6" clip-path="url(#clipD3)"/>
<path d="M252.0 196.0h0.8v0.8h-0.8zM263.8 224.8h0.8v0.8h-0.8zM273.8 217.3h0.8v0.8h-0.8zM253.2 208.4h0.8v0.8h-0.8zM291.8 209.0h0.8v0.8h-0.8zM297.1 224.0h0.8v0.8h-0.8zM267.3 187.0h0.8v0.8h-0.8zM287.3 192.3h0.8v0.8h-0.8zM248.5 217.7h0.8v0.8h-0.8zM291.8 222.1h0.8v0.8h-0.8zM297.6 195.5h0.8v0.8h-0.8zM252.2 192.1h0.8v0.8h-0.8zM298.8 191.7h0.8v0.8h-0.8zM256.3 187.8h0.8v0.8h-0.8zM250.6 188.6h0.8v0.8h-0.8zM266.4 193.9h0.8v0.8h-0.8zM264.1 226.0h0.8v0.8h-0.8zM256.7 221.2h0.8v0.8h-0.8zM286.4 210.9h0.8v0.8h-0.8zM277.9 219.3h0.8v0.8h-0.8zM278.5 196.6h0.8v0.8h-0.8zM265.1 197.2h0.8v0.8h-0.8zM268.8 228.5h0.8v0.8h-0.8zM270.2 189.9h0.8v0.8h-0.8zM272.8 221.1h0.8v0.8h-0.8zM271.2 216.5h0.8v0.8h-0.8zM252.7 189.6h0.8v0.8h-0.8zM282.4 189.0h0.8v0.8h-0.8zM263.7 203.2h0.8v0.8h-0.8zM258.1 188.5h0.8v0.8h-0.8zM248.4 227.0h0.8v0.8h-0.8zM283.8 227.0h0.8v0.8h-0.8zM273.6 227.1h0.8v0.8h-0.8zM292.9 213.0h0.8v0.8h-0.8zM275.3 208.4h0.8v0.8h-0.8zM259.7 202.8h0.8v0.8h-0.8zM285.6 195.2h0.8v0.8h-0.8zM292.2 208.4h0.8v0.8h-0.8zM279.4 221.5h0.8v0.8h-0.8zM281.6 192.8h0.8v0.8h-0.8zM260.9 187.0h0.8v0.8h-0.8zM249.4 227.0h0.8v0.8h-0.8zM278.8 227.7h0.8v0.8h-0.8zM288.6 200.3h0.8v0.8h-0.8zM298.3 225.7h0.8v0.8h-0.8zM271.7 190.5h0.8v0.8h-0.8zM264.6 194.0h0.8v0.8h-0.8zM267.0 190.5h0.8v0.8h-0.8zM285.1 228.1h0.8v0.8h-0.8zM259.0 219.8h0.8v0.8h-0.8zM278.4 207.3h0.8v0.8h-0.8zM295.2 202.8h0.8v0.8h-0.8zM290.7 188.5h0.8v0.8h-0.8zM298.2 194.7h0.8v0.8h-0.8zM248.2 224.0h0.8v0.8h-0.8zM285.5 215.3h0.8v0.8h-0.8zM287.8 202.8h0.8v0.8h-0.8zM253.9 200.4h0.8v0.8h-0.8zM297.6 228.2h0.8v0.8h-0.8zM260.0 205.6h0.8v0.8h-0.8z" fill="#444" opacity="0.5" clip-path="url(#clipD3)"/>
<path d="M234.3 197.7h0.7v0.7h-0.7zM242.1 167.6h0.7v0.7h-0.7zM236.9 219.7h0.7v0.7h-0.7zM245.1 159.9h0.7v0.7h-0.7zM236.9 196.5h0.7v0.7h-0.7zM232.1 226.1h0.7v0.7h-0.7zM232.9 181.8h0.7v0.7h-0.7zM246.2 198.0h0.7v0.7h-0.7zM225.6 170.3h0.7v0.7h-0.7zM231.9 148.5h0.7v0.7h-0.7zM235.4 206.5h0.7v0.7h-0.7zM229.6 216.0h0.7v0.7h-0.7zM245.7 191.2h0.7v0.7h-0.7zM237.8 154.0h0.7v0.7h-0.7zM217.8 227.3h0.7v0.7h-0.7zM225.1 162.1h0.7v0.7h-0.7zM244.7 207.7h0.7v0.7h-0.7zM219.9 171.3h0.7v0.7h-0.7zM223.8 167.2h0.7v0.7h-0.7zM216.2 188.6h0.7v0.7h-0.7z" fill="#444" opacity="0.5" clip-path="url(#clipD3)"/>
<path d="M227 180 C228 184 226 187 225 190 M230 181 C231 184 229 187 228.5 190 M244 180 C246 183 250 184 252 188 M247 178 C249 182 253 183 255 188 M241 181 C242 184 246 186 247 189" fill="none" stroke="#222" stroke-width="0.7" clip-path="url(#clipD3)"/>
<path d="M254.2 166.9 L253.6 168.9 L253.1 170.4 L252.6 171.8 L252.0 173.0 L251.3 174.2 L250.6 175.2 L249.9 176.1 L249.1 176.9 L248.3 177.7 L247.5 178.4 L246.7 179.0 L246.0 179.5 L245.2 180.0 L244.4 180.5 L243.7 180.9 L243.0 181.3 L242.2 181.7 L241.5 182.1 L240.7 182.4 L239.9 182.8 L239.0 183.1 L237.9 183.3 L236.3 183.5 L235.2 183.6 L234.2 183.7 L233.2 183.6 L232.3 183.4 L231.5 183.1 L230.6 182.8 L229.8 182.3 L229.1 181.7 L228.4 181.0 L227.7 180.2 L227.1 179.4 L226.5 178.6 L225.9 177.6 L225.4 176.7 L224.9 175.7 L224.3 174.7 L223.8 173.7 L223.3 172.6 L222.8 171.4 L222.3 170.2 L221.7 168.8 L221.0 166.9 L221.1 165.0 L221.2 163.5 L221.4 162.2 L221.6 161.0 L221.9 159.9 L222.2 158.8 L222.7 157.8 L223.1 156.8 L223.7 155.9 L224.3 155.1 L225.0 154.4 L225.7 153.7 L226.5 153.1 L227.3 152.5 L228.2 152.0 L229.1 151.6 L230.1 151.2 L231.1 150.9 L232.2 150.7 L233.3 150.5 L234.6 150.4 L236.1 150.3 L238.1 150.3 L239.6 150.4 L240.9 150.6 L242.0 150.8 L243.0 151.1 L244.0 151.5 L244.9 151.9 L245.8 152.4 L246.6 153.0 L247.3 153.6 L248.0 154.2 L248.7 154.9 L249.3 155.6 L250.0 156.4 L250.5 157.2 L251.1 158.1 L251.7 159.0 L252.2 159.9 L252.7 161.0 L253.1 162.2 L253.5 163.4 L253.9 164.9Z" fill="#fff" clip-path="url(#clipD3)"/>
<path d="M251.4 166.9 L250.9 168.6 L250.5 169.9 L250.0 171.0 L249.5 172.0 L249.0 173.0 L248.4 173.8 L247.8 174.6 L247.1 175.3 L246.5 175.9 L245.8 176.5 L245.2 177.0 L244.5 177.4 L243.9 177.9 L243.2 178.2 L242.6 178.6 L242.0 178.9 L241.4 179.3 L240.8 179.6 L240.1 179.9 L239.4 180.2 L238.7 180.4 L237.8 180.6 L236.4 180.8 L235.5 180.9 L234.6 180.9 L233.8 180.9 L233.1 180.7 L232.4 180.5 L231.7 180.2 L231.0 179.8 L230.4 179.3 L229.8 178.7 L229.3 178.1 L228.7 177.4 L228.2 176.7 L227.8 175.9 L227.3 175.1 L226.9 174.3 L226.4 173.4 L226.0 172.6 L225.6 171.7 L225.1 170.7 L224.7 169.7 L224.2 168.5 L223.7 166.9 L223.7 165.3 L223.8 164.1 L224.0 163.0 L224.1 162.0 L224.4 161.0 L224.7 160.1 L225.0 159.3 L225.4 158.5 L225.9 157.7 L226.4 157.1 L227.0 156.4 L227.6 155.9 L228.2 155.3 L228.9 154.9 L229.7 154.5 L230.4 154.1 L231.2 153.8 L232.1 153.5 L233.0 153.3 L233.9 153.2 L235.0 153.1 L236.2 153.0 L238.0 153.0 L239.2 153.1 L240.2 153.2 L241.2 153.4 L242.1 153.7 L242.9 154.0 L243.6 154.4 L244.4 154.8 L245.0 155.2 L245.6 155.8 L246.2 156.3 L246.8 156.9 L247.3 157.5 L247.9 158.1 L248.3 158.8 L248.8 159.5 L249.3 160.3 L249.7 161.1 L250.1 162.0 L250.5 162.9 L250.8 164.0 L251.1 165.2Z M247.0 166.9 L246.7 168.1 L246.4 169.0 L246.1 169.7 L245.7 170.5 L245.4 171.1 L245.0 171.7 L244.5 172.3 L244.1 172.7 L243.6 173.2 L243.2 173.6 L242.7 173.9 L242.2 174.2 L241.8 174.5 L241.4 174.8 L240.9 175.0 L240.5 175.3 L240.1 175.5 L239.7 175.7 L239.2 175.9 L238.7 176.1 L238.2 176.3 L237.6 176.5 L236.6 176.6 L236.0 176.6 L235.4 176.7 L234.8 176.6 L234.3 176.5 L233.8 176.4 L233.3 176.1 L232.9 175.8 L232.4 175.5 L232.0 175.1 L231.6 174.7 L231.3 174.2 L230.9 173.7 L230.6 173.2 L230.3 172.6 L230.0 172.0 L229.7 171.4 L229.4 170.8 L229.1 170.2 L228.8 169.5 L228.5 168.8 L228.1 168.0 L227.7 166.9 L227.8 165.8 L227.9 164.9 L228.0 164.2 L228.1 163.5 L228.2 162.8 L228.5 162.2 L228.7 161.6 L229.0 161.0 L229.3 160.5 L229.7 160.1 L230.1 159.6 L230.5 159.2 L230.9 158.9 L231.4 158.5 L231.9 158.2 L232.5 158.0 L233.0 157.8 L233.6 157.6 L234.2 157.5 L234.9 157.3 L235.6 157.3 L236.5 157.2 L237.7 157.3 L238.6 157.3 L239.3 157.4 L239.9 157.5 L240.6 157.7 L241.1 157.9 L241.6 158.2 L242.1 158.5 L242.6 158.8 L243.0 159.1 L243.5 159.5 L243.8 159.9 L244.2 160.3 L244.6 160.8 L244.9 161.3 L245.3 161.8 L245.6 162.3 L245.9 162.9 L246.2 163.5 L246.4 164.1 L246.7 164.9 L246.8 165.7Z" fill="#151515" fill-rule="evenodd" clip-path="url(#clipD3)"/>
<path d="M247.0 166.9 L246.7 168.1 L246.4 169.0 L246.1 169.7 L245.7 170.5 L245.4 171.1 L245.0 171.7 L244.5 172.3 L244.1 172.7 L243.6 173.2 L243.2 173.6 L242.7 173.9 L242.2 174.2 L241.8 174.5 L241.4 174.8 L240.9 175.0 L240.5 175.3 L240.1 175.5 L239.7 175.7 L239.2 175.9 L238.7 176.1 L238.2 176.3 L237.6 176.5 L236.6 176.6 L236.0 176.6 L235.4 176.7 L234.8 176.6 L234.3 176.5 L233.8 176.4 L233.3 176.1 L232.9 175.8 L232.4 175.5 L232.0 175.1 L231.6 174.7 L231.3 174.2 L230.9 173.7 L230.6 173.2 L230.3 172.6 L230.0 172.0 L229.7 171.4 L229.4 170.8 L229.1 170.2 L228.8 169.5 L228.5 168.8 L228.1 168.0 L227.7 166.9 L227.8 165.8 L227.9 164.9 L228.0 164.2 L228.1 163.5 L228.2 162.8 L228.5 162.2 L228.7 161.6 L229.0 161.0 L229.3 160.5 L229.7 160.1 L230.1 159.6 L230.5 159.2 L230.9 158.9 L231.4 158.5 L231.9 158.2 L232.5 158.0 L233.0 157.8 L233.6 157.6 L234.2 157.5 L234.9 157.3 L235.6 157.3 L236.5 157.2 L237.7 157.3 L238.6 157.3 L239.3 157.4 L239.9 157.5 L240.6 157.7 L241.1 157.9 L241.6 158.2 L242.1 158.5 L242.6 158.8 L243.0 159.1 L243.5 159.5 L243.8 159.9 L244.2 160.3 L244.6 160.8 L244.9 161.3 L245.3 161.8 L245.6 162.3 L245.9 162.9 L246.2 163.5 L246.4 164.1 L246.7 164.9 L246.8 165.7Z" fill="#444" clip-path="url(#clipD3)"/>
<path d="M253.9 166.9 L253.0 169.3 L252.3 171.1 L251.6 172.7 L250.8 174.1 L250.1 175.4 L249.3 176.7 L248.4 177.8 L247.6 178.8 L246.6 179.7 L245.6 180.5 L244.6 181.1 L243.6 181.5 L242.6 181.9 L241.5 182.1 L240.4 182.3 L239.3 182.6 L238.0 182.8 L236.2 183.0 L234.8 183.2 L233.5 183.3 L232.3 183.3 L231.2 183.1 L230.1 182.7 L229.1 182.0 L228.2 181.1 L227.4 180.0 L226.6 178.9 L226.0 177.6 L225.4 176.3 L224.8 175.0 L224.1 173.7 L223.4 172.4 L222.6 170.9 L221.7 169.2 L220.7 166.9 L220.7 164.5 L220.8 162.7 L221.1 161.0 L221.6 159.6 L222.2 158.3 L223.0 157.1 L223.9 156.1 L224.9 155.3 L225.9 154.5 L226.8 153.7 L227.8 153.0 L228.8 152.2 L229.9 151.5 L231.1 150.9 L232.4 150.3 L233.9 149.9 L235.8 149.7 L238.4 149.8 L240.2 150.0 L241.8 150.4 L243.1 151.0 L244.2 151.7 L245.3 152.5 L246.2 153.2 L247.2 153.9 L248.1 154.7 L249.1 155.5 L250.0 156.3 L250.9 157.3 L251.7 158.4 L252.4 159.6 L253.0 161.1 L253.4 162.6 L253.7 164.5Z M252.9 166.9 L252.3 169.2 L251.8 171.0 L251.2 172.5 L250.4 173.9 L249.6 175.1 L248.7 176.2 L247.8 177.2 L246.8 178.0 L245.8 178.7 L244.9 179.3 L243.9 179.7 L243.0 180.2 L242.1 180.6 L241.2 180.9 L240.2 181.3 L239.2 181.6 L238.0 181.9 L236.2 182.2 L234.9 182.3 L233.7 182.4 L232.6 182.3 L231.6 182.0 L230.6 181.6 L229.6 181.0 L228.7 180.2 L227.9 179.3 L227.2 178.3 L226.5 177.1 L225.8 176.0 L225.2 174.7 L224.7 173.4 L224.1 172.1 L223.6 170.6 L223.0 169.1 L222.3 166.9 L222.4 164.7 L222.5 163.1 L222.7 161.6 L223.0 160.2 L223.4 159.0 L223.9 157.7 L224.5 156.6 L225.3 155.6 L226.1 154.7 L227.0 153.9 L228.0 153.3 L229.1 152.7 L230.2 152.3 L231.5 151.9 L232.8 151.6 L234.2 151.5 L235.9 151.4 L238.3 151.4 L240.0 151.5 L241.4 151.7 L242.7 152.1 L243.8 152.5 L244.9 153.1 L245.9 153.7 L246.8 154.4 L247.6 155.3 L248.4 156.1 L249.1 157.1 L249.8 158.1 L250.4 159.2 L251.0 160.3 L251.6 161.6 L252.1 163.0 L252.5 164.6Z M251.6 166.9 L251.2 169.0 L250.8 170.7 L250.3 172.2 L249.7 173.5 L249.0 174.7 L248.2 175.8 L247.3 176.7 L246.3 177.4 L245.3 178.0 L244.3 178.4 L243.4 178.8 L242.5 179.1 L241.6 179.3 L240.8 179.7 L239.9 180.0 L239.0 180.4 L237.9 180.8 L236.3 181.1 L235.0 181.4 L233.9 181.6 L232.9 181.6 L231.8 181.4 L230.9 180.9 L230.0 180.3 L229.2 179.5 L228.5 178.5 L227.9 177.5 L227.3 176.3 L226.8 175.1 L226.4 174.0 L225.9 172.8 L225.4 171.6 L224.9 170.3 L224.2 168.9 L223.4 166.9 L223.3 164.9 L223.3 163.3 L223.4 161.9 L223.5 160.5 L223.9 159.2 L224.4 158.1 L225.0 157.0 L225.8 156.1 L226.7 155.4 L227.7 154.8 L228.7 154.4 L229.8 154.0 L230.9 153.7 L232.0 153.4 L233.2 153.2 L234.5 153.0 L236.0 152.8 L238.2 152.7 L239.8 152.6 L241.1 152.6 L242.4 152.8 L243.6 153.1 L244.6 153.6 L245.6 154.2 L246.4 154.9 L247.1 155.8 L247.8 156.7 L248.3 157.7 L248.8 158.8 L249.3 159.8 L249.8 160.9 L250.2 162.1 L250.7 163.4 L251.2 164.8Z M251.0 166.9 L250.4 168.9 L249.9 170.4 L249.2 171.7 L248.5 172.9 L247.7 173.9 L246.9 174.8 L246.1 175.6 L245.3 176.3 L244.5 176.9 L243.7 177.5 L243.0 178.0 L242.2 178.5 L241.5 178.9 L240.7 179.3 L239.9 179.7 L239.0 180.0 L237.9 180.2 L236.3 180.3 L235.2 180.3 L234.2 180.2 L233.3 180.0 L232.4 179.7 L231.6 179.3 L230.8 178.8 L230.0 178.2 L229.3 177.5 L228.6 176.6 L227.9 175.7 L227.3 174.7 L226.8 173.7 L226.3 172.6 L225.8 171.4 L225.3 170.2 L224.8 168.8 L224.2 166.9 L224.3 165.0 L224.4 163.6 L224.6 162.3 L224.9 161.1 L225.2 160.0 L225.7 159.0 L226.2 158.0 L226.9 157.2 L227.6 156.4 L228.5 155.8 L229.3 155.3 L230.3 154.8 L231.2 154.4 L232.3 154.1 L233.4 153.8 L234.6 153.6 L236.1 153.4 L238.1 153.4 L239.6 153.4 L240.9 153.6 L242.0 153.9 L243.0 154.3 L243.9 154.9 L244.7 155.5 L245.4 156.2 L246.1 156.9 L246.7 157.7 L247.4 158.5 L248.0 159.4 L248.5 160.2 L249.1 161.2 L249.7 162.3 L250.2 163.5 L250.6 164.9Z M250.0 166.9 L249.5 168.8 L249.0 170.2 L248.4 171.4 L247.7 172.5 L246.9 173.4 L246.1 174.2 L245.3 174.8 L244.6 175.4 L243.8 176.0 L243.1 176.5 L242.4 177.0 L241.8 177.4 L241.1 177.8 L240.4 178.2 L239.6 178.6 L238.8 178.9 L237.8 179.2 L236.4 179.4 L235.3 179.5 L234.4 179.4 L233.5 179.3 L232.7 179.0 L231.9 178.6 L231.2 178.1 L230.5 177.4 L229.9 176.6 L229.4 175.7 L228.9 174.8 L228.4 173.9 L227.9 172.9 L227.4 172.0 L226.9 171.0 L226.3 169.9 L225.7 168.6 L224.9 166.9 L225.0 165.1 L225.1 163.8 L225.4 162.6 L225.7 161.5 L226.1 160.5 L226.6 159.6 L227.2 158.8 L227.8 158.1 L228.5 157.4 L229.2 156.7 L229.9 156.2 L230.8 155.7 L231.6 155.3 L232.6 154.9 L233.7 154.7 L234.8 154.6 L236.1 154.5 L238.1 154.5 L239.4 154.6 L240.5 154.8 L241.5 155.1 L242.5 155.4 L243.3 155.9 L244.1 156.4 L244.8 157.0 L245.4 157.7 L246.0 158.4 L246.6 159.2 L247.1 160.0 L247.6 160.8 L248.2 161.7 L248.7 162.6 L249.2 163.7 L249.7 165.0Z M249.0 166.9 L248.5 168.6 L247.9 169.9 L247.3 170.9 L246.6 171.9 L245.9 172.7 L245.3 173.4 L244.6 174.2 L244.1 174.9 L243.5 175.5 L242.8 176.0 L242.1 176.4 L241.4 176.7 L240.7 176.9 L240.1 177.1 L239.4 177.3 L238.6 177.6 L237.7 177.9 L236.4 178.2 L235.5 178.4 L234.6 178.5 L233.8 178.3 L233.1 178.0 L232.4 177.5 L231.8 176.9 L231.2 176.3 L230.6 175.7 L230.0 175.0 L229.4 174.3 L228.8 173.6 L228.3 172.7 L227.8 171.8 L227.5 170.7 L227.2 169.6 L226.9 168.5 L226.5 166.9 L226.6 165.3 L226.6 164.2 L226.6 163.1 L226.8 162.0 L227.0 161.0 L227.4 160.2 L227.9 159.4 L228.5 158.8 L229.2 158.2 L229.9 157.7 L230.6 157.1 L231.3 156.6 L232.0 156.1 L232.9 155.7 L233.9 155.4 L234.9 155.3 L236.2 155.4 L238.0 155.6 L239.1 155.9 L240.1 156.2 L241.0 156.4 L241.9 156.7 L242.7 157.0 L243.5 157.3 L244.2 157.8 L244.9 158.3 L245.4 159.0 L245.8 159.8 L246.3 160.5 L246.7 161.3 L247.2 162.1 L247.7 163.0 L248.2 164.0 L248.7 165.2Z M247.9 166.9 L247.4 168.5 L246.9 169.6 L246.3 170.6 L245.7 171.4 L245.1 172.2 L244.4 172.8 L243.8 173.4 L243.2 173.9 L242.7 174.4 L242.1 174.9 L241.6 175.3 L241.0 175.8 L240.5 176.2 L239.9 176.5 L239.2 176.8 L238.5 177.0 L237.7 177.1 L236.5 177.2 L235.6 177.2 L234.9 177.1 L234.2 177.0 L233.5 176.8 L232.9 176.5 L232.2 176.1 L231.6 175.6 L231.1 175.0 L230.6 174.4 L230.1 173.7 L229.7 172.9 L229.3 172.0 L228.9 171.2 L228.6 170.3 L228.3 169.3 L227.9 168.3 L227.4 166.9 L227.4 165.5 L227.5 164.4 L227.6 163.4 L227.7 162.5 L227.9 161.6 L228.2 160.7 L228.6 160.0 L229.2 159.3 L229.7 158.8 L230.4 158.3 L231.1 157.9 L231.8 157.6 L232.6 157.3 L233.4 157.1 L234.3 156.9 L235.2 156.8 L236.3 156.7 L237.9 156.7 L239.0 156.7 L239.9 156.9 L240.8 157.1 L241.5 157.4 L242.2 157.8 L242.8 158.3 L243.4 158.8 L243.9 159.3 L244.5 159.9 L245.0 160.5 L245.5 161.1 L246.0 161.7 L246.5 162.5 L247.0 163.3 L247.4 164.2 L247.7 165.3Z" fill="none" stroke="#111" stroke-width="0.75" clip-path="url(#clipD3)"/>
<path d="M246.5 166.9 L246.2 168.3 L246.0 169.4 L245.6 170.3 L245.1 171.1 L244.5 171.8 L243.9 172.3 L243.2 172.8 L242.6 173.2 L242.0 173.6 L241.5 173.9 L241.1 174.4 L240.6 174.8 L240.1 175.2 L239.6 175.6 L239.0 175.9 L238.4 176.1 L237.6 176.1 L236.6 176.1 L235.8 176.0 L235.1 175.9 L234.5 175.8 L233.9 175.6 L233.3 175.4 L232.7 175.1 L232.2 174.8 L231.6 174.3 L231.2 173.7 L230.8 173.0 L230.5 172.2 L230.2 171.4 L229.9 170.7 L229.6 169.9 L229.2 169.1 L228.8 168.2 L228.2 166.9 L228.1 165.6 L228.1 164.6 L228.2 163.6 L228.4 162.8 L228.8 162.1 L229.3 161.5 L229.8 160.9 L230.3 160.4 L230.8 160.0 L231.3 159.5 L231.8 159.0 L232.4 158.6 L233.0 158.2 L233.7 157.8 L234.5 157.6 L235.4 157.5 L236.4 157.6 L237.8 157.7 L238.8 157.9 L239.6 158.2 L240.3 158.4 L241.0 158.6 L241.7 158.8 L242.3 159.1 L243.0 159.4 L243.5 159.8 L244.0 160.3 L244.4 160.9 L244.7 161.6 L245.0 162.3 L245.3 163.0 L245.5 163.8 L245.8 164.6 L246.2 165.6Z M245.6 166.9 L245.2 168.1 L244.8 169.0 L244.4 169.8 L244.0 170.5 L243.5 171.1 L243.0 171.6 L242.5 172.1 L242.0 172.5 L241.6 172.9 L241.1 173.3 L240.7 173.6 L240.2 173.9 L239.7 174.1 L239.3 174.4 L238.8 174.6 L238.2 174.8 L237.6 174.9 L236.6 175.0 L235.9 175.1 L235.3 175.1 L234.7 175.1 L234.2 174.9 L233.7 174.7 L233.2 174.3 L232.7 173.9 L232.3 173.3 L232.0 172.8 L231.6 172.2 L231.3 171.5 L231.0 170.9 L230.7 170.2 L230.4 169.6 L230.1 168.8 L229.7 168.0 L229.3 166.9 L229.3 165.8 L229.4 164.9 L229.5 164.1 L229.7 163.4 L229.9 162.7 L230.2 162.1 L230.5 161.5 L230.8 160.9 L231.3 160.5 L231.7 160.0 L232.3 159.6 L232.8 159.4 L233.5 159.1 L234.1 159.0 L234.8 158.9 L235.6 158.9 L236.5 158.9 L237.7 158.9 L238.6 159.0 L239.3 159.1 L240.0 159.3 L240.6 159.5 L241.2 159.7 L241.7 160.0 L242.2 160.4 L242.6 160.8 L243.1 161.2 L243.5 161.7 L243.8 162.2 L244.2 162.8 L244.5 163.4 L244.9 164.1 L245.1 164.8 L245.4 165.7Z M244.5 166.9 L244.2 168.0 L243.8 168.8 L243.5 169.4 L243.1 170.0 L242.7 170.6 L242.3 171.1 L241.9 171.5 L241.5 171.9 L241.1 172.2 L240.6 172.5 L240.2 172.7 L239.8 172.9 L239.3 173.1 L238.9 173.2 L238.5 173.4 L238.1 173.6 L237.5 173.9 L236.7 174.0 L236.1 174.2 L235.5 174.2 L235.0 174.1 L234.6 173.9 L234.1 173.6 L233.7 173.3 L233.3 172.9 L233.0 172.5 L232.6 172.0 L232.3 171.5 L232.0 171.0 L231.7 170.4 L231.5 169.8 L231.3 169.2 L231.0 168.6 L230.8 167.9 L230.4 166.9 L230.4 165.9 L230.4 165.2 L230.4 164.5 L230.5 163.8 L230.7 163.2 L231.0 162.6 L231.3 162.2 L231.7 161.7 L232.1 161.4 L232.5 161.0 L233.0 160.7 L233.4 160.4 L233.9 160.2 L234.5 160.0 L235.1 159.9 L235.8 159.9 L236.6 159.9 L237.6 159.9 L238.4 160.0 L239.0 160.1 L239.6 160.2 L240.2 160.4 L240.7 160.6 L241.1 160.8 L241.6 161.2 L241.9 161.6 L242.3 162.0 L242.6 162.4 L242.9 162.9 L243.2 163.4 L243.5 163.9 L243.8 164.4 L244.1 165.1 L244.3 165.8Z M243.2 166.9 L243.0 167.8 L242.7 168.5 L242.5 169.1 L242.2 169.6 L241.9 170.1 L241.5 170.5 L241.2 170.8 L240.8 171.1 L240.4 171.3 L240.0 171.6 L239.7 171.8 L239.4 172.0 L239.0 172.2 L238.7 172.5 L238.3 172.7 L237.9 172.9 L237.5 173.0 L236.7 173.1 L236.2 173.1 L235.8 173.0 L235.4 172.9 L235.0 172.7 L234.6 172.5 L234.3 172.2 L233.9 172.0 L233.6 171.6 L233.3 171.3 L233.0 170.9 L232.7 170.4 L232.5 169.9 L232.3 169.4 L232.1 168.9 L231.9 168.3 L231.7 167.7 L231.4 166.9 L231.4 166.1 L231.4 165.4 L231.5 164.8 L231.5 164.3 L231.7 163.7 L231.9 163.3 L232.1 162.8 L232.4 162.5 L232.8 162.2 L233.2 161.9 L233.6 161.6 L234.0 161.4 L234.4 161.2 L234.9 161.1 L235.4 160.9 L236.0 160.9 L236.6 160.8 L237.6 160.9 L238.2 161.0 L238.7 161.1 L239.2 161.3 L239.6 161.5 L240.0 161.7 L240.4 161.9 L240.8 162.1 L241.2 162.4 L241.6 162.6 L241.9 163.0 L242.2 163.3 L242.5 163.8 L242.7 164.3 L242.9 164.8 L243.0 165.4 L243.1 166.0Z" fill="none" stroke="#777" stroke-width="0.5" clip-path="url(#clipD3)"/>
<ellipse cx="236.5" cy="166" rx="1.0" ry="2.8" transform="rotate(35 236.5 166)" fill="#fff" clip-path="url(#clipD3)"/>
<ellipse cx="240" cy="171" rx="0.7" ry="2.0" transform="rotate(30 240 171)" fill="#fff" clip-path="url(#clipD3)"/>
<ellipse cx="238" cy="161" rx="0.8" ry="1.3" transform="rotate(0 238 161)" fill="#eee" clip-path="url(#clipD3)"/>
<path d="M255.5 205.9 L255.4 208.8 L255.3 210.7 L255.1 212.3 L254.8 213.7 L254.5 215.0 L254.0 216.2 L253.5 217.3 L253.0 218.3 L252.3 219.2 L251.6 220.0 L250.9 220.7 L250.1 221.3 L249.2 221.9 L248.3 222.3 L247.3 222.7 L246.3 223.1 L245.3 223.4 L244.2 223.6 L243.0 223.8 L241.7 223.9 L240.3 224.0 L238.5 224.1 L235.5 224.1 L233.7 224.1 L232.3 224.0 L231.0 223.9 L229.8 223.7 L228.6 223.5 L227.6 223.2 L226.6 222.8 L225.6 222.4 L224.7 221.9 L223.9 221.3 L223.1 220.7 L222.4 219.9 L221.7 219.1 L221.2 218.2 L220.6 217.2 L220.2 216.1 L219.8 214.9 L219.5 213.6 L219.2 212.2 L219.0 210.6 L218.9 208.8 L218.8 205.9 L218.9 203.1 L219.0 201.3 L219.2 199.7 L219.5 198.4 L219.8 197.1 L220.2 196.0 L220.6 194.9 L221.1 193.9 L221.6 193.0 L222.2 192.2 L222.8 191.4 L223.5 190.6 L224.3 190.0 L225.1 189.3 L226.0 188.8 L227.0 188.3 L228.0 187.9 L229.2 187.6 L230.4 187.3 L231.8 187.1 L233.4 187.0 L235.4 187.0 L238.6 187.0 L240.6 187.2 L242.1 187.4 L243.5 187.6 L244.7 187.9 L245.8 188.3 L246.8 188.7 L247.7 189.2 L248.6 189.8 L249.4 190.3 L250.2 191.0 L250.9 191.7 L251.6 192.4 L252.2 193.2 L252.8 194.1 L253.3 195.0 L253.8 196.0 L254.2 197.1 L254.6 198.3 L254.9 199.7 L255.2 201.2 L255.4 203.0Z" fill="#161616" stroke="#111" stroke-width="0.8" clip-path="url(#clipD3)"/>
<ellipse cx="240" cy="203" rx="6" ry="6" fill="#333" opacity="0.6" clip-path="url(#clipD3)"/>
<ellipse cx="231.2" cy="207.8" rx="1.6" ry="1.9" transform="rotate(0 231.2 207.8)" fill="#fff" opacity="0.9" clip-path="url(#clipD3)"/>
<ellipse cx="243.8" cy="200.5" rx="1.2" ry="1.7" transform="rotate(0 243.8 200.5)" fill="#fff" opacity="0.9" clip-path="url(#clipD3)"/>
<path d="M228 198 C231 195 236 195 239 198 M240 196 C244 197 246 201 245 205 M227 214 C231 217 236 217 240 214 M233 201 C235 204 236 207 235 211" fill="none" stroke="#6a6a6a" stroke-width="0.6" clip-path="url(#clipD3)"/>
<path d="M256.7 205.9 L256.6 209.0 L256.5 211.0 L256.3 212.7 L256.0 214.2 L255.6 215.6 L255.2 216.9 L254.6 218.0 L254.0 219.1 L253.4 220.0 L252.6 220.9 L251.8 221.6 L250.9 222.3 L250.0 222.9 L249.0 223.4 L248.0 223.8 L247.0 224.2 L245.8 224.5 L244.7 224.7 L243.4 224.9 L242.0 225.1 L240.5 225.2 L238.6 225.2 L235.4 225.2 L233.5 225.2 L231.9 225.1 L230.6 225.0 L229.3 224.8 L228.1 224.6 L227.0 224.3 L225.9 223.9 L224.9 223.5 L223.9 222.9 L223.0 222.3 L222.2 221.6 L221.4 220.8 L220.7 219.9 L220.1 219.0 L219.5 217.9 L219.1 216.7 L218.6 215.5 L218.3 214.1 L218.0 212.6 L217.8 210.9 L217.7 208.9 L217.6 205.9 L217.7 202.9 L217.8 201.0 L218.1 199.3 L218.3 197.9 L218.7 196.6 L219.1 195.4 L219.5 194.2 L220.0 193.2 L220.6 192.2 L221.2 191.3 L221.9 190.4 L222.6 189.7 L223.4 188.9 L224.3 188.3 L225.3 187.7 L226.3 187.2 L227.4 186.8 L228.7 186.4 L230.0 186.1 L231.5 185.9 L233.2 185.8 L235.3 185.8 L238.7 185.9 L240.8 186.0 L242.5 186.2 L243.9 186.4 L245.2 186.8 L246.4 187.2 L247.4 187.6 L248.4 188.2 L249.4 188.7 L250.2 189.4 L251.1 190.0 L251.8 190.8 L252.5 191.6 L253.2 192.4 L253.8 193.3 L254.4 194.3 L254.9 195.4 L255.4 196.6 L255.8 197.9 L256.1 199.3 L256.4 200.9 L256.6 202.8Z M258.0 205.9 L257.8 209.2 L257.7 211.3 L257.5 213.1 L257.2 214.7 L256.8 216.2 L256.3 217.5 L255.7 218.7 L255.1 219.8 L254.4 220.9 L253.6 221.8 L252.7 222.6 L251.8 223.3 L250.8 223.9 L249.8 224.4 L248.7 224.9 L247.6 225.3 L246.4 225.6 L245.1 225.8 L243.8 226.0 L242.4 226.2 L240.7 226.3 L238.7 226.4 L235.3 226.4 L233.3 226.4 L231.6 226.3 L230.2 226.2 L228.8 226.0 L227.5 225.7 L226.3 225.4 L225.2 225.0 L224.1 224.5 L223.1 224.0 L222.2 223.3 L221.3 222.6 L220.5 221.7 L219.7 220.8 L219.0 219.7 L218.4 218.6 L217.9 217.4 L217.5 216.0 L217.1 214.6 L216.9 213.0 L216.6 211.2 L216.5 209.1 L216.4 205.9 L216.5 202.7 L216.6 200.7 L216.9 198.9 L217.2 197.4 L217.5 196.0 L217.9 194.7 L218.4 193.5 L218.9 192.4 L219.5 191.4 L220.2 190.4 L220.9 189.5 L221.7 188.7 L222.6 187.9 L223.5 187.2 L224.5 186.6 L225.6 186.1 L226.8 185.6 L228.1 185.3 L229.6 185.0 L231.1 184.8 L232.9 184.6 L235.1 184.6 L238.9 184.7 L241.0 184.8 L242.8 185.0 L244.3 185.3 L245.7 185.6 L246.9 186.1 L248.1 186.6 L249.2 187.1 L250.2 187.7 L251.1 188.4 L251.9 189.1 L252.7 189.9 L253.5 190.7 L254.2 191.6 L254.9 192.6 L255.5 193.6 L256.0 194.8 L256.5 196.0 L256.9 197.4 L257.3 198.9 L257.6 200.6 L257.8 202.7Z" fill="none" stroke="#1a1a1a" stroke-width="0.7" clip-path="url(#clipD3)"/>
<line x1="248.30" y1="144.30" x2="248.30" y2="228.80" stroke="#111" stroke-width="1.0"/>
<line x1="216.50" y1="187.10" x2="301.40" y2="187.10" stroke="#111" stroke-width="1.0"/>
<rect x="216.5" y="144.3" width="84.89999999999998" height="84.5" fill="none" stroke="#111" stroke-width="1.0"/>
<g transform="translate(216.90 153.20) scale(0.9444 1)"><text class="m" data-k="89b6c562b8" font-size="8.9" text-anchor="start" >23.8</text></g>
<g transform="translate(298.60 153.40) scale(0.9978 1)"><text class="m" data-k="b8a7f90de7" font-size="8.9" text-anchor="end" >3.03</text></g>
<g transform="translate(299.20 223.90) scale(0.9847 1)"><text class="m" data-k="78e55d221e" font-size="9.2" text-anchor="end" >4.59</text></g>
<g transform="translate(260.00 141.20) scale(0.8439 1)"><text class="m" data-k="32ef9c59b7" font-size="9.6" text-anchor="middle" >GVHD</text></g>
<line x1="215.00" y1="151.00" x2="216.50" y2="151.00" stroke="#111" stroke-width="0.5"/>
<g transform="translate(214.50 152.40)"><text class="m" data-k="619d49a557" font-size="4.0" text-anchor="end" font-weight="bold" >10<tspan dy="-1.3" font-size="2.7">5</tspan></text></g>
<line x1="215.00" y1="171.40" x2="216.50" y2="171.40" stroke="#111" stroke-width="0.5"/>
<g transform="translate(214.50 172.80)"><text class="m" data-k="aee35fed06" font-size="4.0" text-anchor="end" font-weight="bold" >10<tspan dy="-1.3" font-size="2.7">4</tspan></text></g>
<line x1="215.00" y1="192.40" x2="216.50" y2="192.40" stroke="#111" stroke-width="0.5"/>
<g transform="translate(214.50 193.80)"><text class="m" data-k="83d68e96ac" font-size="4.0" text-anchor="end" font-weight="bold" >10<tspan dy="-1.3" font-size="2.7">3</tspan></text></g>
<line x1="215.00" y1="209.50" x2="216.50" y2="209.50" stroke="#111" stroke-width="0.5"/>
<g transform="translate(214.50 210.90)"><text class="m" data-k="12c0fdcf93" font-size="4.0" text-anchor="end" font-weight="bold" >0</text></g>
<line x1="227.00" y1="228.80" x2="227.00" y2="230.30" stroke="#111" stroke-width="0.5"/>
<g transform="translate(227.00 236.80)"><text class="m" data-k="12c0fdcf93" font-size="4.0" text-anchor="middle" font-weight="bold" >0</text></g>
<line x1="235.00" y1="228.80" x2="235.00" y2="230.30" stroke="#111" stroke-width="0.5"/>
<g transform="translate(235.00 236.80)"><text class="m" data-k="5b9edbbd85" font-size="4.0" text-anchor="middle" font-weight="bold" >10<tspan dy="-1.3" font-size="2.7">2</tspan></text></g>
<line x1="253.50" y1="228.80" x2="253.50" y2="230.30" stroke="#111" stroke-width="0.5"/>
<g transform="translate(253.50 236.80)"><text class="m" data-k="83d68e96ac" font-size="4.0" text-anchor="middle" font-weight="bold" >10<tspan dy="-1.3" font-size="2.7">3</tspan></text></g>
<line x1="275.00" y1="228.80" x2="275.00" y2="230.30" stroke="#111" stroke-width="0.5"/>
<g transform="translate(275.00 236.80)"><text class="m" data-k="aee35fed06" font-size="4.0" text-anchor="middle" font-weight="bold" >10<tspan dy="-1.3" font-size="2.7">4</tspan></text></g>
<line x1="293.80" y1="228.80" x2="293.80" y2="230.30" stroke="#111" stroke-width="0.5"/>
<g transform="translate(293.80 236.80)"><text class="m" data-k="619d49a557" font-size="4.0" text-anchor="middle" font-weight="bold" >10<tspan dy="-1.3" font-size="2.7">5</tspan></text></g>
<line x1="3.50" y1="200.50" x2="3.50" y2="149.00" stroke="#111" stroke-width="1.0"/>
<path d="M3.5 144.8 L1.3 150.5 L5.7 150.5 Z" fill="#111"/>
<g transform="translate(7.40 215.50) rotate(-90) scale(1.0628 1)"><text class="m" data-k="4e003bfb20" font-size="9.8" text-anchor="middle" >CD8<tspan font-family="Liberation Serif" font-style="italic">α</tspan></text></g>
<g transform="translate(43.60 247.40) scale(0.9757 1)"><text class="m" data-k="9bb7e94af0" font-size="9.6" text-anchor="middle" >MCMV-GFP</text></g>
<line x1="74.00" y1="243.60" x2="296.00" y2="243.60" stroke="#111" stroke-width="1.0"/>
<path d="M301 243.6 L294.5 240.9 L294.5 246.3 Z" fill="#111"/>
<g transform="translate(9.60 140.90)"><text class="m" data-k="f6537d5fe8" font-size="12" text-anchor="end" font-weight="bold" >D</text></g>
</svg></body></html>
